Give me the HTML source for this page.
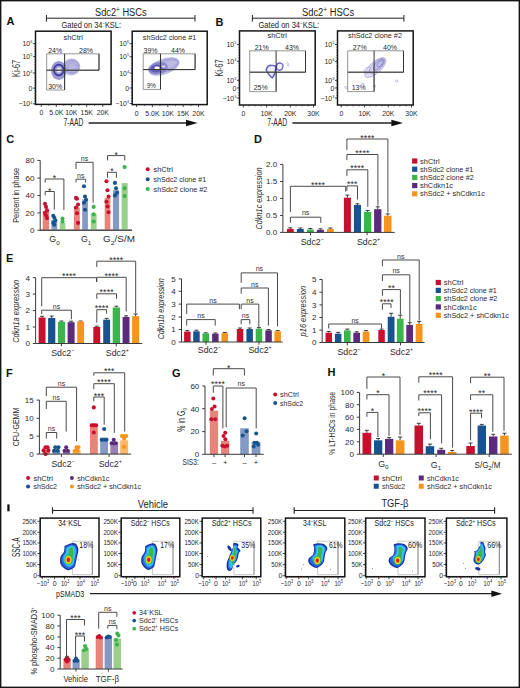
<!DOCTYPE html>
<html><head><meta charset="utf-8"><style>
html,body{margin:0;padding:0;background:#fff;}
svg{display:block;}
text{font-family:"Liberation Sans", sans-serif;}
</style></head><body>
<svg width="520" height="688" viewBox="0 0 520 688">
<rect width="520" height="688" fill="#fff"/>
<rect x="0.7" y="0.7" width="518.6" height="686.6" fill="none" stroke="#161616" stroke-width="1.4"/>
<text x="6.5" y="25.16" font-size="11" text-anchor="start" font-weight="bold" font-style="normal" fill="#111">A</text>
<text x="215.6" y="25.76" font-size="11" text-anchor="start" font-weight="bold" font-style="normal" fill="#111">B</text>
<text x="6.2" y="142.56" font-size="11" text-anchor="start" font-weight="bold" font-style="normal" fill="#111">C</text>
<text x="254" y="142.76" font-size="11" text-anchor="start" font-weight="bold" font-style="normal" fill="#111">D</text>
<text x="6" y="261.76" font-size="11" text-anchor="start" font-weight="bold" font-style="normal" fill="#111">E</text>
<text x="6" y="376.56" font-size="11" text-anchor="start" font-weight="bold" font-style="normal" fill="#111">F</text>
<text x="172" y="376.56" font-size="11" text-anchor="start" font-weight="bold" font-style="normal" fill="#111">G</text>
<text x="327.6" y="376.36" font-size="11" text-anchor="start" font-weight="bold" font-style="normal" fill="#111">H</text>
<rect x="7.3" y="504.4" width="2.3" height="6.9" fill="#111"/>
<text x="120.5" y="15.50" font-size="10" text-anchor="start" font-weight="normal" font-style="normal" fill="#2a2a2a"></text>
<text x="95" y="15.6" font-size="10" fill="#222" textLength="51.6" lengthAdjust="spacingAndGlyphs">Sdc2<tspan font-size="7" dy="-3.6">+</tspan><tspan dy="3.6"> HSCs</tspan></text>
<path d="M46.4,15 V21.6 M46.4,18.2 H195 M195,15 V21.6" stroke="#222" stroke-width="1.0" fill="none" />
<text x="61.6" y="27.6" font-size="8.6" fill="#222" textLength="59.4" lengthAdjust="spacingAndGlyphs">Gated on 34<tspan font-size="5" dy="-3">−</tspan><tspan dy="3">KSL:</tspan></text>
<text x="302" y="15.6" font-size="10" fill="#222" textLength="52.2" lengthAdjust="spacingAndGlyphs">Sdc2<tspan font-size="7" dy="-3.6">+</tspan><tspan dy="3.6"> HSCs</tspan></text>
<path d="M252.4,15 V21.6 M252.4,18.2 H403.9 M403.9,15 V21.6" stroke="#222" stroke-width="1.0" fill="none" />
<text x="258.5" y="27.6" font-size="8.6" fill="#222" textLength="60.5" lengthAdjust="spacingAndGlyphs">Gated on 34<tspan font-size="5" dy="-3">−</tspan><tspan dy="3">KSL:</tspan></text>
<rect x="35.5" y="31.2" width="75.6" height="73.2" fill="none" stroke="#161616" stroke-width="1.5"/>
<text x="73.2" y="40.09" font-size="7.2" text-anchor="middle" font-weight="normal" font-style="normal" fill="#2a2a2a" textLength="19.2" lengthAdjust="spacingAndGlyphs">shCtrl</text>
<defs><filter id="bs" x="-30%" y="-30%" width="160%" height="160%"><feGaussianBlur stdDeviation="0.55"/></filter></defs>
<g filter="url(#bs)"><ellipse cx="71.5" cy="67" rx="8.8" ry="8.4" fill="#a9a6da" fill-opacity="0.8"/><ellipse cx="72" cy="66.8" rx="6.6" ry="6.2" fill="none" stroke="#8986cc" stroke-width="0.7"/><ellipse cx="72" cy="67" rx="4.2" ry="4" fill="none" stroke="#9a97d4" stroke-width="0.6"/><ellipse cx="58.8" cy="70.5" rx="7.8" ry="9.4" fill="#8a86cc" fill-opacity="0.85"/><ellipse cx="58.8" cy="70" rx="4.9" ry="5.3" fill="none" stroke="#3e3aa4" stroke-width="1.8"/><ellipse cx="58.9" cy="70" rx="2.4" ry="2.7" fill="#e6e5f6"/></g>
<path d="M46.7,53.8 H99 V70.2 H46.7 Z M46.7,70.2 V90 H64.6 V70.2" stroke="#8a8a8a" stroke-width="0.9" fill="none" />
<path d="M64.6,53.8 V90 M46.7,70.2 H99 M99,53.8 V70.2" stroke="#333" stroke-width="1.0" fill="none" />
<text x="55.2" y="53.24" font-size="7.9" text-anchor="middle" font-weight="normal" font-style="normal" fill="#2a2a2a" textLength="14" lengthAdjust="spacingAndGlyphs">24%</text>
<text x="86" y="53.24" font-size="7.9" text-anchor="middle" font-weight="normal" font-style="normal" fill="#2a2a2a" textLength="14" lengthAdjust="spacingAndGlyphs">28%</text>
<text x="55.2" y="89.04" font-size="7.9" text-anchor="middle" font-weight="normal" font-style="normal" fill="#2a2a2a" textLength="14" lengthAdjust="spacingAndGlyphs">30%</text>
<line x1="34.1" y1="43.7" x2="35.5" y2="43.7" stroke="#333" stroke-width="0.5"/>
<line x1="34.1" y1="46.3" x2="35.5" y2="46.3" stroke="#333" stroke-width="0.5"/>
<line x1="34.1" y1="48.9" x2="35.5" y2="48.9" stroke="#333" stroke-width="0.5"/>
<line x1="34.1" y1="51.5" x2="35.5" y2="51.5" stroke="#333" stroke-width="0.5"/>
<line x1="34.1" y1="54.2" x2="35.5" y2="54.2" stroke="#333" stroke-width="0.5"/>
<line x1="34.1" y1="56.8" x2="35.5" y2="56.8" stroke="#333" stroke-width="0.5"/>
<line x1="34.1" y1="59.4" x2="35.5" y2="59.4" stroke="#333" stroke-width="0.5"/>
<line x1="34.1" y1="62.0" x2="35.5" y2="62.0" stroke="#333" stroke-width="0.5"/>
<line x1="34.1" y1="64.6" x2="35.5" y2="64.6" stroke="#333" stroke-width="0.5"/>
<line x1="34.1" y1="67.2" x2="35.5" y2="67.2" stroke="#333" stroke-width="0.5"/>
<line x1="34.1" y1="69.8" x2="35.5" y2="69.8" stroke="#333" stroke-width="0.5"/>
<line x1="34.1" y1="72.4" x2="35.5" y2="72.4" stroke="#333" stroke-width="0.5"/>
<line x1="34.1" y1="75.1" x2="35.5" y2="75.1" stroke="#333" stroke-width="0.5"/>
<line x1="34.1" y1="77.7" x2="35.5" y2="77.7" stroke="#333" stroke-width="0.5"/>
<line x1="34.1" y1="80.3" x2="35.5" y2="80.3" stroke="#333" stroke-width="0.5"/>
<line x1="34.1" y1="82.9" x2="35.5" y2="82.9" stroke="#333" stroke-width="0.5"/>
<line x1="34.1" y1="85.5" x2="35.5" y2="85.5" stroke="#333" stroke-width="0.5"/>
<line x1="34.1" y1="88.1" x2="35.5" y2="88.1" stroke="#333" stroke-width="0.5"/>
<line x1="34.1" y1="90.7" x2="35.5" y2="90.7" stroke="#333" stroke-width="0.5"/>
<line x1="34.1" y1="93.3" x2="35.5" y2="93.3" stroke="#333" stroke-width="0.5"/>
<line x1="34.1" y1="96.0" x2="35.5" y2="96.0" stroke="#333" stroke-width="0.5"/>
<line x1="34.1" y1="98.6" x2="35.5" y2="98.6" stroke="#333" stroke-width="0.5"/>
<line x1="34.1" y1="101.2" x2="35.5" y2="101.2" stroke="#333" stroke-width="0.5"/>
<line x1="34.1" y1="103.8" x2="35.5" y2="103.8" stroke="#333" stroke-width="0.5"/>
<line x1="32.9" y1="43.7" x2="35.5" y2="43.7" stroke="#222" stroke-width="0.8"/>
<text x="32.3" y="46.20" font-size="6.9" text-anchor="end" fill="#2a2a2a">10<tspan font-size="3.80" dy="-2.8">6</tspan></text>
<line x1="32.9" y1="56.7" x2="35.5" y2="56.7" stroke="#222" stroke-width="0.8"/>
<text x="32.3" y="59.20" font-size="6.9" text-anchor="end" fill="#2a2a2a">10<tspan font-size="3.80" dy="-2.8">5</tspan></text>
<line x1="32.9" y1="73.1" x2="35.5" y2="73.1" stroke="#222" stroke-width="0.8"/>
<text x="32.3" y="75.60" font-size="6.9" text-anchor="end" fill="#2a2a2a">10<tspan font-size="3.80" dy="-2.8">4</tspan></text>
<line x1="32.9" y1="88.1" x2="35.5" y2="88.1" stroke="#222" stroke-width="0.8"/>
<text x="32.3" y="90.60" font-size="6.9" text-anchor="end" fill="#2a2a2a">0</text>
<line x1="32.9" y1="103.8" x2="35.5" y2="103.8" stroke="#222" stroke-width="0.8"/>
<text x="32.3" y="106.30" font-size="6.9" text-anchor="end" fill="#2a2a2a">−10<tspan font-size="3.80" dy="-2.8">4</tspan></text>
<line x1="41.3" y1="104.4" x2="41.3" y2="106.9" stroke="#222" stroke-width="0.8"/>
<text x="41.3" y="115.38" font-size="6.9" text-anchor="middle" font-weight="normal" font-style="normal" fill="#2a2a2a">0</text>
<line x1="56.3" y1="104.4" x2="56.3" y2="106.9" stroke="#222" stroke-width="0.8"/>
<text x="56.3" y="115.38" font-size="6.9" text-anchor="middle" font-weight="normal" font-style="normal" fill="#2a2a2a">5.0K</text>
<line x1="71.3" y1="104.4" x2="71.3" y2="106.9" stroke="#222" stroke-width="0.8"/>
<text x="71.3" y="115.38" font-size="6.9" text-anchor="middle" font-weight="normal" font-style="normal" fill="#2a2a2a">10K</text>
<line x1="86.7" y1="104.4" x2="86.7" y2="106.9" stroke="#222" stroke-width="0.8"/>
<text x="86.7" y="115.38" font-size="6.9" text-anchor="middle" font-weight="normal" font-style="normal" fill="#2a2a2a">15K</text>
<line x1="102.8" y1="104.4" x2="102.8" y2="106.9" stroke="#222" stroke-width="0.8"/>
<text x="102.8" y="115.38" font-size="6.9" text-anchor="middle" font-weight="normal" font-style="normal" fill="#2a2a2a">20K</text>
<line x1="48.8" y1="104.4" x2="48.8" y2="105.9" stroke="#222" stroke-width="0.6"/>
<line x1="63.8" y1="104.4" x2="63.8" y2="105.9" stroke="#222" stroke-width="0.6"/>
<line x1="79" y1="104.4" x2="79" y2="105.9" stroke="#222" stroke-width="0.6"/>
<line x1="94.7" y1="104.4" x2="94.7" y2="105.9" stroke="#222" stroke-width="0.6"/>
<text x="16.1" y="68.4" font-size="10.5" text-anchor="middle" fill="#333" transform="rotate(-90 16.1 68.4)" dy="3.78" textLength="17" lengthAdjust="spacingAndGlyphs">Ki-67</text>
<rect x="132.2" y="31.2" width="75.0" height="73.39999999999999" fill="none" stroke="#161616" stroke-width="1.5"/>
<text x="169.5" y="40.09" font-size="7.2" text-anchor="middle" font-weight="normal" font-style="normal" fill="#2a2a2a" textLength="53.4" lengthAdjust="spacingAndGlyphs">shSdc2 clone #1</text>
<g filter="url(#bs)"><ellipse cx="164" cy="66.5" rx="16.2" ry="8" transform="rotate(-20 164 66.5)" fill="#aeabdc" fill-opacity="0.8"/><ellipse cx="167" cy="65.5" rx="12" ry="5.5" transform="rotate(-20 167 65.5)" fill="none" stroke="#8e8bcf" stroke-width="0.7"/><ellipse cx="170" cy="64.5" rx="8" ry="3.5" transform="rotate(-22 170 64.5)" fill="none" stroke="#9c99d6" stroke-width="0.6"/><ellipse cx="158" cy="68.2" rx="10" ry="6" transform="rotate(-12 158 68.2)" fill="#7a76c4" fill-opacity="0.75"/><ellipse cx="156.6" cy="68.4" rx="6" ry="3.8" transform="rotate(-8 156.6 68.4)" fill="#4f4bac" fill-opacity="0.75"/><ellipse cx="157" cy="68" rx="2.7" ry="1.4" fill="#ffffff"/><ellipse cx="163.5" cy="66.5" rx="2" ry="0.9" fill="#e4e2f4"/></g>
<path d="M143.2,53.8 H195.1 V69.6 H143.2 Z M143.2,69.6 V89.4 H160.5 V69.6" stroke="#8a8a8a" stroke-width="0.9" fill="none" />
<path d="M160.5,53.8 V89.4 M143.2,69.6 H195.1 M195.1,53.8 V69.6" stroke="#333" stroke-width="1.0" fill="none" />
<text x="150.5" y="52.84" font-size="7.9" text-anchor="middle" font-weight="normal" font-style="normal" fill="#2a2a2a" textLength="14" lengthAdjust="spacingAndGlyphs">39%</text>
<text x="178" y="52.84" font-size="7.9" text-anchor="middle" font-weight="normal" font-style="normal" fill="#2a2a2a" textLength="14" lengthAdjust="spacingAndGlyphs">44%</text>
<text x="151.4" y="87.84" font-size="7.9" text-anchor="middle" font-weight="normal" font-style="normal" fill="#2a2a2a" textLength="9" lengthAdjust="spacingAndGlyphs">9%</text>
<line x1="130.79999999999998" y1="43.7" x2="132.2" y2="43.7" stroke="#333" stroke-width="0.5"/>
<line x1="130.79999999999998" y1="46.4" x2="132.2" y2="46.4" stroke="#333" stroke-width="0.5"/>
<line x1="130.79999999999998" y1="49.1" x2="132.2" y2="49.1" stroke="#333" stroke-width="0.5"/>
<line x1="130.79999999999998" y1="51.9" x2="132.2" y2="51.9" stroke="#333" stroke-width="0.5"/>
<line x1="130.79999999999998" y1="54.6" x2="132.2" y2="54.6" stroke="#333" stroke-width="0.5"/>
<line x1="130.79999999999998" y1="57.3" x2="132.2" y2="57.3" stroke="#333" stroke-width="0.5"/>
<line x1="130.79999999999998" y1="60.0" x2="132.2" y2="60.0" stroke="#333" stroke-width="0.5"/>
<line x1="130.79999999999998" y1="62.7" x2="132.2" y2="62.7" stroke="#333" stroke-width="0.5"/>
<line x1="130.79999999999998" y1="65.4" x2="132.2" y2="65.4" stroke="#333" stroke-width="0.5"/>
<line x1="130.79999999999998" y1="68.2" x2="132.2" y2="68.2" stroke="#333" stroke-width="0.5"/>
<line x1="130.79999999999998" y1="70.9" x2="132.2" y2="70.9" stroke="#333" stroke-width="0.5"/>
<line x1="130.79999999999998" y1="73.6" x2="132.2" y2="73.6" stroke="#333" stroke-width="0.5"/>
<line x1="130.79999999999998" y1="76.3" x2="132.2" y2="76.3" stroke="#333" stroke-width="0.5"/>
<line x1="130.79999999999998" y1="79.0" x2="132.2" y2="79.0" stroke="#333" stroke-width="0.5"/>
<line x1="130.79999999999998" y1="81.8" x2="132.2" y2="81.8" stroke="#333" stroke-width="0.5"/>
<line x1="130.79999999999998" y1="84.5" x2="132.2" y2="84.5" stroke="#333" stroke-width="0.5"/>
<line x1="130.79999999999998" y1="87.2" x2="132.2" y2="87.2" stroke="#333" stroke-width="0.5"/>
<line x1="130.79999999999998" y1="89.9" x2="132.2" y2="89.9" stroke="#333" stroke-width="0.5"/>
<line x1="130.79999999999998" y1="92.6" x2="132.2" y2="92.6" stroke="#333" stroke-width="0.5"/>
<line x1="130.79999999999998" y1="95.3" x2="132.2" y2="95.3" stroke="#333" stroke-width="0.5"/>
<line x1="130.79999999999998" y1="98.1" x2="132.2" y2="98.1" stroke="#333" stroke-width="0.5"/>
<line x1="130.79999999999998" y1="100.8" x2="132.2" y2="100.8" stroke="#333" stroke-width="0.5"/>
<line x1="130.79999999999998" y1="103.5" x2="132.2" y2="103.5" stroke="#333" stroke-width="0.5"/>
<line x1="129.6" y1="43.7" x2="132.2" y2="43.7" stroke="#222" stroke-width="0.8"/>
<text x="129.0" y="46.20" font-size="6.9" text-anchor="end" fill="#2a2a2a">10<tspan font-size="3.80" dy="-2.8">6</tspan></text>
<line x1="129.6" y1="56.7" x2="132.2" y2="56.7" stroke="#222" stroke-width="0.8"/>
<text x="129.0" y="59.20" font-size="6.9" text-anchor="end" fill="#2a2a2a">10<tspan font-size="3.80" dy="-2.8">5</tspan></text>
<line x1="129.6" y1="73" x2="132.2" y2="73" stroke="#222" stroke-width="0.8"/>
<text x="129.0" y="75.50" font-size="6.9" text-anchor="end" fill="#2a2a2a">10<tspan font-size="3.80" dy="-2.8">4</tspan></text>
<line x1="129.6" y1="88" x2="132.2" y2="88" stroke="#222" stroke-width="0.8"/>
<text x="129.0" y="90.50" font-size="6.9" text-anchor="end" fill="#2a2a2a">0</text>
<line x1="129.6" y1="103.5" x2="132.2" y2="103.5" stroke="#222" stroke-width="0.8"/>
<text x="129.0" y="106.00" font-size="6.9" text-anchor="end" fill="#2a2a2a">−10<tspan font-size="3.80" dy="-2.8">4</tspan></text>
<line x1="136.6" y1="104.6" x2="136.6" y2="107.1" stroke="#222" stroke-width="0.8"/>
<text x="136.6" y="115.58" font-size="6.9" text-anchor="middle" font-weight="normal" font-style="normal" fill="#2a2a2a">0</text>
<line x1="152.4" y1="104.6" x2="152.4" y2="107.1" stroke="#222" stroke-width="0.8"/>
<text x="152.4" y="115.58" font-size="6.9" text-anchor="middle" font-weight="normal" font-style="normal" fill="#2a2a2a">5.0K</text>
<line x1="167.8" y1="104.6" x2="167.8" y2="107.1" stroke="#222" stroke-width="0.8"/>
<text x="167.8" y="115.58" font-size="6.9" text-anchor="middle" font-weight="normal" font-style="normal" fill="#2a2a2a">10K</text>
<line x1="183.2" y1="104.6" x2="183.2" y2="107.1" stroke="#222" stroke-width="0.8"/>
<text x="183.2" y="115.58" font-size="6.9" text-anchor="middle" font-weight="normal" font-style="normal" fill="#2a2a2a">15K</text>
<line x1="198.5" y1="104.6" x2="198.5" y2="107.1" stroke="#222" stroke-width="0.8"/>
<text x="198.5" y="115.58" font-size="6.9" text-anchor="middle" font-weight="normal" font-style="normal" fill="#2a2a2a">20K</text>
<line x1="144.5" y1="104.6" x2="144.5" y2="106.1" stroke="#222" stroke-width="0.6"/>
<line x1="160" y1="104.6" x2="160" y2="106.1" stroke="#222" stroke-width="0.6"/>
<line x1="175.5" y1="104.6" x2="175.5" y2="106.1" stroke="#222" stroke-width="0.6"/>
<line x1="191" y1="104.6" x2="191" y2="106.1" stroke="#222" stroke-width="0.6"/>
<text x="73.4" y="126.44" font-size="10.4" text-anchor="middle" font-weight="normal" font-style="normal" fill="#2a2a2a" textLength="20" lengthAdjust="spacingAndGlyphs">7-AAD</text>
<path d="M88.6,123 H188" stroke="#222" stroke-width="1.3" fill="none" />
<path d="M186,119.8 L197.6,123 L186,126.2 Z" stroke="none" stroke-width="0" fill="#111" />
<rect x="239.5" y="30.9" width="75.69999999999999" height="74.1" fill="none" stroke="#161616" stroke-width="1.5"/>
<text x="277.2" y="38.39" font-size="7.2" text-anchor="middle" font-weight="normal" font-style="normal" fill="#2a2a2a" textLength="19.2" lengthAdjust="spacingAndGlyphs">shCtrl</text>
<g filter="url(#bs)"><path d="M266.2,69.3 C267.5,66.5 269.5,65.2 271,65.4 C273,65.3 275,65.6 275.6,66.5 C276,70 274.5,75 272.3,77.9 C270.5,77 269,74.5 268,73.2 C267,72 266.2,70.5 266.2,69.3 Z" fill="#dcdaf2" fill-opacity="0.5" stroke="#625ebc" stroke-width="1.5"/><ellipse cx="279.7" cy="66.6" rx="3.2" ry="3.6" transform="rotate(15 279.7 66.6)" fill="#e0def4" fill-opacity="0.4" stroke="#6c68c2" stroke-width="1.3"/><path d="M287,62.5 C288.5,62 289.5,65 288.5,66.2 C287.5,66.5 286.5,64 287,62.5 Z" fill="none" stroke="#a6a2d8" stroke-width="0.6"/></g>
<path d="M249.7,50.8 H305.5 V72.2 H249.7 Z M249.7,72.2 V91.6 H276.1 V72.2" stroke="#8a8a8a" stroke-width="0.9" fill="none" />
<path d="M276.1,50.8 V91.6 M249.7,72.2 H305.5 M305.5,50.8 V72.2" stroke="#333" stroke-width="1.0" fill="none" />
<text x="261.7" y="49.64" font-size="7.9" text-anchor="middle" font-weight="normal" font-style="normal" fill="#2a2a2a" textLength="14" lengthAdjust="spacingAndGlyphs">21%</text>
<text x="292" y="49.64" font-size="7.9" text-anchor="middle" font-weight="normal" font-style="normal" fill="#2a2a2a" textLength="14" lengthAdjust="spacingAndGlyphs">43%</text>
<text x="260.7" y="90.44" font-size="7.9" text-anchor="middle" font-weight="normal" font-style="normal" fill="#2a2a2a" textLength="14" lengthAdjust="spacingAndGlyphs">25%</text>
<line x1="238.1" y1="44.5" x2="239.5" y2="44.5" stroke="#333" stroke-width="0.5"/>
<line x1="238.1" y1="47.2" x2="239.5" y2="47.2" stroke="#333" stroke-width="0.5"/>
<line x1="238.1" y1="49.9" x2="239.5" y2="49.9" stroke="#333" stroke-width="0.5"/>
<line x1="238.1" y1="52.5" x2="239.5" y2="52.5" stroke="#333" stroke-width="0.5"/>
<line x1="238.1" y1="55.2" x2="239.5" y2="55.2" stroke="#333" stroke-width="0.5"/>
<line x1="238.1" y1="57.9" x2="239.5" y2="57.9" stroke="#333" stroke-width="0.5"/>
<line x1="238.1" y1="60.5" x2="239.5" y2="60.5" stroke="#333" stroke-width="0.5"/>
<line x1="238.1" y1="63.2" x2="239.5" y2="63.2" stroke="#333" stroke-width="0.5"/>
<line x1="238.1" y1="65.9" x2="239.5" y2="65.9" stroke="#333" stroke-width="0.5"/>
<line x1="238.1" y1="68.6" x2="239.5" y2="68.6" stroke="#333" stroke-width="0.5"/>
<line x1="238.1" y1="71.2" x2="239.5" y2="71.2" stroke="#333" stroke-width="0.5"/>
<line x1="238.1" y1="73.9" x2="239.5" y2="73.9" stroke="#333" stroke-width="0.5"/>
<line x1="238.1" y1="76.6" x2="239.5" y2="76.6" stroke="#333" stroke-width="0.5"/>
<line x1="238.1" y1="79.3" x2="239.5" y2="79.3" stroke="#333" stroke-width="0.5"/>
<line x1="238.1" y1="82.0" x2="239.5" y2="82.0" stroke="#333" stroke-width="0.5"/>
<line x1="238.1" y1="84.6" x2="239.5" y2="84.6" stroke="#333" stroke-width="0.5"/>
<line x1="238.1" y1="87.3" x2="239.5" y2="87.3" stroke="#333" stroke-width="0.5"/>
<line x1="238.1" y1="90.0" x2="239.5" y2="90.0" stroke="#333" stroke-width="0.5"/>
<line x1="238.1" y1="92.7" x2="239.5" y2="92.7" stroke="#333" stroke-width="0.5"/>
<line x1="238.1" y1="95.3" x2="239.5" y2="95.3" stroke="#333" stroke-width="0.5"/>
<line x1="238.1" y1="98.0" x2="239.5" y2="98.0" stroke="#333" stroke-width="0.5"/>
<line x1="236.9" y1="44.5" x2="239.5" y2="44.5" stroke="#222" stroke-width="0.8"/>
<text x="236.3" y="47.00" font-size="6.9" text-anchor="end" fill="#2a2a2a">10<tspan font-size="3.80" dy="-2.8">5</tspan></text>
<line x1="236.9" y1="61.4" x2="239.5" y2="61.4" stroke="#222" stroke-width="0.8"/>
<text x="236.3" y="63.90" font-size="6.9" text-anchor="end" fill="#2a2a2a">10<tspan font-size="3.80" dy="-2.8">4</tspan></text>
<line x1="236.9" y1="80.4" x2="239.5" y2="80.4" stroke="#222" stroke-width="0.8"/>
<text x="236.3" y="82.90" font-size="6.9" text-anchor="end" fill="#2a2a2a">10<tspan font-size="3.80" dy="-2.8">3</tspan></text>
<line x1="236.9" y1="88" x2="239.5" y2="88" stroke="#222" stroke-width="0.8"/>
<text x="236.3" y="90.50" font-size="6.9" text-anchor="end" fill="#2a2a2a">0</text>
<line x1="236.9" y1="98" x2="239.5" y2="98" stroke="#222" stroke-width="0.8"/>
<text x="236.3" y="100.50" font-size="6.9" text-anchor="end" fill="#2a2a2a">−10<tspan font-size="3.80" dy="-2.8">3</tspan></text>
<line x1="243.3" y1="105" x2="243.3" y2="107.5" stroke="#222" stroke-width="0.8"/>
<text x="243.3" y="115.98" font-size="6.9" text-anchor="middle" font-weight="normal" font-style="normal" fill="#2a2a2a">0</text>
<line x1="266.6" y1="105" x2="266.6" y2="107.5" stroke="#222" stroke-width="0.8"/>
<text x="266.6" y="115.98" font-size="6.9" text-anchor="middle" font-weight="normal" font-style="normal" fill="#2a2a2a">10K</text>
<line x1="290.3" y1="105" x2="290.3" y2="107.5" stroke="#222" stroke-width="0.8"/>
<text x="290.3" y="115.98" font-size="6.9" text-anchor="middle" font-weight="normal" font-style="normal" fill="#2a2a2a">20K</text>
<line x1="313.5" y1="105" x2="313.5" y2="107.5" stroke="#222" stroke-width="0.8"/>
<text x="313.5" y="115.98" font-size="6.9" text-anchor="middle" font-weight="normal" font-style="normal" fill="#2a2a2a">30K</text>
<line x1="249" y1="105" x2="249" y2="106.5" stroke="#222" stroke-width="0.6"/>
<line x1="255" y1="105" x2="255" y2="106.5" stroke="#222" stroke-width="0.6"/>
<line x1="261" y1="105" x2="261" y2="106.5" stroke="#222" stroke-width="0.6"/>
<line x1="272" y1="105" x2="272" y2="106.5" stroke="#222" stroke-width="0.6"/>
<line x1="278" y1="105" x2="278" y2="106.5" stroke="#222" stroke-width="0.6"/>
<line x1="284" y1="105" x2="284" y2="106.5" stroke="#222" stroke-width="0.6"/>
<line x1="296" y1="105" x2="296" y2="106.5" stroke="#222" stroke-width="0.6"/>
<line x1="302" y1="105" x2="302" y2="106.5" stroke="#222" stroke-width="0.6"/>
<line x1="308" y1="105" x2="308" y2="106.5" stroke="#222" stroke-width="0.6"/>
<text x="219.3" y="68" font-size="10.5" text-anchor="middle" fill="#333" transform="rotate(-90 219.3 68)" dy="3.78" textLength="17.2" lengthAdjust="spacingAndGlyphs">Ki-67</text>
<rect x="337.5" y="30.9" width="75.69999999999999" height="74.1" fill="none" stroke="#161616" stroke-width="1.5"/>
<text x="375" y="38.39" font-size="7.2" text-anchor="middle" font-weight="normal" font-style="normal" fill="#2a2a2a" textLength="54" lengthAdjust="spacingAndGlyphs">shSdc2 clone #2</text>
<g filter="url(#bs)"><ellipse cx="375.3" cy="67.6" rx="13.5" ry="5.6" transform="rotate(-42 375.3 67.6)" fill="#d4d1f0" fill-opacity="0.7" stroke="#a9a5da" stroke-width="0.7"/><ellipse cx="377" cy="66" rx="10" ry="4.2" transform="rotate(-44 377 66)" fill="none" stroke="#9591d2" stroke-width="0.7"/><ellipse cx="378.5" cy="64.8" rx="7" ry="3" transform="rotate(-46 378.5 64.8)" fill="#b2aee0" fill-opacity="0.6" stroke="#7e7ac6" stroke-width="0.8"/><ellipse cx="380" cy="63.8" rx="4" ry="1.8" transform="rotate(-48 380 63.8)" fill="none" stroke="#8884cc" stroke-width="0.7"/><ellipse cx="367.5" cy="70.5" rx="4" ry="3" transform="rotate(-30 367.5 70.5)" fill="none" stroke="#aaa6da" stroke-width="0.6"/></g>
<ellipse cx="346" cy="87.4" rx="1.3" ry="1" fill="none" stroke="#9a98d0" stroke-width="0.6"/>
<ellipse cx="362.9" cy="84.2" rx="1.3" ry="1" fill="none" stroke="#9a98d0" stroke-width="0.6"/>
<ellipse cx="374.5" cy="86.3" rx="1.3" ry="1" fill="none" stroke="#9a98d0" stroke-width="0.6"/>
<ellipse cx="396.7" cy="81" rx="1.3" ry="1" fill="none" stroke="#9a98d0" stroke-width="0.6"/>
<path d="M347.7,50.8 H403.5 V72.2 H347.7 Z M347.7,72.2 V91.6 H374.1 V72.2" stroke="#8a8a8a" stroke-width="0.9" fill="none" />
<path d="M374.1,50.8 V91.6 M347.7,72.2 H403.5 M403.5,50.8 V72.2" stroke="#333" stroke-width="1.0" fill="none" />
<text x="359.7" y="49.64" font-size="7.9" text-anchor="middle" font-weight="normal" font-style="normal" fill="#2a2a2a" textLength="14" lengthAdjust="spacingAndGlyphs">27%</text>
<text x="390" y="49.64" font-size="7.9" text-anchor="middle" font-weight="normal" font-style="normal" fill="#2a2a2a" textLength="14" lengthAdjust="spacingAndGlyphs">40%</text>
<text x="358.7" y="90.44" font-size="7.9" text-anchor="middle" font-weight="normal" font-style="normal" fill="#2a2a2a" textLength="14" lengthAdjust="spacingAndGlyphs">13%</text>
<line x1="336.1" y1="44.5" x2="337.5" y2="44.5" stroke="#333" stroke-width="0.5"/>
<line x1="336.1" y1="47.2" x2="337.5" y2="47.2" stroke="#333" stroke-width="0.5"/>
<line x1="336.1" y1="49.9" x2="337.5" y2="49.9" stroke="#333" stroke-width="0.5"/>
<line x1="336.1" y1="52.5" x2="337.5" y2="52.5" stroke="#333" stroke-width="0.5"/>
<line x1="336.1" y1="55.2" x2="337.5" y2="55.2" stroke="#333" stroke-width="0.5"/>
<line x1="336.1" y1="57.9" x2="337.5" y2="57.9" stroke="#333" stroke-width="0.5"/>
<line x1="336.1" y1="60.5" x2="337.5" y2="60.5" stroke="#333" stroke-width="0.5"/>
<line x1="336.1" y1="63.2" x2="337.5" y2="63.2" stroke="#333" stroke-width="0.5"/>
<line x1="336.1" y1="65.9" x2="337.5" y2="65.9" stroke="#333" stroke-width="0.5"/>
<line x1="336.1" y1="68.6" x2="337.5" y2="68.6" stroke="#333" stroke-width="0.5"/>
<line x1="336.1" y1="71.2" x2="337.5" y2="71.2" stroke="#333" stroke-width="0.5"/>
<line x1="336.1" y1="73.9" x2="337.5" y2="73.9" stroke="#333" stroke-width="0.5"/>
<line x1="336.1" y1="76.6" x2="337.5" y2="76.6" stroke="#333" stroke-width="0.5"/>
<line x1="336.1" y1="79.3" x2="337.5" y2="79.3" stroke="#333" stroke-width="0.5"/>
<line x1="336.1" y1="82.0" x2="337.5" y2="82.0" stroke="#333" stroke-width="0.5"/>
<line x1="336.1" y1="84.6" x2="337.5" y2="84.6" stroke="#333" stroke-width="0.5"/>
<line x1="336.1" y1="87.3" x2="337.5" y2="87.3" stroke="#333" stroke-width="0.5"/>
<line x1="336.1" y1="90.0" x2="337.5" y2="90.0" stroke="#333" stroke-width="0.5"/>
<line x1="336.1" y1="92.7" x2="337.5" y2="92.7" stroke="#333" stroke-width="0.5"/>
<line x1="336.1" y1="95.3" x2="337.5" y2="95.3" stroke="#333" stroke-width="0.5"/>
<line x1="336.1" y1="98.0" x2="337.5" y2="98.0" stroke="#333" stroke-width="0.5"/>
<line x1="334.9" y1="44.5" x2="337.5" y2="44.5" stroke="#222" stroke-width="0.8"/>
<text x="334.3" y="47.00" font-size="6.9" text-anchor="end" fill="#2a2a2a">10<tspan font-size="3.80" dy="-2.8">5</tspan></text>
<line x1="334.9" y1="61.4" x2="337.5" y2="61.4" stroke="#222" stroke-width="0.8"/>
<text x="334.3" y="63.90" font-size="6.9" text-anchor="end" fill="#2a2a2a">10<tspan font-size="3.80" dy="-2.8">4</tspan></text>
<line x1="334.9" y1="80.4" x2="337.5" y2="80.4" stroke="#222" stroke-width="0.8"/>
<text x="334.3" y="82.90" font-size="6.9" text-anchor="end" fill="#2a2a2a">10<tspan font-size="3.80" dy="-2.8">3</tspan></text>
<line x1="334.9" y1="88" x2="337.5" y2="88" stroke="#222" stroke-width="0.8"/>
<text x="334.3" y="90.50" font-size="6.9" text-anchor="end" fill="#2a2a2a">0</text>
<line x1="334.9" y1="98" x2="337.5" y2="98" stroke="#222" stroke-width="0.8"/>
<text x="334.3" y="100.50" font-size="6.9" text-anchor="end" fill="#2a2a2a">−10<tspan font-size="3.80" dy="-2.8">3</tspan></text>
<line x1="341.3" y1="105" x2="341.3" y2="107.5" stroke="#222" stroke-width="0.8"/>
<text x="341.3" y="115.98" font-size="6.9" text-anchor="middle" font-weight="normal" font-style="normal" fill="#2a2a2a">0</text>
<line x1="364.6" y1="105" x2="364.6" y2="107.5" stroke="#222" stroke-width="0.8"/>
<text x="364.6" y="115.98" font-size="6.9" text-anchor="middle" font-weight="normal" font-style="normal" fill="#2a2a2a">10K</text>
<line x1="388.3" y1="105" x2="388.3" y2="107.5" stroke="#222" stroke-width="0.8"/>
<text x="388.3" y="115.98" font-size="6.9" text-anchor="middle" font-weight="normal" font-style="normal" fill="#2a2a2a">20K</text>
<line x1="411.5" y1="105" x2="411.5" y2="107.5" stroke="#222" stroke-width="0.8"/>
<text x="411.5" y="115.98" font-size="6.9" text-anchor="middle" font-weight="normal" font-style="normal" fill="#2a2a2a">30K</text>
<line x1="347" y1="105" x2="347" y2="106.5" stroke="#222" stroke-width="0.6"/>
<line x1="353" y1="105" x2="353" y2="106.5" stroke="#222" stroke-width="0.6"/>
<line x1="359" y1="105" x2="359" y2="106.5" stroke="#222" stroke-width="0.6"/>
<line x1="370" y1="105" x2="370" y2="106.5" stroke="#222" stroke-width="0.6"/>
<line x1="376" y1="105" x2="376" y2="106.5" stroke="#222" stroke-width="0.6"/>
<line x1="382" y1="105" x2="382" y2="106.5" stroke="#222" stroke-width="0.6"/>
<line x1="394" y1="105" x2="394" y2="106.5" stroke="#222" stroke-width="0.6"/>
<line x1="400" y1="105" x2="400" y2="106.5" stroke="#222" stroke-width="0.6"/>
<line x1="406" y1="105" x2="406" y2="106.5" stroke="#222" stroke-width="0.6"/>
<text x="277.2" y="126.44" font-size="10.4" text-anchor="middle" font-weight="normal" font-style="normal" fill="#2a2a2a" textLength="20" lengthAdjust="spacingAndGlyphs">7-AAD</text>
<path d="M292.4,123 H393" stroke="#222" stroke-width="1.3" fill="none" />
<path d="M391.4,119.8 L403,123 L391.4,126.2 Z" stroke="none" stroke-width="0" fill="#111" />
<line x1="40.2" y1="160.4" x2="40.2" y2="230.2" stroke="#3a3a3a" stroke-width="1.0"/>
<line x1="37.400000000000006" y1="160.4" x2="40.2" y2="160.4" stroke="#3a3a3a" stroke-width="1.0"/>
<text x="34.50000000000001" y="163.28" font-size="8.0" text-anchor="end" font-weight="normal" font-style="normal" fill="#2a2a2a">80</text>
<line x1="37.400000000000006" y1="178.1" x2="40.2" y2="178.1" stroke="#3a3a3a" stroke-width="1.0"/>
<text x="34.50000000000001" y="180.98" font-size="8.0" text-anchor="end" font-weight="normal" font-style="normal" fill="#2a2a2a">60</text>
<line x1="37.400000000000006" y1="195.6" x2="40.2" y2="195.6" stroke="#3a3a3a" stroke-width="1.0"/>
<text x="34.50000000000001" y="198.48" font-size="8.0" text-anchor="end" font-weight="normal" font-style="normal" fill="#2a2a2a">40</text>
<line x1="37.400000000000006" y1="212.9" x2="40.2" y2="212.9" stroke="#3a3a3a" stroke-width="1.0"/>
<text x="34.50000000000001" y="215.78" font-size="8.0" text-anchor="end" font-weight="normal" font-style="normal" fill="#2a2a2a">20</text>
<line x1="37.400000000000006" y1="230.2" x2="40.2" y2="230.2" stroke="#3a3a3a" stroke-width="1.0"/>
<text x="34.50000000000001" y="233.08" font-size="8.0" text-anchor="end" font-weight="normal" font-style="normal" fill="#2a2a2a">0</text>
<line x1="40.2" y1="230.2" x2="132" y2="230.2" stroke="#3a3a3a" stroke-width="1.0"/>
<rect x="42.70" y="211.30" width="6.40" height="18.90" fill="#e8847a" stroke="none" stroke-width="0"/>
<rect x="51.40" y="220.00" width="5.80" height="10.20" fill="#8499c4" stroke="none" stroke-width="0"/>
<rect x="59.70" y="222.90" width="5.70" height="7.30" fill="#98d08c" stroke="none" stroke-width="0"/>
<rect x="73.90" y="207.50" width="5.90" height="22.70" fill="#e8847a" stroke="none" stroke-width="0"/>
<rect x="82.20" y="199.40" width="5.70" height="30.80" fill="#8499c4" stroke="none" stroke-width="0"/>
<rect x="90.80" y="213.80" width="5.80" height="16.40" fill="#98d08c" stroke="none" stroke-width="0"/>
<rect x="104.70" y="197.90" width="5.70" height="32.30" fill="#e8847a" stroke="none" stroke-width="0"/>
<rect x="112.90" y="190.20" width="6.20" height="40.00" fill="#8499c4" stroke="none" stroke-width="0"/>
<rect x="121.60" y="183.10" width="6.10" height="47.10" fill="#98d08c" stroke="none" stroke-width="0"/>
<line x1="40.2" y1="230.2" x2="132" y2="230.2" stroke="#3a3a3a" stroke-width="1.0"/>
<circle cx="44.96" cy="203.70" r="2.05" fill="#c8102e"/>
<circle cx="46.00" cy="206.90" r="2.05" fill="#c8102e"/>
<circle cx="47.04" cy="210.40" r="2.05" fill="#c8102e"/>
<circle cx="44.96" cy="212.90" r="2.05" fill="#c8102e"/>
<circle cx="46.00" cy="215.20" r="2.05" fill="#c8102e"/>
<circle cx="47.04" cy="218.10" r="2.05" fill="#c8102e"/>
<circle cx="53.26" cy="215.80" r="2.05" fill="#17548f"/>
<circle cx="54.30" cy="217.70" r="2.05" fill="#17548f"/>
<circle cx="55.34" cy="220.40" r="2.05" fill="#17548f"/>
<circle cx="53.26" cy="222.90" r="2.05" fill="#17548f"/>
<circle cx="54.30" cy="224.80" r="2.05" fill="#17548f"/>
<circle cx="62.50" cy="218.50" r="2.05" fill="#3ab54a"/>
<circle cx="62.50" cy="221.50" r="2.05" fill="#3ab54a"/>
<circle cx="75.96" cy="197.90" r="2.05" fill="#c8102e"/>
<circle cx="77.00" cy="198.80" r="2.05" fill="#c8102e"/>
<circle cx="78.04" cy="204.60" r="2.05" fill="#c8102e"/>
<circle cx="75.96" cy="207.50" r="2.05" fill="#c8102e"/>
<circle cx="77.00" cy="213.30" r="2.05" fill="#c8102e"/>
<circle cx="78.04" cy="222.90" r="2.05" fill="#c8102e"/>
<circle cx="83.96" cy="186.30" r="2.05" fill="#17548f"/>
<circle cx="85.00" cy="196.50" r="2.05" fill="#17548f"/>
<circle cx="86.04" cy="199.80" r="2.05" fill="#17548f"/>
<circle cx="83.96" cy="202.70" r="2.05" fill="#17548f"/>
<circle cx="85.00" cy="209.80" r="2.05" fill="#17548f"/>
<circle cx="93.70" cy="206.90" r="2.05" fill="#3ab54a"/>
<circle cx="93.70" cy="214.20" r="2.05" fill="#3ab54a"/>
<circle cx="93.70" cy="221.50" r="2.05" fill="#3ab54a"/>
<circle cx="106.46" cy="181.20" r="2.05" fill="#c8102e"/>
<circle cx="107.50" cy="190.20" r="2.05" fill="#c8102e"/>
<circle cx="108.54" cy="196.50" r="2.05" fill="#c8102e"/>
<circle cx="106.46" cy="201.70" r="2.05" fill="#c8102e"/>
<circle cx="107.50" cy="206.50" r="2.05" fill="#c8102e"/>
<circle cx="108.54" cy="212.30" r="2.05" fill="#c8102e"/>
<circle cx="114.96" cy="182.90" r="2.05" fill="#17548f"/>
<circle cx="116.00" cy="188.30" r="2.05" fill="#17548f"/>
<circle cx="117.04" cy="192.70" r="2.05" fill="#17548f"/>
<circle cx="114.96" cy="195.40" r="2.05" fill="#17548f"/>
<circle cx="124.60" cy="167.10" r="2.05" fill="#3ab54a"/>
<circle cx="124.60" cy="188.30" r="2.05" fill="#3ab54a"/>
<circle cx="124.60" cy="196.00" r="2.05" fill="#3ab54a"/>
<path d="M45.2,182.5 V179 H63.9 V210" stroke="#4a4a4a" stroke-width="1.0" fill="none" />
<text x="54.55" y="181.29" font-size="8.8" text-anchor="middle" fill="#2a2a2a" letter-spacing="0.1">*</text>
<path d="M45.2,195.4 V191.5 H54.3 V209.5" stroke="#4a4a4a" stroke-width="1.0" fill="none" />
<text x="49.75" y="193.59" font-size="8.8" text-anchor="middle" fill="#2a2a2a" letter-spacing="0.1">*</text>
<path d="M76,169.0 V162.3 H93.1 V202.70000000000002" stroke="#4a4a4a" stroke-width="1.0" fill="none" />
<text x="84.55" y="161.12" font-size="7.0" text-anchor="middle" font-weight="normal" font-style="normal" fill="#333">ns</text>
<path d="M76,182.5 V179.2 H85.6 V182.5" stroke="#4a4a4a" stroke-width="1.0" fill="none" />
<text x="80.8" y="177.92" font-size="7.0" text-anchor="middle" font-weight="normal" font-style="normal" fill="#333">ns</text>
<path d="M107.5,160.4 V155.6 H124.8 V160.4" stroke="#4a4a4a" stroke-width="1.0" fill="none" />
<text x="116.15" y="157.59" font-size="8.8" text-anchor="middle" fill="#2a2a2a" letter-spacing="0.1">*</text>
<path d="M107.5,177.70000000000002 V172.3 H116.4 V177.70000000000002" stroke="#4a4a4a" stroke-width="1.0" fill="none" />
<text x="111.95" y="174.29" font-size="8.8" text-anchor="middle" fill="#2a2a2a" letter-spacing="0.1">*</text>
<text x="49.3" y="242.3" font-size="8.8" fill="#2a2a2a">G<tspan font-size="6.2" dy="2.2">0</tspan></text>
<text x="81" y="242.3" font-size="8.8" fill="#2a2a2a">G<tspan font-size="6.2" dy="2.2">1</tspan></text>
<text x="103.1" y="242.3" font-size="8.8" fill="#2a2a2a" textLength="31.8" lengthAdjust="spacingAndGlyphs">G<tspan font-size="6.2" dy="2.2">2</tspan><tspan dy="-2.2">/S/M</tspan></text>
<text x="15.7" y="195.3" font-size="9.8" text-anchor="middle" fill="#2a2a2a" font-style="normal" transform="rotate(-90 15.7 195.3)" dy="3.53" textLength="55" lengthAdjust="spacingAndGlyphs">Percent in phase</text>
<circle cx="147.70" cy="169.20" r="2.0" fill="#c8102e"/>
<text x="153.5" y="171.86" font-size="7.4" text-anchor="start" font-weight="normal" font-style="normal" fill="#2a2a2a" textLength="19.3" lengthAdjust="spacingAndGlyphs">shCtrl</text>
<circle cx="147.70" cy="179.20" r="2.0" fill="#17548f"/>
<text x="153.5" y="181.86" font-size="7.4" text-anchor="start" font-weight="normal" font-style="normal" fill="#2a2a2a" textLength="52.7" lengthAdjust="spacingAndGlyphs">shSdc2 clone #1</text>
<circle cx="147.70" cy="188.90" r="2.0" fill="#3ab54a"/>
<text x="153.5" y="191.56" font-size="7.4" text-anchor="start" font-weight="normal" font-style="normal" fill="#2a2a2a" textLength="53.9" lengthAdjust="spacingAndGlyphs">shSdc2 clone #2</text>
<line x1="282.9" y1="164.4" x2="282.9" y2="232.4" stroke="#3a3a3a" stroke-width="1.0"/>
<line x1="280.09999999999997" y1="164.4" x2="282.9" y2="164.4" stroke="#3a3a3a" stroke-width="1.0"/>
<text x="277.2" y="167.28" font-size="8.0" text-anchor="end" font-weight="normal" font-style="normal" fill="#2a2a2a">2.0</text>
<line x1="280.09999999999997" y1="181.5" x2="282.9" y2="181.5" stroke="#3a3a3a" stroke-width="1.0"/>
<text x="277.2" y="184.38" font-size="8.0" text-anchor="end" font-weight="normal" font-style="normal" fill="#2a2a2a">1.5</text>
<line x1="280.09999999999997" y1="198.4" x2="282.9" y2="198.4" stroke="#3a3a3a" stroke-width="1.0"/>
<text x="277.2" y="201.28" font-size="8.0" text-anchor="end" font-weight="normal" font-style="normal" fill="#2a2a2a">1.0</text>
<line x1="280.09999999999997" y1="215.5" x2="282.9" y2="215.5" stroke="#3a3a3a" stroke-width="1.0"/>
<text x="277.2" y="218.38" font-size="8.0" text-anchor="end" font-weight="normal" font-style="normal" fill="#2a2a2a">0.5</text>
<line x1="280.09999999999997" y1="232.4" x2="282.9" y2="232.4" stroke="#3a3a3a" stroke-width="1.0"/>
<text x="277.2" y="235.28" font-size="8.0" text-anchor="end" font-weight="normal" font-style="normal" fill="#2a2a2a">0.0</text>
<line x1="290.29999999999995" y1="228.9" x2="290.29999999999995" y2="227.8" stroke="#333" stroke-width="0.95"/>
<line x1="288.29999999999995" y1="227.8" x2="292.29999999999995" y2="227.8" stroke="#333" stroke-width="0.95"/>
<rect x="286.90" y="228.90" width="6.80" height="3.50" fill="#c8102e" stroke="none" stroke-width="0"/>
<line x1="300.35" y1="229" x2="300.35" y2="228" stroke="#333" stroke-width="0.95"/>
<line x1="298.35" y1="228" x2="302.35" y2="228" stroke="#333" stroke-width="0.95"/>
<rect x="296.90" y="229.00" width="6.90" height="3.40" fill="#17548f" stroke="none" stroke-width="0"/>
<line x1="310.4" y1="229.5" x2="310.4" y2="228.5" stroke="#333" stroke-width="0.95"/>
<line x1="308.4" y1="228.5" x2="312.4" y2="228.5" stroke="#333" stroke-width="0.95"/>
<rect x="307.00" y="229.50" width="6.80" height="2.90" fill="#3ab54a" stroke="none" stroke-width="0"/>
<line x1="320.4" y1="229.8" x2="320.4" y2="228.8" stroke="#333" stroke-width="0.95"/>
<line x1="318.4" y1="228.8" x2="322.4" y2="228.8" stroke="#333" stroke-width="0.95"/>
<rect x="316.90" y="229.80" width="7.00" height="2.60" fill="#5b2a7c" stroke="none" stroke-width="0"/>
<line x1="330.4" y1="229" x2="330.4" y2="228" stroke="#333" stroke-width="0.95"/>
<line x1="328.4" y1="228" x2="332.4" y2="228" stroke="#333" stroke-width="0.95"/>
<rect x="327.00" y="229.00" width="6.80" height="3.40" fill="#f7941d" stroke="none" stroke-width="0"/>
<line x1="347.4" y1="197.7" x2="347.4" y2="195.1" stroke="#333" stroke-width="0.95"/>
<line x1="345.4" y1="195.1" x2="349.4" y2="195.1" stroke="#333" stroke-width="0.95"/>
<rect x="343.90" y="197.70" width="7.00" height="34.70" fill="#c8102e" stroke="none" stroke-width="0"/>
<line x1="357.45" y1="205" x2="357.45" y2="203.8" stroke="#333" stroke-width="0.95"/>
<line x1="355.45" y1="203.8" x2="359.45" y2="203.8" stroke="#333" stroke-width="0.95"/>
<rect x="353.90" y="205.00" width="7.10" height="27.40" fill="#17548f" stroke="none" stroke-width="0"/>
<line x1="367.65" y1="212" x2="367.65" y2="210.4" stroke="#333" stroke-width="0.95"/>
<line x1="365.65" y1="210.4" x2="369.65" y2="210.4" stroke="#333" stroke-width="0.95"/>
<rect x="364.00" y="212.00" width="7.30" height="20.40" fill="#3ab54a" stroke="none" stroke-width="0"/>
<line x1="377.75" y1="209.2" x2="377.75" y2="206.8" stroke="#333" stroke-width="0.95"/>
<line x1="375.75" y1="206.8" x2="379.75" y2="206.8" stroke="#333" stroke-width="0.95"/>
<rect x="374.10" y="209.20" width="7.30" height="23.20" fill="#5b2a7c" stroke="none" stroke-width="0"/>
<line x1="387.75" y1="215.7" x2="387.75" y2="213.9" stroke="#333" stroke-width="0.95"/>
<line x1="385.75" y1="213.9" x2="389.75" y2="213.9" stroke="#333" stroke-width="0.95"/>
<rect x="384.00" y="215.70" width="7.50" height="16.70" fill="#f7941d" stroke="none" stroke-width="0"/>
<line x1="282.9" y1="232.4" x2="394.8" y2="232.4" stroke="#3a3a3a" stroke-width="1.0"/>
<line x1="310.5" y1="232.4" x2="310.5" y2="235.20000000000002" stroke="#3a3a3a" stroke-width="1.0"/>
<line x1="367.1" y1="232.4" x2="367.1" y2="235.20000000000002" stroke="#3a3a3a" stroke-width="1.0"/>
<path d="M290.4,222.79999999999998 V217.2 H320.8 V222.79999999999998" stroke="#4a4a4a" stroke-width="1.0" fill="none" />
<text x="305.6" y="214.82" font-size="7.0" text-anchor="middle" font-weight="normal" font-style="normal" fill="#333">ns</text>
<path d="M290.4,212.0 V186.3 H345.7 V191.60000000000002" stroke="#4a4a4a" stroke-width="1.0" fill="none" />
<text x="318.05" y="187.89" font-size="8.8" text-anchor="middle" fill="#2a2a2a" letter-spacing="0.1">****</text>
<path d="M346.9,190.70000000000002 V185.9 H357.5 V199.5" stroke="#4a4a4a" stroke-width="1.0" fill="none" />
<text x="352.20" y="187.29" font-size="8.8" text-anchor="middle" fill="#2a2a2a" letter-spacing="0.1">***</text>
<path d="M346.9,175.9 V169.8 H367.8 V206.8" stroke="#4a4a4a" stroke-width="1.0" fill="none" />
<text x="357.35" y="171.39" font-size="8.8" text-anchor="middle" fill="#2a2a2a" letter-spacing="0.1">****</text>
<path d="M346.9,160.2 V154.5 H377.9 V205.6" stroke="#4a4a4a" stroke-width="1.0" fill="none" />
<text x="362.40" y="156.09" font-size="8.8" text-anchor="middle" fill="#2a2a2a" letter-spacing="0.1">****</text>
<path d="M346.9,149.8 V139 H387.9 V212.5" stroke="#4a4a4a" stroke-width="1.0" fill="none" />
<text x="367.40" y="140.59" font-size="8.8" text-anchor="middle" fill="#2a2a2a" letter-spacing="0.1">****</text>
<text x="300.7" y="244.8" font-size="8.8" fill="#2a2a2a">Sdc2<tspan font-size="5.4" dy="-3.7">−</tspan></text>
<text x="357" y="244.8" font-size="8.8" fill="#2a2a2a">Sdc2<tspan font-size="5.4" dy="-3.7">+</tspan></text>
<g transform="rotate(-90 258.5 198.4) translate(227.50 201.75) scale(0.7839 1)"><text x="0" y="0" font-size="9.3" font-style="italic" fill="#2a2a2a">Cdkn1c expression</text></g>
<rect x="412.10" y="158.40" width="5.20" height="5.20" fill="#c8102e" stroke="none" stroke-width="0"/>
<text x="420" y="163.66" font-size="7.4" text-anchor="start" font-weight="normal" font-style="normal" fill="#2a2a2a" textLength="19.6" lengthAdjust="spacingAndGlyphs">shCtrl</text>
<rect x="412.10" y="166.60" width="5.20" height="5.20" fill="#17548f" stroke="none" stroke-width="0"/>
<text x="420" y="171.86" font-size="7.4" text-anchor="start" font-weight="normal" font-style="normal" fill="#2a2a2a" textLength="53.3" lengthAdjust="spacingAndGlyphs">shSdc2 clone #1</text>
<rect x="412.10" y="174.90" width="5.20" height="5.20" fill="#3ab54a" stroke="none" stroke-width="0"/>
<text x="420" y="180.16" font-size="7.4" text-anchor="start" font-weight="normal" font-style="normal" fill="#2a2a2a" textLength="53.8" lengthAdjust="spacingAndGlyphs">shSdc2 clone #2</text>
<rect x="412.10" y="183.00" width="5.20" height="5.20" fill="#5b2a7c" stroke="none" stroke-width="0"/>
<text x="420" y="188.26" font-size="7.4" text-anchor="start" font-weight="normal" font-style="normal" fill="#2a2a2a" textLength="33" lengthAdjust="spacingAndGlyphs">shCdkn1c</text>
<rect x="412.10" y="191.20" width="5.20" height="5.20" fill="#f7941d" stroke="none" stroke-width="0"/>
<text x="420" y="196.46" font-size="7.4" text-anchor="start" font-weight="normal" font-style="normal" fill="#2a2a2a" textLength="64.8" lengthAdjust="spacingAndGlyphs">shSdc2 + shCdkn1c</text>
<line x1="35.6" y1="277.7" x2="35.6" y2="343.5" stroke="#3a3a3a" stroke-width="1.0"/>
<line x1="32.800000000000004" y1="277.7" x2="35.6" y2="277.7" stroke="#3a3a3a" stroke-width="1.0"/>
<text x="29.900000000000006" y="280.58" font-size="8.0" text-anchor="end" font-weight="normal" font-style="normal" fill="#2a2a2a">4</text>
<line x1="32.800000000000004" y1="294.1" x2="35.6" y2="294.1" stroke="#3a3a3a" stroke-width="1.0"/>
<text x="29.900000000000006" y="296.98" font-size="8.0" text-anchor="end" font-weight="normal" font-style="normal" fill="#2a2a2a">3</text>
<line x1="32.800000000000004" y1="310.6" x2="35.6" y2="310.6" stroke="#3a3a3a" stroke-width="1.0"/>
<text x="29.900000000000006" y="313.48" font-size="8.0" text-anchor="end" font-weight="normal" font-style="normal" fill="#2a2a2a">2</text>
<line x1="32.800000000000004" y1="327" x2="35.6" y2="327" stroke="#3a3a3a" stroke-width="1.0"/>
<text x="29.900000000000006" y="329.88" font-size="8.0" text-anchor="end" font-weight="normal" font-style="normal" fill="#2a2a2a">1</text>
<line x1="32.800000000000004" y1="343.5" x2="35.6" y2="343.5" stroke="#3a3a3a" stroke-width="1.0"/>
<text x="29.900000000000006" y="346.38" font-size="8.0" text-anchor="end" font-weight="normal" font-style="normal" fill="#2a2a2a">0</text>
<line x1="42.05" y1="317.5" x2="42.05" y2="316.3" stroke="#333" stroke-width="0.95"/>
<line x1="40.05" y1="316.3" x2="44.05" y2="316.3" stroke="#333" stroke-width="0.95"/>
<rect x="38.60" y="317.50" width="6.90" height="26.00" fill="#c8102e" stroke="none" stroke-width="0"/>
<line x1="51.7" y1="318" x2="51.7" y2="316.1" stroke="#333" stroke-width="0.95"/>
<line x1="49.7" y1="316.1" x2="53.7" y2="316.1" stroke="#333" stroke-width="0.95"/>
<rect x="48.10" y="318.00" width="7.20" height="25.50" fill="#17548f" stroke="none" stroke-width="0"/>
<line x1="61.45" y1="321.8" x2="61.45" y2="321" stroke="#333" stroke-width="0.95"/>
<line x1="59.45" y1="321" x2="63.45" y2="321" stroke="#333" stroke-width="0.95"/>
<rect x="57.90" y="321.80" width="7.10" height="21.70" fill="#3ab54a" stroke="none" stroke-width="0"/>
<line x1="71.1" y1="322.2" x2="71.1" y2="321.2" stroke="#333" stroke-width="0.95"/>
<line x1="69.1" y1="321.2" x2="73.1" y2="321.2" stroke="#333" stroke-width="0.95"/>
<rect x="67.60" y="322.20" width="7.00" height="21.30" fill="#5b2a7c" stroke="none" stroke-width="0"/>
<line x1="80.65" y1="321.5" x2="80.65" y2="321" stroke="#333" stroke-width="0.95"/>
<line x1="78.65" y1="321" x2="82.65" y2="321" stroke="#333" stroke-width="0.95"/>
<rect x="77.20" y="321.50" width="6.90" height="22.00" fill="#f7941d" stroke="none" stroke-width="0"/>
<line x1="96.75" y1="327" x2="96.75" y2="326.2" stroke="#333" stroke-width="0.95"/>
<line x1="94.75" y1="326.2" x2="98.75" y2="326.2" stroke="#333" stroke-width="0.95"/>
<rect x="93.30" y="327.00" width="6.90" height="16.50" fill="#c8102e" stroke="none" stroke-width="0"/>
<line x1="106.65" y1="319.7" x2="106.65" y2="318.4" stroke="#333" stroke-width="0.95"/>
<line x1="104.65" y1="318.4" x2="108.65" y2="318.4" stroke="#333" stroke-width="0.95"/>
<rect x="103.20" y="319.70" width="6.90" height="23.80" fill="#17548f" stroke="none" stroke-width="0"/>
<line x1="116.35" y1="307.5" x2="116.35" y2="306.2" stroke="#333" stroke-width="0.95"/>
<line x1="114.35" y1="306.2" x2="118.35" y2="306.2" stroke="#333" stroke-width="0.95"/>
<rect x="112.70" y="307.50" width="7.30" height="36.00" fill="#3ab54a" stroke="none" stroke-width="0"/>
<line x1="126.05" y1="317" x2="126.05" y2="315.8" stroke="#333" stroke-width="0.95"/>
<line x1="124.05" y1="315.8" x2="128.05" y2="315.8" stroke="#333" stroke-width="0.95"/>
<rect x="122.60" y="317.00" width="6.90" height="26.50" fill="#5b2a7c" stroke="none" stroke-width="0"/>
<line x1="135.64999999999998" y1="316.1" x2="135.64999999999998" y2="314" stroke="#333" stroke-width="0.95"/>
<line x1="133.64999999999998" y1="314" x2="137.64999999999998" y2="314" stroke="#333" stroke-width="0.95"/>
<rect x="132.10" y="316.10" width="7.10" height="27.40" fill="#f7941d" stroke="none" stroke-width="0"/>
<line x1="35.6" y1="343.5" x2="142.1" y2="343.5" stroke="#3a3a3a" stroke-width="1.0"/>
<line x1="61.4" y1="343.5" x2="61.4" y2="346.3" stroke="#3a3a3a" stroke-width="1.0"/>
<line x1="116.2" y1="343.5" x2="116.2" y2="346.3" stroke="#3a3a3a" stroke-width="1.0"/>
<path d="M41.7,314.0 V310.2 H71.4 V319.2" stroke="#4a4a4a" stroke-width="1.0" fill="none" />
<text x="56.550000000000004" y="308.82" font-size="7.0" text-anchor="middle" font-weight="normal" font-style="normal" fill="#333">ns</text>
<path d="M41.7,306.2 V277.7 H96.5 V282.0" stroke="#4a4a4a" stroke-width="1.0" fill="none" />
<text x="69.10" y="279.29" font-size="8.8" text-anchor="middle" fill="#2a2a2a" letter-spacing="0.1">****</text>
<path d="M96.8,322.7 V309.7 H106.6 V313.7" stroke="#4a4a4a" stroke-width="1.0" fill="none" />
<text x="101.70" y="311.29" font-size="8.8" text-anchor="middle" fill="#2a2a2a" letter-spacing="0.1">****</text>
<path d="M96.8,298.8 V293.8 H116.5 V298.8" stroke="#4a4a4a" stroke-width="1.0" fill="none" />
<text x="106.65" y="295.39" font-size="8.8" text-anchor="middle" fill="#2a2a2a" letter-spacing="0.1">****</text>
<path d="M96.8,282.0 V277.3 H126.2 V311.40000000000003" stroke="#4a4a4a" stroke-width="1.0" fill="none" />
<text x="111.50" y="278.89" font-size="8.8" text-anchor="middle" fill="#2a2a2a" letter-spacing="0.1">****</text>
<path d="M96.8,267.0 V261.2 H135.7 V313.2" stroke="#4a4a4a" stroke-width="1.0" fill="none" />
<text x="116.25" y="262.79" font-size="8.8" text-anchor="middle" fill="#2a2a2a" letter-spacing="0.1">****</text>
<text x="51.2" y="356" font-size="8.8" fill="#2a2a2a">Sdc2<tspan font-size="5.4" dy="-3.7">−</tspan></text>
<text x="105.8" y="356" font-size="8.8" fill="#2a2a2a">Sdc2<tspan font-size="5.4" dy="-3.7">+</tspan></text>
<g transform="rotate(-90 15.6 311.2) translate(-15.90 314.62) scale(0.7747 1)"><text x="0" y="0" font-size="9.5" font-style="italic" fill="#2a2a2a">Cdkn1a expression</text></g>
<line x1="181.5" y1="278.9" x2="181.5" y2="342" stroke="#3a3a3a" stroke-width="1.0"/>
<line x1="178.7" y1="278.9" x2="181.5" y2="278.9" stroke="#3a3a3a" stroke-width="1.0"/>
<text x="175.79999999999998" y="281.78" font-size="8.0" text-anchor="end" font-weight="normal" font-style="normal" fill="#2a2a2a">5</text>
<line x1="178.7" y1="291.3" x2="181.5" y2="291.3" stroke="#3a3a3a" stroke-width="1.0"/>
<text x="175.79999999999998" y="294.18" font-size="8.0" text-anchor="end" font-weight="normal" font-style="normal" fill="#2a2a2a">4</text>
<line x1="178.7" y1="304.1" x2="181.5" y2="304.1" stroke="#3a3a3a" stroke-width="1.0"/>
<text x="175.79999999999998" y="306.98" font-size="8.0" text-anchor="end" font-weight="normal" font-style="normal" fill="#2a2a2a">3</text>
<line x1="178.7" y1="317" x2="181.5" y2="317" stroke="#3a3a3a" stroke-width="1.0"/>
<text x="175.79999999999998" y="319.88" font-size="8.0" text-anchor="end" font-weight="normal" font-style="normal" fill="#2a2a2a">2</text>
<line x1="178.7" y1="329.5" x2="181.5" y2="329.5" stroke="#3a3a3a" stroke-width="1.0"/>
<text x="175.79999999999998" y="332.38" font-size="8.0" text-anchor="end" font-weight="normal" font-style="normal" fill="#2a2a2a">1</text>
<line x1="178.7" y1="342" x2="181.5" y2="342" stroke="#3a3a3a" stroke-width="1.0"/>
<text x="175.79999999999998" y="344.88" font-size="8.0" text-anchor="end" font-weight="normal" font-style="normal" fill="#2a2a2a">0</text>
<line x1="187.35" y1="331.6" x2="187.35" y2="330.6" stroke="#333" stroke-width="0.95"/>
<line x1="185.35" y1="330.6" x2="189.35" y2="330.6" stroke="#333" stroke-width="0.95"/>
<rect x="184.10" y="331.60" width="6.50" height="10.40" fill="#c8102e" stroke="none" stroke-width="0"/>
<line x1="196.45" y1="331.3" x2="196.45" y2="330.2" stroke="#333" stroke-width="0.95"/>
<line x1="194.45" y1="330.2" x2="198.45" y2="330.2" stroke="#333" stroke-width="0.95"/>
<rect x="193.20" y="331.30" width="6.50" height="10.70" fill="#17548f" stroke="none" stroke-width="0"/>
<line x1="205.75" y1="333.4" x2="205.75" y2="332.8" stroke="#333" stroke-width="0.95"/>
<line x1="203.75" y1="332.8" x2="207.75" y2="332.8" stroke="#333" stroke-width="0.95"/>
<rect x="202.50" y="333.40" width="6.50" height="8.60" fill="#3ab54a" stroke="none" stroke-width="0"/>
<line x1="215.35" y1="333.7" x2="215.35" y2="333" stroke="#333" stroke-width="0.95"/>
<line x1="213.35" y1="333" x2="217.35" y2="333" stroke="#333" stroke-width="0.95"/>
<rect x="212.10" y="333.70" width="6.50" height="8.30" fill="#5b2a7c" stroke="none" stroke-width="0"/>
<line x1="224.75" y1="333.1" x2="224.75" y2="332.5" stroke="#333" stroke-width="0.95"/>
<line x1="222.75" y1="332.5" x2="226.75" y2="332.5" stroke="#333" stroke-width="0.95"/>
<rect x="221.50" y="333.10" width="6.50" height="8.90" fill="#f7941d" stroke="none" stroke-width="0"/>
<line x1="240.05" y1="329" x2="240.05" y2="328" stroke="#333" stroke-width="0.95"/>
<line x1="238.05" y1="328" x2="242.05" y2="328" stroke="#333" stroke-width="0.95"/>
<rect x="236.80" y="329.00" width="6.50" height="13.00" fill="#c8102e" stroke="none" stroke-width="0"/>
<line x1="249.65" y1="329" x2="249.65" y2="328" stroke="#333" stroke-width="0.95"/>
<line x1="247.65" y1="328" x2="251.65" y2="328" stroke="#333" stroke-width="0.95"/>
<rect x="246.40" y="329.00" width="6.50" height="13.00" fill="#17548f" stroke="none" stroke-width="0"/>
<line x1="258.95" y1="328.7" x2="258.95" y2="327.6" stroke="#333" stroke-width="0.95"/>
<line x1="256.95" y1="327.6" x2="260.95" y2="327.6" stroke="#333" stroke-width="0.95"/>
<rect x="255.70" y="328.70" width="6.50" height="13.30" fill="#3ab54a" stroke="none" stroke-width="0"/>
<line x1="268.55" y1="330.3" x2="268.55" y2="329.6" stroke="#333" stroke-width="0.95"/>
<line x1="266.55" y1="329.6" x2="270.55" y2="329.6" stroke="#333" stroke-width="0.95"/>
<rect x="265.30" y="330.30" width="6.50" height="11.70" fill="#5b2a7c" stroke="none" stroke-width="0"/>
<line x1="277.65" y1="331.3" x2="277.65" y2="330.6" stroke="#333" stroke-width="0.95"/>
<line x1="275.65" y1="330.6" x2="279.65" y2="330.6" stroke="#333" stroke-width="0.95"/>
<rect x="274.40" y="331.30" width="6.50" height="10.70" fill="#f7941d" stroke="none" stroke-width="0"/>
<line x1="181.5" y1="342" x2="282.7" y2="342" stroke="#3a3a3a" stroke-width="1.0"/>
<line x1="206" y1="342" x2="206" y2="344.8" stroke="#3a3a3a" stroke-width="1.0"/>
<line x1="259" y1="342" x2="259" y2="344.8" stroke="#3a3a3a" stroke-width="1.0"/>
<path d="M186.7,325.6 V319.6 H215.2 V325.6" stroke="#4a4a4a" stroke-width="1.0" fill="none" />
<text x="200.95" y="318.12" font-size="7.0" text-anchor="middle" font-weight="normal" font-style="normal" fill="#333">ns</text>
<path d="M186.7,314.0 V304.1 H239.4 V309.20000000000005" stroke="#4a4a4a" stroke-width="1.0" fill="none" />
<text x="213.05" y="302.62" font-size="7.0" text-anchor="middle" font-weight="normal" font-style="normal" fill="#333">ns</text>
<path d="M241.2,324.3 V319.6 H249.8 V324.3" stroke="#4a4a4a" stroke-width="1.0" fill="none" />
<text x="245.5" y="318.12" font-size="7.0" text-anchor="middle" font-weight="normal" font-style="normal" fill="#333">ns</text>
<path d="M241.2,309.20000000000005 V304.1 H258.8 V326.90000000000003" stroke="#4a4a4a" stroke-width="1.0" fill="none" />
<text x="250.0" y="302.62" font-size="7.0" text-anchor="middle" font-weight="normal" font-style="normal" fill="#333">ns</text>
<path d="M241.2,293.7 V288 H268.4 V325.6" stroke="#4a4a4a" stroke-width="1.0" fill="none" />
<text x="254.79999999999998" y="286.52" font-size="7.0" text-anchor="middle" font-weight="normal" font-style="normal" fill="#333">ns</text>
<path d="M241.2,282.79999999999995 V272.9 H277.5 V326.4" stroke="#4a4a4a" stroke-width="1.0" fill="none" />
<text x="259.35" y="271.42" font-size="7.0" text-anchor="middle" font-weight="normal" font-style="normal" fill="#333">ns</text>
<text x="197.8" y="352.7" font-size="8.8" fill="#2a2a2a">Sdc2<tspan font-size="5.4" dy="-3.7">−</tspan></text>
<text x="248.5" y="352.7" font-size="8.8" fill="#2a2a2a">Sdc2<tspan font-size="5.4" dy="-3.7">+</tspan></text>
<g transform="rotate(-90 160.4 308.7) translate(129.75 312.05) scale(0.7700 1)"><text x="0" y="0" font-size="9.3" font-style="italic" fill="#2a2a2a">Cdkn1b expression</text></g>
<line x1="322.2" y1="279.5" x2="322.2" y2="342.5" stroke="#3a3a3a" stroke-width="1.0"/>
<line x1="319.4" y1="279.5" x2="322.2" y2="279.5" stroke="#3a3a3a" stroke-width="1.0"/>
<text x="316.5" y="282.38" font-size="8.0" text-anchor="end" font-weight="normal" font-style="normal" fill="#2a2a2a">5</text>
<line x1="319.4" y1="292.2" x2="322.2" y2="292.2" stroke="#3a3a3a" stroke-width="1.0"/>
<text x="316.5" y="295.08" font-size="8.0" text-anchor="end" font-weight="normal" font-style="normal" fill="#2a2a2a">4</text>
<line x1="319.4" y1="304.9" x2="322.2" y2="304.9" stroke="#3a3a3a" stroke-width="1.0"/>
<text x="316.5" y="307.78" font-size="8.0" text-anchor="end" font-weight="normal" font-style="normal" fill="#2a2a2a">3</text>
<line x1="319.4" y1="317.5" x2="322.2" y2="317.5" stroke="#3a3a3a" stroke-width="1.0"/>
<text x="316.5" y="320.38" font-size="8.0" text-anchor="end" font-weight="normal" font-style="normal" fill="#2a2a2a">2</text>
<line x1="319.4" y1="330.1" x2="322.2" y2="330.1" stroke="#3a3a3a" stroke-width="1.0"/>
<text x="316.5" y="332.98" font-size="8.0" text-anchor="end" font-weight="normal" font-style="normal" fill="#2a2a2a">1</text>
<line x1="319.4" y1="342.5" x2="322.2" y2="342.5" stroke="#3a3a3a" stroke-width="1.0"/>
<text x="316.5" y="345.38" font-size="8.0" text-anchor="end" font-weight="normal" font-style="normal" fill="#2a2a2a">0</text>
<line x1="328.75" y1="332.7" x2="328.75" y2="331.4" stroke="#333" stroke-width="0.95"/>
<line x1="326.75" y1="331.4" x2="330.75" y2="331.4" stroke="#333" stroke-width="0.95"/>
<rect x="325.50" y="332.70" width="6.50" height="9.80" fill="#c8102e" stroke="none" stroke-width="0"/>
<line x1="338.15" y1="333.7" x2="338.15" y2="332.4" stroke="#333" stroke-width="0.95"/>
<line x1="336.15" y1="332.4" x2="340.15" y2="332.4" stroke="#333" stroke-width="0.95"/>
<rect x="334.90" y="333.70" width="6.50" height="8.80" fill="#17548f" stroke="none" stroke-width="0"/>
<line x1="347.3" y1="330.4" x2="347.3" y2="329.1" stroke="#333" stroke-width="0.95"/>
<line x1="345.3" y1="329.1" x2="349.3" y2="329.1" stroke="#333" stroke-width="0.95"/>
<rect x="344.00" y="330.40" width="6.60" height="12.10" fill="#3ab54a" stroke="none" stroke-width="0"/>
<line x1="356.65" y1="332.7" x2="356.65" y2="331.8" stroke="#333" stroke-width="0.95"/>
<line x1="354.65" y1="331.8" x2="358.65" y2="331.8" stroke="#333" stroke-width="0.95"/>
<rect x="353.30" y="332.70" width="6.70" height="9.80" fill="#5b2a7c" stroke="none" stroke-width="0"/>
<line x1="366.04999999999995" y1="331.6" x2="366.04999999999995" y2="330.6" stroke="#333" stroke-width="0.95"/>
<line x1="364.04999999999995" y1="330.6" x2="368.04999999999995" y2="330.6" stroke="#333" stroke-width="0.95"/>
<rect x="362.70" y="331.60" width="6.70" height="10.90" fill="#f7941d" stroke="none" stroke-width="0"/>
<line x1="381.55" y1="330" x2="381.55" y2="329" stroke="#333" stroke-width="0.95"/>
<line x1="379.55" y1="329" x2="383.55" y2="329" stroke="#333" stroke-width="0.95"/>
<rect x="378.30" y="330.00" width="6.50" height="12.50" fill="#c8102e" stroke="none" stroke-width="0"/>
<line x1="391.1" y1="316.8" x2="391.1" y2="313.3" stroke="#333" stroke-width="0.95"/>
<line x1="389.1" y1="313.3" x2="393.1" y2="313.3" stroke="#333" stroke-width="0.95"/>
<rect x="387.70" y="316.80" width="6.80" height="25.70" fill="#17548f" stroke="none" stroke-width="0"/>
<line x1="400.25" y1="318.7" x2="400.25" y2="315.2" stroke="#333" stroke-width="0.95"/>
<line x1="398.25" y1="315.2" x2="402.25" y2="315.2" stroke="#333" stroke-width="0.95"/>
<rect x="396.90" y="318.70" width="6.70" height="23.80" fill="#3ab54a" stroke="none" stroke-width="0"/>
<line x1="409.65" y1="324.9" x2="409.65" y2="322.7" stroke="#333" stroke-width="0.95"/>
<line x1="407.65" y1="322.7" x2="411.65" y2="322.7" stroke="#333" stroke-width="0.95"/>
<rect x="406.30" y="324.90" width="6.70" height="17.60" fill="#5b2a7c" stroke="none" stroke-width="0"/>
<line x1="419.1" y1="324" x2="419.1" y2="321.4" stroke="#333" stroke-width="0.95"/>
<line x1="417.1" y1="321.4" x2="421.1" y2="321.4" stroke="#333" stroke-width="0.95"/>
<rect x="415.70" y="324.00" width="6.80" height="18.50" fill="#f7941d" stroke="none" stroke-width="0"/>
<line x1="322.2" y1="342.5" x2="424.6" y2="342.5" stroke="#3a3a3a" stroke-width="1.0"/>
<line x1="347.3" y1="342.5" x2="347.3" y2="345.3" stroke="#3a3a3a" stroke-width="1.0"/>
<line x1="400.5" y1="342.5" x2="400.5" y2="345.3" stroke="#3a3a3a" stroke-width="1.0"/>
<path d="M328.7,328.5 V324 H381.5 V328.1" stroke="#4a4a4a" stroke-width="1.0" fill="none" />
<text x="355.1" y="322.52" font-size="7.0" text-anchor="middle" font-weight="normal" font-style="normal" fill="#333">ns</text>
<path d="M382.4,309.8 V303.8 H391 V307.90000000000003" stroke="#4a4a4a" stroke-width="1.0" fill="none" />
<text x="386.70" y="305.39" font-size="8.8" text-anchor="middle" fill="#2a2a2a" letter-spacing="0.1">****</text>
<path d="M382.4,295.8 V289.6 H400.4 V314.6" stroke="#4a4a4a" stroke-width="1.0" fill="none" />
<text x="391.40" y="291.19" font-size="8.8" text-anchor="middle" fill="#2a2a2a" letter-spacing="0.1">**</text>
<path d="M382.4,281.0 V274.8 H409.8 V322.2" stroke="#4a4a4a" stroke-width="1.0" fill="none" />
<text x="396.1" y="273.32" font-size="7.0" text-anchor="middle" font-weight="normal" font-style="normal" fill="#333">ns</text>
<path d="M382.4,266.2 V260 H419.2 V320.5" stroke="#4a4a4a" stroke-width="1.0" fill="none" />
<text x="400.79999999999995" y="258.52" font-size="7.0" text-anchor="middle" font-weight="normal" font-style="normal" fill="#333">ns</text>
<text x="337.5" y="355" font-size="8.8" fill="#2a2a2a">Sdc2<tspan font-size="5.4" dy="-3.7">−</tspan></text>
<text x="390" y="355" font-size="8.8" fill="#2a2a2a">Sdc2<tspan font-size="5.4" dy="-3.7">+</tspan></text>
<g transform="rotate(-90 302.7 311.1) translate(277.40 314.45) scale(0.8022 1)"><text x="0" y="0" font-size="9.3" font-style="italic" fill="#2a2a2a">p16 expression</text></g>
<rect x="435.70" y="279.90" width="5.20" height="5.20" fill="#c8102e" stroke="none" stroke-width="0"/>
<text x="443.7" y="285.16" font-size="7.4" text-anchor="start" font-weight="normal" font-style="normal" fill="#2a2a2a" textLength="19.7" lengthAdjust="spacingAndGlyphs">shCtrl</text>
<rect x="435.70" y="287.80" width="5.20" height="5.20" fill="#17548f" stroke="none" stroke-width="0"/>
<text x="443.7" y="293.06" font-size="7.4" text-anchor="start" font-weight="normal" font-style="normal" fill="#2a2a2a" textLength="53.1" lengthAdjust="spacingAndGlyphs">shSdc2 clone #1</text>
<rect x="435.70" y="296.00" width="5.20" height="5.20" fill="#3ab54a" stroke="none" stroke-width="0"/>
<text x="443.7" y="301.26" font-size="7.4" text-anchor="start" font-weight="normal" font-style="normal" fill="#2a2a2a" textLength="53.6" lengthAdjust="spacingAndGlyphs">shSdc2 clone #2</text>
<rect x="435.70" y="304.30" width="5.20" height="5.20" fill="#5b2a7c" stroke="none" stroke-width="0"/>
<text x="443.7" y="309.56" font-size="7.4" text-anchor="start" font-weight="normal" font-style="normal" fill="#2a2a2a" textLength="33" lengthAdjust="spacingAndGlyphs">shCdkn1c</text>
<rect x="435.70" y="312.70" width="5.20" height="5.20" fill="#f7941d" stroke="none" stroke-width="0"/>
<text x="443.7" y="317.96" font-size="7.4" text-anchor="start" font-weight="normal" font-style="normal" fill="#2a2a2a" textLength="65.2" lengthAdjust="spacingAndGlyphs">shSdc2 + shCdkn1c</text>
<line x1="39.4" y1="400.1" x2="39.4" y2="454.1" stroke="#3a3a3a" stroke-width="1.0"/>
<line x1="36.6" y1="400.1" x2="39.4" y2="400.1" stroke="#3a3a3a" stroke-width="1.0"/>
<text x="33.7" y="402.98" font-size="8.0" text-anchor="end" font-weight="normal" font-style="normal" fill="#2a2a2a">15</text>
<line x1="36.6" y1="418.3" x2="39.4" y2="418.3" stroke="#3a3a3a" stroke-width="1.0"/>
<text x="33.7" y="421.18" font-size="8.0" text-anchor="end" font-weight="normal" font-style="normal" fill="#2a2a2a">10</text>
<line x1="36.6" y1="436.1" x2="39.4" y2="436.1" stroke="#3a3a3a" stroke-width="1.0"/>
<text x="33.7" y="438.98" font-size="8.0" text-anchor="end" font-weight="normal" font-style="normal" fill="#2a2a2a">5</text>
<line x1="36.6" y1="454.1" x2="39.4" y2="454.1" stroke="#3a3a3a" stroke-width="1.0"/>
<text x="33.7" y="456.98" font-size="8.0" text-anchor="end" font-weight="normal" font-style="normal" fill="#2a2a2a">0</text>
<rect x="42.50" y="449.80" width="7.30" height="4.30" fill="#e8847a" stroke="none" stroke-width="0"/>
<rect x="52.40" y="449.80" width="7.80" height="4.30" fill="#8499c4" stroke="none" stroke-width="0"/>
<rect x="62.80" y="450.20" width="7.40" height="3.90" fill="#9b7fb3" stroke="none" stroke-width="0"/>
<rect x="72.70" y="449.80" width="7.90" height="4.30" fill="#f9b866" stroke="none" stroke-width="0"/>
<rect x="90.00" y="423.80" width="7.80" height="30.30" fill="#e8847a" stroke="none" stroke-width="0"/>
<rect x="100.20" y="437.70" width="7.80" height="16.40" fill="#8499c4" stroke="none" stroke-width="0"/>
<rect x="110.30" y="442.00" width="7.80" height="12.10" fill="#9b7fb3" stroke="none" stroke-width="0"/>
<rect x="120.20" y="440.30" width="7.90" height="13.80" fill="#f9b866" stroke="none" stroke-width="0"/>
<circle cx="45.50" cy="447.20" r="2.05" fill="#c8102e"/>
<circle cx="48.40" cy="450.40" r="2.05" fill="#c8102e"/>
<circle cx="43.60" cy="450.40" r="2.05" fill="#c8102e"/>
<circle cx="45.50" cy="454.10" r="2.05" fill="#c8102e"/>
<circle cx="47.50" cy="447.20" r="2.05" fill="#c8102e"/>
<circle cx="55.30" cy="447.20" r="2.05" fill="#17548f"/>
<circle cx="58.50" cy="447.20" r="2.05" fill="#17548f"/>
<circle cx="54.10" cy="450.70" r="2.05" fill="#17548f"/>
<circle cx="57.60" cy="450.70" r="2.05" fill="#17548f"/>
<circle cx="66.20" cy="447.20" r="2.05" fill="#5b2a7c"/>
<circle cx="64.60" cy="450.70" r="2.05" fill="#5b2a7c"/>
<circle cx="67.80" cy="450.70" r="2.05" fill="#5b2a7c"/>
<circle cx="76.60" cy="447.20" r="2.05" fill="#f7941d"/>
<circle cx="78.40" cy="447.20" r="2.05" fill="#f7941d"/>
<circle cx="74.90" cy="450.70" r="2.05" fill="#f7941d"/>
<circle cx="77.50" cy="450.70" r="2.05" fill="#f7941d"/>
<circle cx="93.80" cy="407.40" r="2.05" fill="#c8102e"/>
<circle cx="91.70" cy="425.30" r="2.05" fill="#c8102e"/>
<circle cx="93.80" cy="425.30" r="2.05" fill="#c8102e"/>
<circle cx="96.00" cy="425.30" r="2.05" fill="#c8102e"/>
<circle cx="93.80" cy="432.50" r="2.05" fill="#c8102e"/>
<circle cx="104.20" cy="429.00" r="2.05" fill="#17548f"/>
<circle cx="101.70" cy="439.80" r="2.05" fill="#17548f"/>
<circle cx="104.10" cy="439.80" r="2.05" fill="#17548f"/>
<circle cx="106.50" cy="439.80" r="2.05" fill="#17548f"/>
<circle cx="113.70" cy="439.80" r="2.05" fill="#5b2a7c"/>
<circle cx="111.70" cy="443.20" r="2.05" fill="#5b2a7c"/>
<circle cx="115.70" cy="443.20" r="2.05" fill="#5b2a7c"/>
<circle cx="113.70" cy="443.20" r="2.05" fill="#5b2a7c"/>
<circle cx="124.10" cy="436.00" r="2.05" fill="#f7941d"/>
<circle cx="121.90" cy="436.00" r="2.05" fill="#f7941d"/>
<circle cx="126.30" cy="436.00" r="2.05" fill="#f7941d"/>
<circle cx="124.10" cy="438.60" r="2.05" fill="#f7941d"/>
<circle cx="124.10" cy="446.70" r="2.05" fill="#f7941d"/>
<line x1="39.4" y1="454.1" x2="131.1" y2="454.1" stroke="#3a3a3a" stroke-width="1.0"/>
<line x1="61.4" y1="454.1" x2="61.4" y2="456.90000000000003" stroke="#3a3a3a" stroke-width="1.0"/>
<line x1="109.1" y1="454.1" x2="109.1" y2="456.90000000000003" stroke="#3a3a3a" stroke-width="1.0"/>
<path d="M46.3,438.6 V432.5 H56.7 V438.6" stroke="#4a4a4a" stroke-width="1.0" fill="none" />
<text x="51.5" y="430.92" font-size="7.0" text-anchor="middle" font-weight="normal" font-style="normal" fill="#333">ns</text>
<path d="M46.3,409.1 V401.3 H66.2 V431.6" stroke="#4a4a4a" stroke-width="1.0" fill="none" />
<text x="56.25" y="399.72" font-size="7.0" text-anchor="middle" font-weight="normal" font-style="normal" fill="#333">ns</text>
<path d="M46.3,396.2 V387.2 H76.6 V441.2" stroke="#4a4a4a" stroke-width="1.0" fill="none" />
<text x="61.449999999999996" y="385.72" font-size="7.0" text-anchor="middle" font-weight="normal" font-style="normal" fill="#333">ns</text>
<path d="M93.8,401.3 V397 H104.2 V424.7" stroke="#4a4a4a" stroke-width="1.0" fill="none" />
<text x="99.00" y="398.59" font-size="8.8" text-anchor="middle" fill="#2a2a2a" letter-spacing="0.1">***</text>
<path d="M93.8,389.2 V383.7 H114.3 V432.8" stroke="#4a4a4a" stroke-width="1.0" fill="none" />
<text x="104.05" y="385.29" font-size="8.8" text-anchor="middle" fill="#2a2a2a" letter-spacing="0.1">****</text>
<path d="M93.8,375.7 V372.8 H124.7 V431.6" stroke="#4a4a4a" stroke-width="1.0" fill="none" />
<text x="109.25" y="374.39" font-size="8.8" text-anchor="middle" fill="#2a2a2a" letter-spacing="0.1">***</text>
<text x="51.5" y="466.5" font-size="8.8" fill="#2a2a2a">Sdc2<tspan font-size="5.4" dy="-3.7">−</tspan></text>
<text x="98.7" y="466.5" font-size="8.8" fill="#2a2a2a">Sdc2<tspan font-size="5.4" dy="-3.7">+</tspan></text>
<text x="15.6" y="427" font-size="9" text-anchor="middle" fill="#2a2a2a" font-style="normal" transform="rotate(-90 15.6 427)" dy="3.24" textLength="38.6" lengthAdjust="spacingAndGlyphs">CFU-GEMM</text>
<circle cx="28.10" cy="478.10" r="2.0" fill="#c8102e"/>
<text x="33.4" y="480.84" font-size="7.6" text-anchor="start" font-weight="normal" font-style="normal" fill="#2a2a2a" textLength="19.6" lengthAdjust="spacingAndGlyphs">shCtrl</text>
<circle cx="28.10" cy="486.60" r="2.0" fill="#17548f"/>
<text x="33.4" y="489.34" font-size="7.6" text-anchor="start" font-weight="normal" font-style="normal" fill="#2a2a2a" textLength="23.5" lengthAdjust="spacingAndGlyphs">shSdc2</text>
<circle cx="71.90" cy="478.10" r="2.0" fill="#5b2a7c"/>
<text x="77.2" y="480.84" font-size="7.6" text-anchor="start" font-weight="normal" font-style="normal" fill="#2a2a2a" textLength="32.3" lengthAdjust="spacingAndGlyphs">shCdkn1c</text>
<circle cx="71.90" cy="486.60" r="2.0" fill="#f7941d"/>
<text x="77.2" y="489.34" font-size="7.6" text-anchor="start" font-weight="normal" font-style="normal" fill="#2a2a2a" textLength="64" lengthAdjust="spacingAndGlyphs">shSdc2 + shCdkn1c</text>
<line x1="205" y1="386" x2="205" y2="454.3" stroke="#3a3a3a" stroke-width="1.0"/>
<line x1="202.2" y1="386" x2="205" y2="386" stroke="#3a3a3a" stroke-width="1.0"/>
<text x="199.29999999999998" y="388.88" font-size="8.0" text-anchor="end" font-weight="normal" font-style="normal" fill="#2a2a2a">60</text>
<line x1="202.2" y1="408.7" x2="205" y2="408.7" stroke="#3a3a3a" stroke-width="1.0"/>
<text x="199.29999999999998" y="411.58" font-size="8.0" text-anchor="end" font-weight="normal" font-style="normal" fill="#2a2a2a">40</text>
<line x1="202.2" y1="431.6" x2="205" y2="431.6" stroke="#3a3a3a" stroke-width="1.0"/>
<text x="199.29999999999998" y="434.48" font-size="8.0" text-anchor="end" font-weight="normal" font-style="normal" fill="#2a2a2a">20</text>
<line x1="202.2" y1="454.3" x2="205" y2="454.3" stroke="#3a3a3a" stroke-width="1.0"/>
<text x="199.29999999999998" y="457.18" font-size="8.0" text-anchor="end" font-weight="normal" font-style="normal" fill="#2a2a2a">0</text>
<rect x="209.80" y="410.70" width="8.30" height="43.60" fill="#e8847a" stroke="none" stroke-width="0"/>
<rect x="221.00" y="440.80" width="8.20" height="13.50" fill="#e8847a" stroke="none" stroke-width="0"/>
<rect x="240.20" y="428.30" width="8.60" height="26.00" fill="#8499c4" stroke="none" stroke-width="0"/>
<rect x="251.70" y="441.80" width="8.70" height="12.50" fill="#8499c4" stroke="none" stroke-width="0"/>
<circle cx="213.30" cy="398.50" r="2" fill="#c8102e"/>
<circle cx="214.60" cy="406.60" r="2" fill="#c8102e"/>
<circle cx="211.90" cy="409.10" r="2" fill="#c8102e"/>
<circle cx="211.30" cy="419.30" r="2" fill="#c8102e"/>
<circle cx="215.20" cy="419.30" r="2" fill="#c8102e"/>
<circle cx="225.20" cy="432.80" r="2" fill="#c8102e"/>
<circle cx="223.50" cy="436.00" r="2" fill="#c8102e"/>
<circle cx="225.40" cy="439.30" r="2" fill="#c8102e"/>
<circle cx="222.30" cy="445.70" r="2" fill="#c8102e"/>
<circle cx="227.30" cy="445.70" r="2" fill="#c8102e"/>
<circle cx="224.80" cy="446.60" r="2" fill="#c8102e"/>
<circle cx="244.60" cy="418.20" r="2" fill="#17548f"/>
<circle cx="246.50" cy="431.20" r="2" fill="#17548f"/>
<circle cx="242.70" cy="435.50" r="2" fill="#17548f"/>
<circle cx="256.20" cy="433.50" r="2" fill="#17548f"/>
<circle cx="256.90" cy="442.80" r="2" fill="#17548f"/>
<circle cx="254.60" cy="442.80" r="2" fill="#17548f"/>
<circle cx="253.70" cy="446.60" r="2" fill="#17548f"/>
<circle cx="258.10" cy="444.70" r="2" fill="#17548f"/>
<line x1="205" y1="454.3" x2="263.8" y2="454.3" stroke="#3a3a3a" stroke-width="1.0"/>
<line x1="214" y1="454.3" x2="214" y2="457.1" stroke="#3a3a3a" stroke-width="1.0"/>
<line x1="225.1" y1="454.3" x2="225.1" y2="457.1" stroke="#3a3a3a" stroke-width="1.0"/>
<line x1="244.5" y1="454.3" x2="244.5" y2="457.1" stroke="#3a3a3a" stroke-width="1.0"/>
<line x1="256" y1="454.3" x2="256" y2="457.1" stroke="#3a3a3a" stroke-width="1.0"/>
<path d="M213.3,375.5 V368.7 H244.4 V375.5" stroke="#4a4a4a" stroke-width="1.0" fill="none" />
<text x="228.85" y="370.59" font-size="8.8" text-anchor="middle" fill="#2a2a2a" letter-spacing="0.1">*</text>
<path d="M213.3,392.8 V386 H222.9 V428.3" stroke="#4a4a4a" stroke-width="1.0" fill="none" />
<text x="218.10" y="387.49" font-size="8.8" text-anchor="middle" fill="#2a2a2a" letter-spacing="0.1">****</text>
<path d="M226.2,427.4 V388 H256.2 V428.3" stroke="#4a4a4a" stroke-width="1.0" fill="none" />
<text x="241.2" y="386.02" font-size="7.0" text-anchor="middle" font-weight="normal" font-style="normal" fill="#333">ns</text>
<text x="190.6" y="465.35" font-size="8.2" text-anchor="middle" font-weight="normal" font-style="normal" fill="#2a2a2a" textLength="16.3" lengthAdjust="spacingAndGlyphs">SIS3:</text>
<text x="214" y="465.14" font-size="7.6" text-anchor="middle" font-weight="normal" font-style="normal" fill="#2a2a2a">–</text>
<text x="225.1" y="465.14" font-size="7.6" text-anchor="middle" font-weight="normal" font-style="normal" fill="#2a2a2a">+</text>
<text x="244.5" y="465.14" font-size="7.6" text-anchor="middle" font-weight="normal" font-style="normal" fill="#2a2a2a">–</text>
<text x="256" y="465.14" font-size="7.6" text-anchor="middle" font-weight="normal" font-style="normal" fill="#2a2a2a">+</text>
<text x="181.4" y="420" font-size="10" text-anchor="middle" fill="#2a2a2a" transform="rotate(-90 181.4 420)" dy="3.4" textLength="23.5" lengthAdjust="spacingAndGlyphs">% in G<tspan font-size="6" dy="2.2">0</tspan></text>
<circle cx="275.20" cy="394.50" r="2" fill="#c8102e"/>
<text x="280" y="397.24" font-size="7.6" text-anchor="start" font-weight="normal" font-style="normal" fill="#2a2a2a" textLength="19" lengthAdjust="spacingAndGlyphs">shCtrl</text>
<circle cx="275.20" cy="402.90" r="2" fill="#17548f"/>
<text x="280" y="405.64" font-size="7.6" text-anchor="start" font-weight="normal" font-style="normal" fill="#2a2a2a" textLength="23.1" lengthAdjust="spacingAndGlyphs">shSdc2</text>
<line x1="359.6" y1="392.4" x2="359.6" y2="454.2" stroke="#3a3a3a" stroke-width="1.0"/>
<line x1="356.8" y1="392.4" x2="359.6" y2="392.4" stroke="#3a3a3a" stroke-width="1.0"/>
<text x="353.90000000000003" y="395.28" font-size="8.0" text-anchor="end" font-weight="normal" font-style="normal" fill="#2a2a2a">100</text>
<line x1="356.8" y1="404.7" x2="359.6" y2="404.7" stroke="#3a3a3a" stroke-width="1.0"/>
<text x="353.90000000000003" y="407.58" font-size="8.0" text-anchor="end" font-weight="normal" font-style="normal" fill="#2a2a2a">80</text>
<line x1="356.8" y1="417.2" x2="359.6" y2="417.2" stroke="#3a3a3a" stroke-width="1.0"/>
<text x="353.90000000000003" y="420.08" font-size="8.0" text-anchor="end" font-weight="normal" font-style="normal" fill="#2a2a2a">60</text>
<line x1="356.8" y1="429.3" x2="359.6" y2="429.3" stroke="#3a3a3a" stroke-width="1.0"/>
<text x="353.90000000000003" y="432.18" font-size="8.0" text-anchor="end" font-weight="normal" font-style="normal" fill="#2a2a2a">40</text>
<line x1="356.8" y1="441.8" x2="359.6" y2="441.8" stroke="#3a3a3a" stroke-width="1.0"/>
<text x="353.90000000000003" y="444.68" font-size="8.0" text-anchor="end" font-weight="normal" font-style="normal" fill="#2a2a2a">20</text>
<line x1="356.8" y1="454.2" x2="359.6" y2="454.2" stroke="#3a3a3a" stroke-width="1.0"/>
<text x="353.90000000000003" y="457.08" font-size="8.0" text-anchor="end" font-weight="normal" font-style="normal" fill="#2a2a2a">0</text>
<line x1="366.85" y1="432.8" x2="366.85" y2="430.3" stroke="#333" stroke-width="0.95"/>
<line x1="364.85" y1="430.3" x2="368.85" y2="430.3" stroke="#333" stroke-width="0.95"/>
<rect x="362.50" y="432.80" width="8.70" height="21.40" fill="#c8102e" stroke="none" stroke-width="0"/>
<line x1="378.15" y1="440.3" x2="378.15" y2="438.5" stroke="#333" stroke-width="0.95"/>
<line x1="376.15" y1="438.5" x2="380.15" y2="438.5" stroke="#333" stroke-width="0.95"/>
<rect x="374.00" y="440.30" width="8.30" height="13.90" fill="#17548f" stroke="none" stroke-width="0"/>
<line x1="389.15" y1="438.9" x2="389.15" y2="437.6" stroke="#333" stroke-width="0.95"/>
<line x1="387.15" y1="437.6" x2="391.15" y2="437.6" stroke="#333" stroke-width="0.95"/>
<rect x="385.00" y="438.90" width="8.30" height="15.30" fill="#5b2a7c" stroke="none" stroke-width="0"/>
<line x1="400.1" y1="440.3" x2="400.1" y2="437" stroke="#333" stroke-width="0.95"/>
<line x1="398.1" y1="437" x2="402.1" y2="437" stroke="#333" stroke-width="0.95"/>
<rect x="395.80" y="440.30" width="8.60" height="13.90" fill="#f7941d" stroke="none" stroke-width="0"/>
<line x1="418.75" y1="425.5" x2="418.75" y2="423.3" stroke="#333" stroke-width="0.95"/>
<line x1="416.75" y1="423.3" x2="420.75" y2="423.3" stroke="#333" stroke-width="0.95"/>
<rect x="414.50" y="425.50" width="8.50" height="28.70" fill="#c8102e" stroke="none" stroke-width="0"/>
<line x1="429.95" y1="446.2" x2="429.95" y2="444.1" stroke="#333" stroke-width="0.95"/>
<line x1="427.95" y1="444.1" x2="431.95" y2="444.1" stroke="#333" stroke-width="0.95"/>
<rect x="425.70" y="446.20" width="8.50" height="8.00" fill="#17548f" stroke="none" stroke-width="0"/>
<line x1="441.2" y1="449.8" x2="441.2" y2="448.3" stroke="#333" stroke-width="0.95"/>
<line x1="439.2" y1="448.3" x2="443.2" y2="448.3" stroke="#333" stroke-width="0.95"/>
<rect x="437.20" y="449.80" width="8.00" height="4.40" fill="#5b2a7c" stroke="none" stroke-width="0"/>
<line x1="452.2" y1="451.9" x2="452.2" y2="450.4" stroke="#333" stroke-width="0.95"/>
<line x1="450.2" y1="450.4" x2="454.2" y2="450.4" stroke="#333" stroke-width="0.95"/>
<rect x="448.00" y="451.90" width="8.40" height="2.30" fill="#f7941d" stroke="none" stroke-width="0"/>
<line x1="470.55" y1="446" x2="470.55" y2="443" stroke="#333" stroke-width="0.95"/>
<line x1="468.55" y1="443" x2="472.55" y2="443" stroke="#333" stroke-width="0.95"/>
<rect x="466.30" y="446.00" width="8.50" height="8.20" fill="#c8102e" stroke="none" stroke-width="0"/>
<line x1="481.8" y1="425.5" x2="481.8" y2="424.4" stroke="#333" stroke-width="0.95"/>
<line x1="479.8" y1="424.4" x2="483.8" y2="424.4" stroke="#333" stroke-width="0.95"/>
<rect x="477.60" y="425.50" width="8.40" height="28.70" fill="#17548f" stroke="none" stroke-width="0"/>
<line x1="493.2" y1="436.5" x2="493.2" y2="434.3" stroke="#333" stroke-width="0.95"/>
<line x1="491.2" y1="434.3" x2="495.2" y2="434.3" stroke="#333" stroke-width="0.95"/>
<rect x="489.00" y="436.50" width="8.40" height="17.70" fill="#5b2a7c" stroke="none" stroke-width="0"/>
<line x1="504.45" y1="435.6" x2="504.45" y2="433.3" stroke="#333" stroke-width="0.95"/>
<line x1="502.45" y1="433.3" x2="506.45" y2="433.3" stroke="#333" stroke-width="0.95"/>
<rect x="500.20" y="435.60" width="8.50" height="18.60" fill="#f7941d" stroke="none" stroke-width="0"/>
<line x1="359.6" y1="454.2" x2="511.8" y2="454.2" stroke="#3a3a3a" stroke-width="1.0"/>
<line x1="383.3" y1="454.2" x2="383.3" y2="457.0" stroke="#3a3a3a" stroke-width="1.0"/>
<line x1="436.1" y1="454.2" x2="436.1" y2="457.0" stroke="#3a3a3a" stroke-width="1.0"/>
<line x1="489.2" y1="454.2" x2="489.2" y2="457.0" stroke="#3a3a3a" stroke-width="1.0"/>
<path d="M366.9,416.79999999999995 V412.4 H377.9 V437.0" stroke="#4a4a4a" stroke-width="1.0" fill="none" />
<text x="372.40" y="414.09" font-size="8.8" text-anchor="middle" fill="#2a2a2a" letter-spacing="0.1">*</text>
<path d="M366.9,399.5 V394.7 H389 V436.0" stroke="#4a4a4a" stroke-width="1.0" fill="none" />
<text x="377.95" y="396.39" font-size="8.8" text-anchor="middle" fill="#2a2a2a" letter-spacing="0.1">*</text>
<path d="M366.9,388.9 V377 H400 V435.1" stroke="#4a4a4a" stroke-width="1.0" fill="none" />
<text x="383.45" y="378.69" font-size="8.8" text-anchor="middle" fill="#2a2a2a" letter-spacing="0.1">*</text>
<path d="M418.8,416.0 V412.8 H430.4 V439.2" stroke="#4a4a4a" stroke-width="1.0" fill="none" />
<text x="424.60" y="414.29" font-size="8.8" text-anchor="middle" fill="#2a2a2a" letter-spacing="0.1">****</text>
<path d="M418.8,400.5 V394.8 H441.6 V443.40000000000003" stroke="#4a4a4a" stroke-width="1.0" fill="none" />
<text x="430.20" y="396.29" font-size="8.8" text-anchor="middle" fill="#2a2a2a" letter-spacing="0.1">****</text>
<path d="M418.8,382.7 V376.8 H452.6 V447.70000000000005" stroke="#4a4a4a" stroke-width="1.0" fill="none" />
<text x="435.70" y="378.29" font-size="8.8" text-anchor="middle" fill="#2a2a2a" letter-spacing="0.1">****</text>
<path d="M470.6,440.3 V413.2 H481.6 V418.09999999999997" stroke="#4a4a4a" stroke-width="1.0" fill="none" />
<text x="476.10" y="414.69" font-size="8.8" text-anchor="middle" fill="#2a2a2a" letter-spacing="0.1">****</text>
<path d="M470.6,400.1 V394.8 H492.8 V431.8" stroke="#4a4a4a" stroke-width="1.0" fill="none" />
<text x="481.70" y="396.39" font-size="8.8" text-anchor="middle" fill="#2a2a2a" letter-spacing="0.1">**</text>
<path d="M470.6,383.2 V377.2 H504 V430.8" stroke="#4a4a4a" stroke-width="1.0" fill="none" />
<text x="487.30" y="378.69" font-size="8.8" text-anchor="middle" fill="#2a2a2a" letter-spacing="0.1">**</text>
<text x="378.2" y="466.8" font-size="8.8" fill="#2a2a2a">G<tspan font-size="6.2" dy="2.2">0</tspan></text>
<text x="430.8" y="467.6" font-size="8.8" fill="#2a2a2a">G<tspan font-size="6.2" dy="2.2">1</tspan></text>
<text x="474.6" y="467.6" font-size="8.8" fill="#2a2a2a" textLength="25.8" lengthAdjust="spacingAndGlyphs">S/G<tspan font-size="6.2" dy="2.2">2</tspan><tspan dy="-2.2">/M</tspan></text>
<text x="331.7" y="423.3" font-size="9.7" text-anchor="middle" fill="#2a2a2a" font-style="normal" transform="rotate(-90 331.7 423.3)" dy="3.49" textLength="62.9" lengthAdjust="spacingAndGlyphs">% LT-HSCs in phase</text>
<rect x="373.75" y="475.50" width="5.00" height="5.00" fill="#c8102e" stroke="none" stroke-width="0"/>
<text x="382.0" y="480.66" font-size="7.4" text-anchor="start" font-weight="normal" font-style="normal" fill="#2a2a2a" textLength="20" lengthAdjust="spacingAndGlyphs">shCtrl</text>
<rect x="373.75" y="483.75" width="5.00" height="5.00" fill="#17548f" stroke="none" stroke-width="0"/>
<text x="382.0" y="488.91" font-size="7.4" text-anchor="start" font-weight="normal" font-style="normal" fill="#2a2a2a" textLength="23" lengthAdjust="spacingAndGlyphs">shSdc2</text>
<rect x="418.75" y="475.50" width="5.00" height="5.00" fill="#5b2a7c" stroke="none" stroke-width="0"/>
<text x="427.0" y="480.66" font-size="7.4" text-anchor="start" font-weight="normal" font-style="normal" fill="#2a2a2a" textLength="31.75" lengthAdjust="spacingAndGlyphs">shCdkn1c</text>
<rect x="418.75" y="483.75" width="5.00" height="5.00" fill="#f7941d" stroke="none" stroke-width="0"/>
<text x="427.0" y="488.91" font-size="7.4" text-anchor="start" font-weight="normal" font-style="normal" fill="#2a2a2a" textLength="65" lengthAdjust="spacingAndGlyphs">shSdc2 + shCdkn1c</text>
<defs><filter id="bl" x="-20%" y="-20%" width="140%" height="140%"><feGaussianBlur stdDeviation="0.45"/></filter></defs>
<text x="124" y="507.80" font-size="10" text-anchor="start" font-weight="normal" font-style="normal" fill="#2a2a2a"></text>
<text x="152.9" y="507.9" font-size="10" text-anchor="middle" fill="#222" textLength="30.4" lengthAdjust="spacingAndGlyphs">Vehicle</text>
<text x="394.9" y="507.4" font-size="10" text-anchor="middle" fill="#222" textLength="27" lengthAdjust="spacingAndGlyphs">TGF-β</text>
<path d="M52.5,507.3 V513.7 M52.5,510.5 H253 M253,507.3 V513.7" stroke="#222" stroke-width="1.1" fill="none" />
<path d="M294.2,507.3 V513.7 M294.2,510.5 H494.6 M494.6,507.3 V513.7" stroke="#222" stroke-width="1.1" fill="none" />
<path d="M92.3,541.2 H72.4 V574.6 H92.3" fill="none" stroke="#c4c4c4" stroke-width="0.9"/><path d="M92.3,541.2 V574.6" stroke="#7a7a7a" stroke-width="1"/>
<text x="69.80" y="526.4" font-size="8.2" text-anchor="middle" fill="#222" textLength="23.2" lengthAdjust="spacingAndGlyphs">34<tspan font-size="5" dy="-3.3">−</tspan><tspan dy="3.3">KSL</tspan></text>
<text x="86.19999999999999" y="548.35" font-size="8.2" text-anchor="middle" font-weight="normal" font-style="normal" fill="#222" textLength="13.8" lengthAdjust="spacingAndGlyphs">18%</text>
<line x1="37.400000000000006" y1="521.3" x2="40.2" y2="521.3" stroke="#222" stroke-width="0.8"/>
<text x="37.0" y="523.78" font-size="6.9" text-anchor="end" font-weight="normal" font-style="normal" fill="#2a2a2a" textLength="14.6" lengthAdjust="spacingAndGlyphs">250K</text>
<line x1="37.400000000000006" y1="532.3" x2="40.2" y2="532.3" stroke="#222" stroke-width="0.8"/>
<text x="37.0" y="534.78" font-size="6.9" text-anchor="end" font-weight="normal" font-style="normal" fill="#2a2a2a" textLength="14.6" lengthAdjust="spacingAndGlyphs">200K</text>
<line x1="37.400000000000006" y1="542.9" x2="40.2" y2="542.9" stroke="#222" stroke-width="0.8"/>
<text x="37.0" y="545.38" font-size="6.9" text-anchor="end" font-weight="normal" font-style="normal" fill="#2a2a2a" textLength="14.6" lengthAdjust="spacingAndGlyphs">150K</text>
<line x1="37.400000000000006" y1="553.5" x2="40.2" y2="553.5" stroke="#222" stroke-width="0.8"/>
<text x="37.0" y="555.98" font-size="6.9" text-anchor="end" font-weight="normal" font-style="normal" fill="#2a2a2a" textLength="14.6" lengthAdjust="spacingAndGlyphs">100K</text>
<line x1="37.400000000000006" y1="564.5" x2="40.2" y2="564.5" stroke="#222" stroke-width="0.8"/>
<text x="37.0" y="566.98" font-size="6.9" text-anchor="end" font-weight="normal" font-style="normal" fill="#2a2a2a" textLength="11" lengthAdjust="spacingAndGlyphs">50K</text>
<line x1="37.400000000000006" y1="575.7" x2="40.2" y2="575.7" stroke="#222" stroke-width="0.8"/>
<text x="37.0" y="578.18" font-size="6.9" text-anchor="end" font-weight="normal" font-style="normal" fill="#2a2a2a">0</text>
<line x1="38.800000000000004" y1="521.3" x2="40.2" y2="521.3" stroke="#333" stroke-width="0.5"/>
<line x1="38.800000000000004" y1="523.5" x2="40.2" y2="523.5" stroke="#333" stroke-width="0.5"/>
<line x1="38.800000000000004" y1="525.7" x2="40.2" y2="525.7" stroke="#333" stroke-width="0.5"/>
<line x1="38.800000000000004" y1="527.9" x2="40.2" y2="527.9" stroke="#333" stroke-width="0.5"/>
<line x1="38.800000000000004" y1="530.1" x2="40.2" y2="530.1" stroke="#333" stroke-width="0.5"/>
<line x1="38.800000000000004" y1="532.3" x2="40.2" y2="532.3" stroke="#333" stroke-width="0.5"/>
<line x1="38.800000000000004" y1="534.5" x2="40.2" y2="534.5" stroke="#333" stroke-width="0.5"/>
<line x1="38.800000000000004" y1="536.7" x2="40.2" y2="536.7" stroke="#333" stroke-width="0.5"/>
<line x1="38.800000000000004" y1="538.9" x2="40.2" y2="538.9" stroke="#333" stroke-width="0.5"/>
<line x1="38.800000000000004" y1="541.1" x2="40.2" y2="541.1" stroke="#333" stroke-width="0.5"/>
<line x1="38.800000000000004" y1="543.3" x2="40.2" y2="543.3" stroke="#333" stroke-width="0.5"/>
<line x1="38.800000000000004" y1="545.5" x2="40.2" y2="545.5" stroke="#333" stroke-width="0.5"/>
<line x1="38.800000000000004" y1="547.7" x2="40.2" y2="547.7" stroke="#333" stroke-width="0.5"/>
<line x1="38.800000000000004" y1="549.9" x2="40.2" y2="549.9" stroke="#333" stroke-width="0.5"/>
<line x1="38.800000000000004" y1="552.1" x2="40.2" y2="552.1" stroke="#333" stroke-width="0.5"/>
<line x1="38.800000000000004" y1="554.3" x2="40.2" y2="554.3" stroke="#333" stroke-width="0.5"/>
<line x1="38.800000000000004" y1="556.5" x2="40.2" y2="556.5" stroke="#333" stroke-width="0.5"/>
<line x1="38.800000000000004" y1="558.7" x2="40.2" y2="558.7" stroke="#333" stroke-width="0.5"/>
<line x1="38.800000000000004" y1="560.9" x2="40.2" y2="560.9" stroke="#333" stroke-width="0.5"/>
<line x1="38.800000000000004" y1="563.1" x2="40.2" y2="563.1" stroke="#333" stroke-width="0.5"/>
<line x1="38.800000000000004" y1="565.3" x2="40.2" y2="565.3" stroke="#333" stroke-width="0.5"/>
<line x1="38.800000000000004" y1="567.5" x2="40.2" y2="567.5" stroke="#333" stroke-width="0.5"/>
<line x1="38.800000000000004" y1="569.7" x2="40.2" y2="569.7" stroke="#333" stroke-width="0.5"/>
<line x1="38.800000000000004" y1="571.9" x2="40.2" y2="571.9" stroke="#333" stroke-width="0.5"/>
<line x1="38.800000000000004" y1="574.1" x2="40.2" y2="574.1" stroke="#333" stroke-width="0.5"/>
<line x1="42.3" y1="576.7" x2="42.3" y2="579.3000000000001" stroke="#222" stroke-width="0.8"/>
<line x1="54.6" y1="576.7" x2="54.6" y2="579.3000000000001" stroke="#222" stroke-width="0.8"/>
<line x1="64.5" y1="576.7" x2="64.5" y2="579.3000000000001" stroke="#222" stroke-width="0.8"/>
<line x1="80" y1="576.7" x2="80" y2="579.3000000000001" stroke="#222" stroke-width="0.8"/>
<line x1="94.1" y1="576.7" x2="94.1" y2="579.3000000000001" stroke="#222" stroke-width="0.8"/>
<text x="36.60" y="585.8" font-size="7" fill="#2a2a2a" textLength="12.6" lengthAdjust="spacingAndGlyphs">−10<tspan font-size="4.6" dy="-2.6">3</tspan></text>
<text x="54.6" y="585.58" font-size="6.9" text-anchor="middle" font-weight="normal" font-style="normal" fill="#2a2a2a">0</text>
<text x="60.90" y="585.8" font-size="7" fill="#2a2a2a" textLength="8.6" lengthAdjust="spacingAndGlyphs">10<tspan font-size="4.6" dy="-2.6">3</tspan></text>
<text x="76.40" y="585.8" font-size="7" fill="#2a2a2a" textLength="8.6" lengthAdjust="spacingAndGlyphs">10<tspan font-size="4.6" dy="-2.6">4</tspan></text>
<text x="90.50" y="585.8" font-size="7" fill="#2a2a2a" textLength="8.6" lengthAdjust="spacingAndGlyphs">10<tspan font-size="4.6" dy="-2.6">5</tspan></text>
<line x1="42.2" y1="576.7" x2="42.2" y2="578.0" stroke="#333" stroke-width="0.5"/>
<line x1="44.3" y1="576.7" x2="44.3" y2="578.0" stroke="#333" stroke-width="0.5"/>
<line x1="46.4" y1="576.7" x2="46.4" y2="578.0" stroke="#333" stroke-width="0.5"/>
<line x1="48.5" y1="576.7" x2="48.5" y2="578.0" stroke="#333" stroke-width="0.5"/>
<line x1="50.6" y1="576.7" x2="50.6" y2="578.0" stroke="#333" stroke-width="0.5"/>
<line x1="52.7" y1="576.7" x2="52.7" y2="578.0" stroke="#333" stroke-width="0.5"/>
<line x1="54.8" y1="576.7" x2="54.8" y2="578.0" stroke="#333" stroke-width="0.5"/>
<line x1="56.9" y1="576.7" x2="56.9" y2="578.0" stroke="#333" stroke-width="0.5"/>
<line x1="59.0" y1="576.7" x2="59.0" y2="578.0" stroke="#333" stroke-width="0.5"/>
<line x1="61.1" y1="576.7" x2="61.1" y2="578.0" stroke="#333" stroke-width="0.5"/>
<line x1="63.2" y1="576.7" x2="63.2" y2="578.0" stroke="#333" stroke-width="0.5"/>
<line x1="65.3" y1="576.7" x2="65.3" y2="578.0" stroke="#333" stroke-width="0.5"/>
<line x1="67.4" y1="576.7" x2="67.4" y2="578.0" stroke="#333" stroke-width="0.5"/>
<line x1="69.5" y1="576.7" x2="69.5" y2="578.0" stroke="#333" stroke-width="0.5"/>
<line x1="71.6" y1="576.7" x2="71.6" y2="578.0" stroke="#333" stroke-width="0.5"/>
<line x1="73.7" y1="576.7" x2="73.7" y2="578.0" stroke="#333" stroke-width="0.5"/>
<line x1="75.8" y1="576.7" x2="75.8" y2="578.0" stroke="#333" stroke-width="0.5"/>
<line x1="77.9" y1="576.7" x2="77.9" y2="578.0" stroke="#333" stroke-width="0.5"/>
<line x1="80.0" y1="576.7" x2="80.0" y2="578.0" stroke="#333" stroke-width="0.5"/>
<line x1="82.1" y1="576.7" x2="82.1" y2="578.0" stroke="#333" stroke-width="0.5"/>
<line x1="84.2" y1="576.7" x2="84.2" y2="578.0" stroke="#333" stroke-width="0.5"/>
<line x1="86.3" y1="576.7" x2="86.3" y2="578.0" stroke="#333" stroke-width="0.5"/>
<line x1="88.4" y1="576.7" x2="88.4" y2="578.0" stroke="#333" stroke-width="0.5"/>
<line x1="90.5" y1="576.7" x2="90.5" y2="578.0" stroke="#333" stroke-width="0.5"/>
<line x1="92.6" y1="576.7" x2="92.6" y2="578.0" stroke="#333" stroke-width="0.5"/>
<line x1="94.7" y1="576.7" x2="94.7" y2="578.0" stroke="#333" stroke-width="0.5"/>
<line x1="96.8" y1="576.7" x2="96.8" y2="578.0" stroke="#333" stroke-width="0.5"/>
<line x1="98.9" y1="576.7" x2="98.9" y2="578.0" stroke="#333" stroke-width="0.5"/>
<rect x="40.2" y="518.1" width="58.8" height="58.6" fill="none" stroke="#161616" stroke-width="1.5"/>
<path d="M173,541.2 H152.5 V574.6 H173" fill="none" stroke="#c4c4c4" stroke-width="0.9"/><path d="M173,541.2 V574.6" stroke="#7a7a7a" stroke-width="1"/>
<text x="150.25" y="526.4" font-size="8.2" text-anchor="middle" fill="#222" textLength="39.1" lengthAdjust="spacingAndGlyphs">Sdc2<tspan font-size="5" dy="-3.3">−</tspan><tspan dy="3.3"> HSCs</tspan></text>
<text x="167.15" y="548.35" font-size="8.2" text-anchor="middle" font-weight="normal" font-style="normal" fill="#222" textLength="13.7" lengthAdjust="spacingAndGlyphs">17%</text>
<line x1="118.4" y1="521.3" x2="121.2" y2="521.3" stroke="#222" stroke-width="0.8"/>
<text x="118.0" y="523.78" font-size="6.9" text-anchor="end" font-weight="normal" font-style="normal" fill="#2a2a2a" textLength="14.6" lengthAdjust="spacingAndGlyphs">250K</text>
<line x1="118.4" y1="532.3" x2="121.2" y2="532.3" stroke="#222" stroke-width="0.8"/>
<text x="118.0" y="534.78" font-size="6.9" text-anchor="end" font-weight="normal" font-style="normal" fill="#2a2a2a" textLength="14.6" lengthAdjust="spacingAndGlyphs">200K</text>
<line x1="118.4" y1="542.9" x2="121.2" y2="542.9" stroke="#222" stroke-width="0.8"/>
<text x="118.0" y="545.38" font-size="6.9" text-anchor="end" font-weight="normal" font-style="normal" fill="#2a2a2a" textLength="14.6" lengthAdjust="spacingAndGlyphs">150K</text>
<line x1="118.4" y1="553.5" x2="121.2" y2="553.5" stroke="#222" stroke-width="0.8"/>
<text x="118.0" y="555.98" font-size="6.9" text-anchor="end" font-weight="normal" font-style="normal" fill="#2a2a2a" textLength="14.6" lengthAdjust="spacingAndGlyphs">100K</text>
<line x1="118.4" y1="564.5" x2="121.2" y2="564.5" stroke="#222" stroke-width="0.8"/>
<text x="118.0" y="566.98" font-size="6.9" text-anchor="end" font-weight="normal" font-style="normal" fill="#2a2a2a" textLength="11" lengthAdjust="spacingAndGlyphs">50K</text>
<line x1="118.4" y1="575.7" x2="121.2" y2="575.7" stroke="#222" stroke-width="0.8"/>
<text x="118.0" y="578.18" font-size="6.9" text-anchor="end" font-weight="normal" font-style="normal" fill="#2a2a2a">0</text>
<line x1="119.8" y1="521.3" x2="121.2" y2="521.3" stroke="#333" stroke-width="0.5"/>
<line x1="119.8" y1="523.5" x2="121.2" y2="523.5" stroke="#333" stroke-width="0.5"/>
<line x1="119.8" y1="525.7" x2="121.2" y2="525.7" stroke="#333" stroke-width="0.5"/>
<line x1="119.8" y1="527.9" x2="121.2" y2="527.9" stroke="#333" stroke-width="0.5"/>
<line x1="119.8" y1="530.1" x2="121.2" y2="530.1" stroke="#333" stroke-width="0.5"/>
<line x1="119.8" y1="532.3" x2="121.2" y2="532.3" stroke="#333" stroke-width="0.5"/>
<line x1="119.8" y1="534.5" x2="121.2" y2="534.5" stroke="#333" stroke-width="0.5"/>
<line x1="119.8" y1="536.7" x2="121.2" y2="536.7" stroke="#333" stroke-width="0.5"/>
<line x1="119.8" y1="538.9" x2="121.2" y2="538.9" stroke="#333" stroke-width="0.5"/>
<line x1="119.8" y1="541.1" x2="121.2" y2="541.1" stroke="#333" stroke-width="0.5"/>
<line x1="119.8" y1="543.3" x2="121.2" y2="543.3" stroke="#333" stroke-width="0.5"/>
<line x1="119.8" y1="545.5" x2="121.2" y2="545.5" stroke="#333" stroke-width="0.5"/>
<line x1="119.8" y1="547.7" x2="121.2" y2="547.7" stroke="#333" stroke-width="0.5"/>
<line x1="119.8" y1="549.9" x2="121.2" y2="549.9" stroke="#333" stroke-width="0.5"/>
<line x1="119.8" y1="552.1" x2="121.2" y2="552.1" stroke="#333" stroke-width="0.5"/>
<line x1="119.8" y1="554.3" x2="121.2" y2="554.3" stroke="#333" stroke-width="0.5"/>
<line x1="119.8" y1="556.5" x2="121.2" y2="556.5" stroke="#333" stroke-width="0.5"/>
<line x1="119.8" y1="558.7" x2="121.2" y2="558.7" stroke="#333" stroke-width="0.5"/>
<line x1="119.8" y1="560.9" x2="121.2" y2="560.9" stroke="#333" stroke-width="0.5"/>
<line x1="119.8" y1="563.1" x2="121.2" y2="563.1" stroke="#333" stroke-width="0.5"/>
<line x1="119.8" y1="565.3" x2="121.2" y2="565.3" stroke="#333" stroke-width="0.5"/>
<line x1="119.8" y1="567.5" x2="121.2" y2="567.5" stroke="#333" stroke-width="0.5"/>
<line x1="119.8" y1="569.7" x2="121.2" y2="569.7" stroke="#333" stroke-width="0.5"/>
<line x1="119.8" y1="571.9" x2="121.2" y2="571.9" stroke="#333" stroke-width="0.5"/>
<line x1="119.8" y1="574.1" x2="121.2" y2="574.1" stroke="#333" stroke-width="0.5"/>
<line x1="126.4" y1="576.7" x2="126.4" y2="579.3000000000001" stroke="#222" stroke-width="0.8"/>
<line x1="134.9" y1="576.7" x2="134.9" y2="579.3000000000001" stroke="#222" stroke-width="0.8"/>
<line x1="144.4" y1="576.7" x2="144.4" y2="579.3000000000001" stroke="#222" stroke-width="0.8"/>
<line x1="161.4" y1="576.7" x2="161.4" y2="579.3000000000001" stroke="#222" stroke-width="0.8"/>
<line x1="174" y1="576.7" x2="174" y2="579.3000000000001" stroke="#222" stroke-width="0.8"/>
<text x="120.70" y="585.8" font-size="7" fill="#2a2a2a" textLength="12.6" lengthAdjust="spacingAndGlyphs">−10<tspan font-size="4.6" dy="-2.6">3</tspan></text>
<text x="134.9" y="585.58" font-size="6.9" text-anchor="middle" font-weight="normal" font-style="normal" fill="#2a2a2a">0</text>
<text x="140.80" y="585.8" font-size="7" fill="#2a2a2a" textLength="8.6" lengthAdjust="spacingAndGlyphs">10<tspan font-size="4.6" dy="-2.6">3</tspan></text>
<text x="157.80" y="585.8" font-size="7" fill="#2a2a2a" textLength="8.6" lengthAdjust="spacingAndGlyphs">10<tspan font-size="4.6" dy="-2.6">4</tspan></text>
<text x="170.40" y="585.8" font-size="7" fill="#2a2a2a" textLength="8.6" lengthAdjust="spacingAndGlyphs">10<tspan font-size="4.6" dy="-2.6">5</tspan></text>
<line x1="123.2" y1="576.7" x2="123.2" y2="578.0" stroke="#333" stroke-width="0.5"/>
<line x1="125.3" y1="576.7" x2="125.3" y2="578.0" stroke="#333" stroke-width="0.5"/>
<line x1="127.4" y1="576.7" x2="127.4" y2="578.0" stroke="#333" stroke-width="0.5"/>
<line x1="129.5" y1="576.7" x2="129.5" y2="578.0" stroke="#333" stroke-width="0.5"/>
<line x1="131.6" y1="576.7" x2="131.6" y2="578.0" stroke="#333" stroke-width="0.5"/>
<line x1="133.7" y1="576.7" x2="133.7" y2="578.0" stroke="#333" stroke-width="0.5"/>
<line x1="135.8" y1="576.7" x2="135.8" y2="578.0" stroke="#333" stroke-width="0.5"/>
<line x1="137.9" y1="576.7" x2="137.9" y2="578.0" stroke="#333" stroke-width="0.5"/>
<line x1="140.0" y1="576.7" x2="140.0" y2="578.0" stroke="#333" stroke-width="0.5"/>
<line x1="142.1" y1="576.7" x2="142.1" y2="578.0" stroke="#333" stroke-width="0.5"/>
<line x1="144.2" y1="576.7" x2="144.2" y2="578.0" stroke="#333" stroke-width="0.5"/>
<line x1="146.3" y1="576.7" x2="146.3" y2="578.0" stroke="#333" stroke-width="0.5"/>
<line x1="148.4" y1="576.7" x2="148.4" y2="578.0" stroke="#333" stroke-width="0.5"/>
<line x1="150.5" y1="576.7" x2="150.5" y2="578.0" stroke="#333" stroke-width="0.5"/>
<line x1="152.6" y1="576.7" x2="152.6" y2="578.0" stroke="#333" stroke-width="0.5"/>
<line x1="154.7" y1="576.7" x2="154.7" y2="578.0" stroke="#333" stroke-width="0.5"/>
<line x1="156.8" y1="576.7" x2="156.8" y2="578.0" stroke="#333" stroke-width="0.5"/>
<line x1="158.9" y1="576.7" x2="158.9" y2="578.0" stroke="#333" stroke-width="0.5"/>
<line x1="161.0" y1="576.7" x2="161.0" y2="578.0" stroke="#333" stroke-width="0.5"/>
<line x1="163.1" y1="576.7" x2="163.1" y2="578.0" stroke="#333" stroke-width="0.5"/>
<line x1="165.2" y1="576.7" x2="165.2" y2="578.0" stroke="#333" stroke-width="0.5"/>
<line x1="167.3" y1="576.7" x2="167.3" y2="578.0" stroke="#333" stroke-width="0.5"/>
<line x1="169.4" y1="576.7" x2="169.4" y2="578.0" stroke="#333" stroke-width="0.5"/>
<line x1="171.5" y1="576.7" x2="171.5" y2="578.0" stroke="#333" stroke-width="0.5"/>
<line x1="173.6" y1="576.7" x2="173.6" y2="578.0" stroke="#333" stroke-width="0.5"/>
<line x1="175.7" y1="576.7" x2="175.7" y2="578.0" stroke="#333" stroke-width="0.5"/>
<line x1="177.8" y1="576.7" x2="177.8" y2="578.0" stroke="#333" stroke-width="0.5"/>
<rect x="121.2" y="518.1" width="58.6" height="58.6" fill="none" stroke="#161616" stroke-width="1.5"/>
<path d="M254,541.2 H234 V574.6 H254" fill="none" stroke="#c4c4c4" stroke-width="0.9"/><path d="M254,541.2 V574.6" stroke="#7a7a7a" stroke-width="1"/>
<text x="231.60" y="526.4" font-size="8.2" text-anchor="middle" fill="#222" textLength="39.8" lengthAdjust="spacingAndGlyphs">Sdc2<tspan font-size="5" dy="-3.3">+</tspan><tspan dy="3.3"> HSCs</tspan></text>
<text x="248.2" y="548.35" font-size="8.2" text-anchor="middle" font-weight="normal" font-style="normal" fill="#222" textLength="13.8" lengthAdjust="spacingAndGlyphs">35%</text>
<line x1="199.39999999999998" y1="521.3" x2="202.2" y2="521.3" stroke="#222" stroke-width="0.8"/>
<text x="199.0" y="523.78" font-size="6.9" text-anchor="end" font-weight="normal" font-style="normal" fill="#2a2a2a" textLength="14.6" lengthAdjust="spacingAndGlyphs">250K</text>
<line x1="199.39999999999998" y1="532.3" x2="202.2" y2="532.3" stroke="#222" stroke-width="0.8"/>
<text x="199.0" y="534.78" font-size="6.9" text-anchor="end" font-weight="normal" font-style="normal" fill="#2a2a2a" textLength="14.6" lengthAdjust="spacingAndGlyphs">200K</text>
<line x1="199.39999999999998" y1="542.9" x2="202.2" y2="542.9" stroke="#222" stroke-width="0.8"/>
<text x="199.0" y="545.38" font-size="6.9" text-anchor="end" font-weight="normal" font-style="normal" fill="#2a2a2a" textLength="14.6" lengthAdjust="spacingAndGlyphs">150K</text>
<line x1="199.39999999999998" y1="553.5" x2="202.2" y2="553.5" stroke="#222" stroke-width="0.8"/>
<text x="199.0" y="555.98" font-size="6.9" text-anchor="end" font-weight="normal" font-style="normal" fill="#2a2a2a" textLength="14.6" lengthAdjust="spacingAndGlyphs">100K</text>
<line x1="199.39999999999998" y1="564.5" x2="202.2" y2="564.5" stroke="#222" stroke-width="0.8"/>
<text x="199.0" y="566.98" font-size="6.9" text-anchor="end" font-weight="normal" font-style="normal" fill="#2a2a2a" textLength="11" lengthAdjust="spacingAndGlyphs">50K</text>
<line x1="199.39999999999998" y1="575.7" x2="202.2" y2="575.7" stroke="#222" stroke-width="0.8"/>
<text x="199.0" y="578.18" font-size="6.9" text-anchor="end" font-weight="normal" font-style="normal" fill="#2a2a2a">0</text>
<line x1="200.79999999999998" y1="521.3" x2="202.2" y2="521.3" stroke="#333" stroke-width="0.5"/>
<line x1="200.79999999999998" y1="523.5" x2="202.2" y2="523.5" stroke="#333" stroke-width="0.5"/>
<line x1="200.79999999999998" y1="525.7" x2="202.2" y2="525.7" stroke="#333" stroke-width="0.5"/>
<line x1="200.79999999999998" y1="527.9" x2="202.2" y2="527.9" stroke="#333" stroke-width="0.5"/>
<line x1="200.79999999999998" y1="530.1" x2="202.2" y2="530.1" stroke="#333" stroke-width="0.5"/>
<line x1="200.79999999999998" y1="532.3" x2="202.2" y2="532.3" stroke="#333" stroke-width="0.5"/>
<line x1="200.79999999999998" y1="534.5" x2="202.2" y2="534.5" stroke="#333" stroke-width="0.5"/>
<line x1="200.79999999999998" y1="536.7" x2="202.2" y2="536.7" stroke="#333" stroke-width="0.5"/>
<line x1="200.79999999999998" y1="538.9" x2="202.2" y2="538.9" stroke="#333" stroke-width="0.5"/>
<line x1="200.79999999999998" y1="541.1" x2="202.2" y2="541.1" stroke="#333" stroke-width="0.5"/>
<line x1="200.79999999999998" y1="543.3" x2="202.2" y2="543.3" stroke="#333" stroke-width="0.5"/>
<line x1="200.79999999999998" y1="545.5" x2="202.2" y2="545.5" stroke="#333" stroke-width="0.5"/>
<line x1="200.79999999999998" y1="547.7" x2="202.2" y2="547.7" stroke="#333" stroke-width="0.5"/>
<line x1="200.79999999999998" y1="549.9" x2="202.2" y2="549.9" stroke="#333" stroke-width="0.5"/>
<line x1="200.79999999999998" y1="552.1" x2="202.2" y2="552.1" stroke="#333" stroke-width="0.5"/>
<line x1="200.79999999999998" y1="554.3" x2="202.2" y2="554.3" stroke="#333" stroke-width="0.5"/>
<line x1="200.79999999999998" y1="556.5" x2="202.2" y2="556.5" stroke="#333" stroke-width="0.5"/>
<line x1="200.79999999999998" y1="558.7" x2="202.2" y2="558.7" stroke="#333" stroke-width="0.5"/>
<line x1="200.79999999999998" y1="560.9" x2="202.2" y2="560.9" stroke="#333" stroke-width="0.5"/>
<line x1="200.79999999999998" y1="563.1" x2="202.2" y2="563.1" stroke="#333" stroke-width="0.5"/>
<line x1="200.79999999999998" y1="565.3" x2="202.2" y2="565.3" stroke="#333" stroke-width="0.5"/>
<line x1="200.79999999999998" y1="567.5" x2="202.2" y2="567.5" stroke="#333" stroke-width="0.5"/>
<line x1="200.79999999999998" y1="569.7" x2="202.2" y2="569.7" stroke="#333" stroke-width="0.5"/>
<line x1="200.79999999999998" y1="571.9" x2="202.2" y2="571.9" stroke="#333" stroke-width="0.5"/>
<line x1="200.79999999999998" y1="574.1" x2="202.2" y2="574.1" stroke="#333" stroke-width="0.5"/>
<line x1="203.7" y1="576.7" x2="203.7" y2="579.3000000000001" stroke="#222" stroke-width="0.8"/>
<line x1="216" y1="576.7" x2="216" y2="579.3000000000001" stroke="#222" stroke-width="0.8"/>
<line x1="225.5" y1="576.7" x2="225.5" y2="579.3000000000001" stroke="#222" stroke-width="0.8"/>
<line x1="242.4" y1="576.7" x2="242.4" y2="579.3000000000001" stroke="#222" stroke-width="0.8"/>
<line x1="256.2" y1="576.7" x2="256.2" y2="579.3000000000001" stroke="#222" stroke-width="0.8"/>
<text x="198.00" y="585.8" font-size="7" fill="#2a2a2a" textLength="12.6" lengthAdjust="spacingAndGlyphs">−10<tspan font-size="4.6" dy="-2.6">3</tspan></text>
<text x="216" y="585.58" font-size="6.9" text-anchor="middle" font-weight="normal" font-style="normal" fill="#2a2a2a">0</text>
<text x="221.90" y="585.8" font-size="7" fill="#2a2a2a" textLength="8.6" lengthAdjust="spacingAndGlyphs">10<tspan font-size="4.6" dy="-2.6">3</tspan></text>
<text x="238.80" y="585.8" font-size="7" fill="#2a2a2a" textLength="8.6" lengthAdjust="spacingAndGlyphs">10<tspan font-size="4.6" dy="-2.6">4</tspan></text>
<text x="252.60" y="585.8" font-size="7" fill="#2a2a2a" textLength="8.6" lengthAdjust="spacingAndGlyphs">10<tspan font-size="4.6" dy="-2.6">5</tspan></text>
<line x1="204.2" y1="576.7" x2="204.2" y2="578.0" stroke="#333" stroke-width="0.5"/>
<line x1="206.3" y1="576.7" x2="206.3" y2="578.0" stroke="#333" stroke-width="0.5"/>
<line x1="208.4" y1="576.7" x2="208.4" y2="578.0" stroke="#333" stroke-width="0.5"/>
<line x1="210.5" y1="576.7" x2="210.5" y2="578.0" stroke="#333" stroke-width="0.5"/>
<line x1="212.6" y1="576.7" x2="212.6" y2="578.0" stroke="#333" stroke-width="0.5"/>
<line x1="214.7" y1="576.7" x2="214.7" y2="578.0" stroke="#333" stroke-width="0.5"/>
<line x1="216.8" y1="576.7" x2="216.8" y2="578.0" stroke="#333" stroke-width="0.5"/>
<line x1="218.9" y1="576.7" x2="218.9" y2="578.0" stroke="#333" stroke-width="0.5"/>
<line x1="221.0" y1="576.7" x2="221.0" y2="578.0" stroke="#333" stroke-width="0.5"/>
<line x1="223.1" y1="576.7" x2="223.1" y2="578.0" stroke="#333" stroke-width="0.5"/>
<line x1="225.2" y1="576.7" x2="225.2" y2="578.0" stroke="#333" stroke-width="0.5"/>
<line x1="227.3" y1="576.7" x2="227.3" y2="578.0" stroke="#333" stroke-width="0.5"/>
<line x1="229.4" y1="576.7" x2="229.4" y2="578.0" stroke="#333" stroke-width="0.5"/>
<line x1="231.5" y1="576.7" x2="231.5" y2="578.0" stroke="#333" stroke-width="0.5"/>
<line x1="233.6" y1="576.7" x2="233.6" y2="578.0" stroke="#333" stroke-width="0.5"/>
<line x1="235.7" y1="576.7" x2="235.7" y2="578.0" stroke="#333" stroke-width="0.5"/>
<line x1="237.8" y1="576.7" x2="237.8" y2="578.0" stroke="#333" stroke-width="0.5"/>
<line x1="239.9" y1="576.7" x2="239.9" y2="578.0" stroke="#333" stroke-width="0.5"/>
<line x1="242.0" y1="576.7" x2="242.0" y2="578.0" stroke="#333" stroke-width="0.5"/>
<line x1="244.1" y1="576.7" x2="244.1" y2="578.0" stroke="#333" stroke-width="0.5"/>
<line x1="246.2" y1="576.7" x2="246.2" y2="578.0" stroke="#333" stroke-width="0.5"/>
<line x1="248.3" y1="576.7" x2="248.3" y2="578.0" stroke="#333" stroke-width="0.5"/>
<line x1="250.4" y1="576.7" x2="250.4" y2="578.0" stroke="#333" stroke-width="0.5"/>
<line x1="252.5" y1="576.7" x2="252.5" y2="578.0" stroke="#333" stroke-width="0.5"/>
<line x1="254.6" y1="576.7" x2="254.6" y2="578.0" stroke="#333" stroke-width="0.5"/>
<line x1="256.7" y1="576.7" x2="256.7" y2="578.0" stroke="#333" stroke-width="0.5"/>
<line x1="258.8" y1="576.7" x2="258.8" y2="578.0" stroke="#333" stroke-width="0.5"/>
<rect x="202.2" y="518.1" width="58.6" height="58.6" fill="none" stroke="#161616" stroke-width="1.5"/>
<path d="M338,541.2 H317.5 V574.6 H338" fill="none" stroke="#c4c4c4" stroke-width="0.9"/><path d="M338,541.2 V574.6" stroke="#7a7a7a" stroke-width="1"/>
<text x="314.70" y="526.4" font-size="8.2" text-anchor="middle" fill="#222" textLength="23.2" lengthAdjust="spacingAndGlyphs">34<tspan font-size="5" dy="-3.3">−</tspan><tspan dy="3.3">KSL</tspan></text>
<text x="335.85" y="548.35" font-size="8.2" text-anchor="middle" font-weight="normal" font-style="normal" fill="#222" textLength="13.9" lengthAdjust="spacingAndGlyphs">61%</text>
<line x1="282.7" y1="521.3" x2="285.5" y2="521.3" stroke="#222" stroke-width="0.8"/>
<text x="282.3" y="523.78" font-size="6.9" text-anchor="end" font-weight="normal" font-style="normal" fill="#2a2a2a" textLength="14.6" lengthAdjust="spacingAndGlyphs">250K</text>
<line x1="282.7" y1="532.3" x2="285.5" y2="532.3" stroke="#222" stroke-width="0.8"/>
<text x="282.3" y="534.78" font-size="6.9" text-anchor="end" font-weight="normal" font-style="normal" fill="#2a2a2a" textLength="14.6" lengthAdjust="spacingAndGlyphs">200K</text>
<line x1="282.7" y1="542.9" x2="285.5" y2="542.9" stroke="#222" stroke-width="0.8"/>
<text x="282.3" y="545.38" font-size="6.9" text-anchor="end" font-weight="normal" font-style="normal" fill="#2a2a2a" textLength="14.6" lengthAdjust="spacingAndGlyphs">150K</text>
<line x1="282.7" y1="553.5" x2="285.5" y2="553.5" stroke="#222" stroke-width="0.8"/>
<text x="282.3" y="555.98" font-size="6.9" text-anchor="end" font-weight="normal" font-style="normal" fill="#2a2a2a" textLength="14.6" lengthAdjust="spacingAndGlyphs">100K</text>
<line x1="282.7" y1="564.5" x2="285.5" y2="564.5" stroke="#222" stroke-width="0.8"/>
<text x="282.3" y="566.98" font-size="6.9" text-anchor="end" font-weight="normal" font-style="normal" fill="#2a2a2a" textLength="11" lengthAdjust="spacingAndGlyphs">50K</text>
<line x1="282.7" y1="575.7" x2="285.5" y2="575.7" stroke="#222" stroke-width="0.8"/>
<text x="282.3" y="578.18" font-size="6.9" text-anchor="end" font-weight="normal" font-style="normal" fill="#2a2a2a">0</text>
<line x1="284.1" y1="521.3" x2="285.5" y2="521.3" stroke="#333" stroke-width="0.5"/>
<line x1="284.1" y1="523.5" x2="285.5" y2="523.5" stroke="#333" stroke-width="0.5"/>
<line x1="284.1" y1="525.7" x2="285.5" y2="525.7" stroke="#333" stroke-width="0.5"/>
<line x1="284.1" y1="527.9" x2="285.5" y2="527.9" stroke="#333" stroke-width="0.5"/>
<line x1="284.1" y1="530.1" x2="285.5" y2="530.1" stroke="#333" stroke-width="0.5"/>
<line x1="284.1" y1="532.3" x2="285.5" y2="532.3" stroke="#333" stroke-width="0.5"/>
<line x1="284.1" y1="534.5" x2="285.5" y2="534.5" stroke="#333" stroke-width="0.5"/>
<line x1="284.1" y1="536.7" x2="285.5" y2="536.7" stroke="#333" stroke-width="0.5"/>
<line x1="284.1" y1="538.9" x2="285.5" y2="538.9" stroke="#333" stroke-width="0.5"/>
<line x1="284.1" y1="541.1" x2="285.5" y2="541.1" stroke="#333" stroke-width="0.5"/>
<line x1="284.1" y1="543.3" x2="285.5" y2="543.3" stroke="#333" stroke-width="0.5"/>
<line x1="284.1" y1="545.5" x2="285.5" y2="545.5" stroke="#333" stroke-width="0.5"/>
<line x1="284.1" y1="547.7" x2="285.5" y2="547.7" stroke="#333" stroke-width="0.5"/>
<line x1="284.1" y1="549.9" x2="285.5" y2="549.9" stroke="#333" stroke-width="0.5"/>
<line x1="284.1" y1="552.1" x2="285.5" y2="552.1" stroke="#333" stroke-width="0.5"/>
<line x1="284.1" y1="554.3" x2="285.5" y2="554.3" stroke="#333" stroke-width="0.5"/>
<line x1="284.1" y1="556.5" x2="285.5" y2="556.5" stroke="#333" stroke-width="0.5"/>
<line x1="284.1" y1="558.7" x2="285.5" y2="558.7" stroke="#333" stroke-width="0.5"/>
<line x1="284.1" y1="560.9" x2="285.5" y2="560.9" stroke="#333" stroke-width="0.5"/>
<line x1="284.1" y1="563.1" x2="285.5" y2="563.1" stroke="#333" stroke-width="0.5"/>
<line x1="284.1" y1="565.3" x2="285.5" y2="565.3" stroke="#333" stroke-width="0.5"/>
<line x1="284.1" y1="567.5" x2="285.5" y2="567.5" stroke="#333" stroke-width="0.5"/>
<line x1="284.1" y1="569.7" x2="285.5" y2="569.7" stroke="#333" stroke-width="0.5"/>
<line x1="284.1" y1="571.9" x2="285.5" y2="571.9" stroke="#333" stroke-width="0.5"/>
<line x1="284.1" y1="574.1" x2="285.5" y2="574.1" stroke="#333" stroke-width="0.5"/>
<line x1="286.2" y1="576.7" x2="286.2" y2="579.3000000000001" stroke="#222" stroke-width="0.8"/>
<line x1="298.8" y1="576.7" x2="298.8" y2="579.3000000000001" stroke="#222" stroke-width="0.8"/>
<line x1="308.4" y1="576.7" x2="308.4" y2="579.3000000000001" stroke="#222" stroke-width="0.8"/>
<line x1="324.7" y1="576.7" x2="324.7" y2="579.3000000000001" stroke="#222" stroke-width="0.8"/>
<line x1="338" y1="576.7" x2="338" y2="579.3000000000001" stroke="#222" stroke-width="0.8"/>
<text x="280.50" y="585.8" font-size="7" fill="#2a2a2a" textLength="12.6" lengthAdjust="spacingAndGlyphs">−10<tspan font-size="4.6" dy="-2.6">3</tspan></text>
<text x="298.8" y="585.58" font-size="6.9" text-anchor="middle" font-weight="normal" font-style="normal" fill="#2a2a2a">0</text>
<text x="304.80" y="585.8" font-size="7" fill="#2a2a2a" textLength="8.6" lengthAdjust="spacingAndGlyphs">10<tspan font-size="4.6" dy="-2.6">3</tspan></text>
<text x="321.10" y="585.8" font-size="7" fill="#2a2a2a" textLength="8.6" lengthAdjust="spacingAndGlyphs">10<tspan font-size="4.6" dy="-2.6">4</tspan></text>
<text x="334.40" y="585.8" font-size="7" fill="#2a2a2a" textLength="8.6" lengthAdjust="spacingAndGlyphs">10<tspan font-size="4.6" dy="-2.6">5</tspan></text>
<line x1="287.5" y1="576.7" x2="287.5" y2="578.0" stroke="#333" stroke-width="0.5"/>
<line x1="289.6" y1="576.7" x2="289.6" y2="578.0" stroke="#333" stroke-width="0.5"/>
<line x1="291.7" y1="576.7" x2="291.7" y2="578.0" stroke="#333" stroke-width="0.5"/>
<line x1="293.8" y1="576.7" x2="293.8" y2="578.0" stroke="#333" stroke-width="0.5"/>
<line x1="295.9" y1="576.7" x2="295.9" y2="578.0" stroke="#333" stroke-width="0.5"/>
<line x1="298.0" y1="576.7" x2="298.0" y2="578.0" stroke="#333" stroke-width="0.5"/>
<line x1="300.1" y1="576.7" x2="300.1" y2="578.0" stroke="#333" stroke-width="0.5"/>
<line x1="302.2" y1="576.7" x2="302.2" y2="578.0" stroke="#333" stroke-width="0.5"/>
<line x1="304.3" y1="576.7" x2="304.3" y2="578.0" stroke="#333" stroke-width="0.5"/>
<line x1="306.4" y1="576.7" x2="306.4" y2="578.0" stroke="#333" stroke-width="0.5"/>
<line x1="308.5" y1="576.7" x2="308.5" y2="578.0" stroke="#333" stroke-width="0.5"/>
<line x1="310.6" y1="576.7" x2="310.6" y2="578.0" stroke="#333" stroke-width="0.5"/>
<line x1="312.7" y1="576.7" x2="312.7" y2="578.0" stroke="#333" stroke-width="0.5"/>
<line x1="314.8" y1="576.7" x2="314.8" y2="578.0" stroke="#333" stroke-width="0.5"/>
<line x1="316.9" y1="576.7" x2="316.9" y2="578.0" stroke="#333" stroke-width="0.5"/>
<line x1="319.0" y1="576.7" x2="319.0" y2="578.0" stroke="#333" stroke-width="0.5"/>
<line x1="321.1" y1="576.7" x2="321.1" y2="578.0" stroke="#333" stroke-width="0.5"/>
<line x1="323.2" y1="576.7" x2="323.2" y2="578.0" stroke="#333" stroke-width="0.5"/>
<line x1="325.3" y1="576.7" x2="325.3" y2="578.0" stroke="#333" stroke-width="0.5"/>
<line x1="327.4" y1="576.7" x2="327.4" y2="578.0" stroke="#333" stroke-width="0.5"/>
<line x1="329.5" y1="576.7" x2="329.5" y2="578.0" stroke="#333" stroke-width="0.5"/>
<line x1="331.6" y1="576.7" x2="331.6" y2="578.0" stroke="#333" stroke-width="0.5"/>
<line x1="333.7" y1="576.7" x2="333.7" y2="578.0" stroke="#333" stroke-width="0.5"/>
<line x1="335.8" y1="576.7" x2="335.8" y2="578.0" stroke="#333" stroke-width="0.5"/>
<line x1="337.9" y1="576.7" x2="337.9" y2="578.0" stroke="#333" stroke-width="0.5"/>
<line x1="340.0" y1="576.7" x2="340.0" y2="578.0" stroke="#333" stroke-width="0.5"/>
<line x1="342.1" y1="576.7" x2="342.1" y2="578.0" stroke="#333" stroke-width="0.5"/>
<line x1="344.2" y1="576.7" x2="344.2" y2="578.0" stroke="#333" stroke-width="0.5"/>
<rect x="285.5" y="518.1" width="59.3" height="58.6" fill="none" stroke="#161616" stroke-width="1.5"/>
<path d="M418,541.2 H397.9 V574.6 H418" fill="none" stroke="#c4c4c4" stroke-width="0.9"/><path d="M418,541.2 V574.6" stroke="#7a7a7a" stroke-width="1"/>
<text x="394.20" y="526.4" font-size="8.2" text-anchor="middle" fill="#222" textLength="39.2" lengthAdjust="spacingAndGlyphs">Sdc2<tspan font-size="5" dy="-3.3">−</tspan><tspan dy="3.3"> HSCs</tspan></text>
<text x="415.1" y="548.35" font-size="8.2" text-anchor="middle" font-weight="normal" font-style="normal" fill="#222" textLength="14.2" lengthAdjust="spacingAndGlyphs">60%</text>
<line x1="362.9" y1="521.3" x2="365.7" y2="521.3" stroke="#222" stroke-width="0.8"/>
<text x="362.5" y="523.78" font-size="6.9" text-anchor="end" font-weight="normal" font-style="normal" fill="#2a2a2a" textLength="14.6" lengthAdjust="spacingAndGlyphs">250K</text>
<line x1="362.9" y1="532.3" x2="365.7" y2="532.3" stroke="#222" stroke-width="0.8"/>
<text x="362.5" y="534.78" font-size="6.9" text-anchor="end" font-weight="normal" font-style="normal" fill="#2a2a2a" textLength="14.6" lengthAdjust="spacingAndGlyphs">200K</text>
<line x1="362.9" y1="542.9" x2="365.7" y2="542.9" stroke="#222" stroke-width="0.8"/>
<text x="362.5" y="545.38" font-size="6.9" text-anchor="end" font-weight="normal" font-style="normal" fill="#2a2a2a" textLength="14.6" lengthAdjust="spacingAndGlyphs">150K</text>
<line x1="362.9" y1="553.5" x2="365.7" y2="553.5" stroke="#222" stroke-width="0.8"/>
<text x="362.5" y="555.98" font-size="6.9" text-anchor="end" font-weight="normal" font-style="normal" fill="#2a2a2a" textLength="14.6" lengthAdjust="spacingAndGlyphs">100K</text>
<line x1="362.9" y1="564.5" x2="365.7" y2="564.5" stroke="#222" stroke-width="0.8"/>
<text x="362.5" y="566.98" font-size="6.9" text-anchor="end" font-weight="normal" font-style="normal" fill="#2a2a2a" textLength="11" lengthAdjust="spacingAndGlyphs">50K</text>
<line x1="362.9" y1="575.7" x2="365.7" y2="575.7" stroke="#222" stroke-width="0.8"/>
<text x="362.5" y="578.18" font-size="6.9" text-anchor="end" font-weight="normal" font-style="normal" fill="#2a2a2a">0</text>
<line x1="364.3" y1="521.3" x2="365.7" y2="521.3" stroke="#333" stroke-width="0.5"/>
<line x1="364.3" y1="523.5" x2="365.7" y2="523.5" stroke="#333" stroke-width="0.5"/>
<line x1="364.3" y1="525.7" x2="365.7" y2="525.7" stroke="#333" stroke-width="0.5"/>
<line x1="364.3" y1="527.9" x2="365.7" y2="527.9" stroke="#333" stroke-width="0.5"/>
<line x1="364.3" y1="530.1" x2="365.7" y2="530.1" stroke="#333" stroke-width="0.5"/>
<line x1="364.3" y1="532.3" x2="365.7" y2="532.3" stroke="#333" stroke-width="0.5"/>
<line x1="364.3" y1="534.5" x2="365.7" y2="534.5" stroke="#333" stroke-width="0.5"/>
<line x1="364.3" y1="536.7" x2="365.7" y2="536.7" stroke="#333" stroke-width="0.5"/>
<line x1="364.3" y1="538.9" x2="365.7" y2="538.9" stroke="#333" stroke-width="0.5"/>
<line x1="364.3" y1="541.1" x2="365.7" y2="541.1" stroke="#333" stroke-width="0.5"/>
<line x1="364.3" y1="543.3" x2="365.7" y2="543.3" stroke="#333" stroke-width="0.5"/>
<line x1="364.3" y1="545.5" x2="365.7" y2="545.5" stroke="#333" stroke-width="0.5"/>
<line x1="364.3" y1="547.7" x2="365.7" y2="547.7" stroke="#333" stroke-width="0.5"/>
<line x1="364.3" y1="549.9" x2="365.7" y2="549.9" stroke="#333" stroke-width="0.5"/>
<line x1="364.3" y1="552.1" x2="365.7" y2="552.1" stroke="#333" stroke-width="0.5"/>
<line x1="364.3" y1="554.3" x2="365.7" y2="554.3" stroke="#333" stroke-width="0.5"/>
<line x1="364.3" y1="556.5" x2="365.7" y2="556.5" stroke="#333" stroke-width="0.5"/>
<line x1="364.3" y1="558.7" x2="365.7" y2="558.7" stroke="#333" stroke-width="0.5"/>
<line x1="364.3" y1="560.9" x2="365.7" y2="560.9" stroke="#333" stroke-width="0.5"/>
<line x1="364.3" y1="563.1" x2="365.7" y2="563.1" stroke="#333" stroke-width="0.5"/>
<line x1="364.3" y1="565.3" x2="365.7" y2="565.3" stroke="#333" stroke-width="0.5"/>
<line x1="364.3" y1="567.5" x2="365.7" y2="567.5" stroke="#333" stroke-width="0.5"/>
<line x1="364.3" y1="569.7" x2="365.7" y2="569.7" stroke="#333" stroke-width="0.5"/>
<line x1="364.3" y1="571.9" x2="365.7" y2="571.9" stroke="#333" stroke-width="0.5"/>
<line x1="364.3" y1="574.1" x2="365.7" y2="574.1" stroke="#333" stroke-width="0.5"/>
<line x1="366.2" y1="576.7" x2="366.2" y2="579.3000000000001" stroke="#222" stroke-width="0.8"/>
<line x1="378.8" y1="576.7" x2="378.8" y2="579.3000000000001" stroke="#222" stroke-width="0.8"/>
<line x1="389" y1="576.7" x2="389" y2="579.3000000000001" stroke="#222" stroke-width="0.8"/>
<line x1="405.3" y1="576.7" x2="405.3" y2="579.3000000000001" stroke="#222" stroke-width="0.8"/>
<line x1="418" y1="576.7" x2="418" y2="579.3000000000001" stroke="#222" stroke-width="0.8"/>
<text x="360.50" y="585.8" font-size="7" fill="#2a2a2a" textLength="12.6" lengthAdjust="spacingAndGlyphs">−10<tspan font-size="4.6" dy="-2.6">3</tspan></text>
<text x="378.8" y="585.58" font-size="6.9" text-anchor="middle" font-weight="normal" font-style="normal" fill="#2a2a2a">0</text>
<text x="385.40" y="585.8" font-size="7" fill="#2a2a2a" textLength="8.6" lengthAdjust="spacingAndGlyphs">10<tspan font-size="4.6" dy="-2.6">3</tspan></text>
<text x="401.70" y="585.8" font-size="7" fill="#2a2a2a" textLength="8.6" lengthAdjust="spacingAndGlyphs">10<tspan font-size="4.6" dy="-2.6">4</tspan></text>
<text x="414.40" y="585.8" font-size="7" fill="#2a2a2a" textLength="8.6" lengthAdjust="spacingAndGlyphs">10<tspan font-size="4.6" dy="-2.6">5</tspan></text>
<line x1="367.7" y1="576.7" x2="367.7" y2="578.0" stroke="#333" stroke-width="0.5"/>
<line x1="369.8" y1="576.7" x2="369.8" y2="578.0" stroke="#333" stroke-width="0.5"/>
<line x1="371.9" y1="576.7" x2="371.9" y2="578.0" stroke="#333" stroke-width="0.5"/>
<line x1="374.0" y1="576.7" x2="374.0" y2="578.0" stroke="#333" stroke-width="0.5"/>
<line x1="376.1" y1="576.7" x2="376.1" y2="578.0" stroke="#333" stroke-width="0.5"/>
<line x1="378.2" y1="576.7" x2="378.2" y2="578.0" stroke="#333" stroke-width="0.5"/>
<line x1="380.3" y1="576.7" x2="380.3" y2="578.0" stroke="#333" stroke-width="0.5"/>
<line x1="382.4" y1="576.7" x2="382.4" y2="578.0" stroke="#333" stroke-width="0.5"/>
<line x1="384.5" y1="576.7" x2="384.5" y2="578.0" stroke="#333" stroke-width="0.5"/>
<line x1="386.6" y1="576.7" x2="386.6" y2="578.0" stroke="#333" stroke-width="0.5"/>
<line x1="388.7" y1="576.7" x2="388.7" y2="578.0" stroke="#333" stroke-width="0.5"/>
<line x1="390.8" y1="576.7" x2="390.8" y2="578.0" stroke="#333" stroke-width="0.5"/>
<line x1="392.9" y1="576.7" x2="392.9" y2="578.0" stroke="#333" stroke-width="0.5"/>
<line x1="395.0" y1="576.7" x2="395.0" y2="578.0" stroke="#333" stroke-width="0.5"/>
<line x1="397.1" y1="576.7" x2="397.1" y2="578.0" stroke="#333" stroke-width="0.5"/>
<line x1="399.2" y1="576.7" x2="399.2" y2="578.0" stroke="#333" stroke-width="0.5"/>
<line x1="401.3" y1="576.7" x2="401.3" y2="578.0" stroke="#333" stroke-width="0.5"/>
<line x1="403.4" y1="576.7" x2="403.4" y2="578.0" stroke="#333" stroke-width="0.5"/>
<line x1="405.5" y1="576.7" x2="405.5" y2="578.0" stroke="#333" stroke-width="0.5"/>
<line x1="407.6" y1="576.7" x2="407.6" y2="578.0" stroke="#333" stroke-width="0.5"/>
<line x1="409.7" y1="576.7" x2="409.7" y2="578.0" stroke="#333" stroke-width="0.5"/>
<line x1="411.8" y1="576.7" x2="411.8" y2="578.0" stroke="#333" stroke-width="0.5"/>
<line x1="413.9" y1="576.7" x2="413.9" y2="578.0" stroke="#333" stroke-width="0.5"/>
<line x1="416.0" y1="576.7" x2="416.0" y2="578.0" stroke="#333" stroke-width="0.5"/>
<line x1="418.1" y1="576.7" x2="418.1" y2="578.0" stroke="#333" stroke-width="0.5"/>
<line x1="420.2" y1="576.7" x2="420.2" y2="578.0" stroke="#333" stroke-width="0.5"/>
<line x1="422.3" y1="576.7" x2="422.3" y2="578.0" stroke="#333" stroke-width="0.5"/>
<line x1="424.4" y1="576.7" x2="424.4" y2="578.0" stroke="#333" stroke-width="0.5"/>
<rect x="365.7" y="518.1" width="59.3" height="58.6" fill="none" stroke="#161616" stroke-width="1.5"/>
<path d="M499.3,541.2 H478.8 V574.6 H499.3" fill="none" stroke="#c4c4c4" stroke-width="0.9"/><path d="M499.3,541.2 V574.6" stroke="#7a7a7a" stroke-width="1"/>
<text x="475.90" y="526.4" font-size="8.2" text-anchor="middle" fill="#222" textLength="39.6" lengthAdjust="spacingAndGlyphs">Sdc2<tspan font-size="5" dy="-3.3">+</tspan><tspan dy="3.3"> HSCs</tspan></text>
<text x="494.29999999999995" y="548.35" font-size="8.2" text-anchor="middle" font-weight="normal" font-style="normal" fill="#222" textLength="14.2" lengthAdjust="spacingAndGlyphs">66%</text>
<line x1="443.59999999999997" y1="521.3" x2="446.4" y2="521.3" stroke="#222" stroke-width="0.8"/>
<text x="443.2" y="523.78" font-size="6.9" text-anchor="end" font-weight="normal" font-style="normal" fill="#2a2a2a" textLength="14.6" lengthAdjust="spacingAndGlyphs">250K</text>
<line x1="443.59999999999997" y1="532.3" x2="446.4" y2="532.3" stroke="#222" stroke-width="0.8"/>
<text x="443.2" y="534.78" font-size="6.9" text-anchor="end" font-weight="normal" font-style="normal" fill="#2a2a2a" textLength="14.6" lengthAdjust="spacingAndGlyphs">200K</text>
<line x1="443.59999999999997" y1="542.9" x2="446.4" y2="542.9" stroke="#222" stroke-width="0.8"/>
<text x="443.2" y="545.38" font-size="6.9" text-anchor="end" font-weight="normal" font-style="normal" fill="#2a2a2a" textLength="14.6" lengthAdjust="spacingAndGlyphs">150K</text>
<line x1="443.59999999999997" y1="553.5" x2="446.4" y2="553.5" stroke="#222" stroke-width="0.8"/>
<text x="443.2" y="555.98" font-size="6.9" text-anchor="end" font-weight="normal" font-style="normal" fill="#2a2a2a" textLength="14.6" lengthAdjust="spacingAndGlyphs">100K</text>
<line x1="443.59999999999997" y1="564.5" x2="446.4" y2="564.5" stroke="#222" stroke-width="0.8"/>
<text x="443.2" y="566.98" font-size="6.9" text-anchor="end" font-weight="normal" font-style="normal" fill="#2a2a2a" textLength="11" lengthAdjust="spacingAndGlyphs">50K</text>
<line x1="443.59999999999997" y1="575.7" x2="446.4" y2="575.7" stroke="#222" stroke-width="0.8"/>
<text x="443.2" y="578.18" font-size="6.9" text-anchor="end" font-weight="normal" font-style="normal" fill="#2a2a2a">0</text>
<line x1="445.0" y1="521.3" x2="446.4" y2="521.3" stroke="#333" stroke-width="0.5"/>
<line x1="445.0" y1="523.5" x2="446.4" y2="523.5" stroke="#333" stroke-width="0.5"/>
<line x1="445.0" y1="525.7" x2="446.4" y2="525.7" stroke="#333" stroke-width="0.5"/>
<line x1="445.0" y1="527.9" x2="446.4" y2="527.9" stroke="#333" stroke-width="0.5"/>
<line x1="445.0" y1="530.1" x2="446.4" y2="530.1" stroke="#333" stroke-width="0.5"/>
<line x1="445.0" y1="532.3" x2="446.4" y2="532.3" stroke="#333" stroke-width="0.5"/>
<line x1="445.0" y1="534.5" x2="446.4" y2="534.5" stroke="#333" stroke-width="0.5"/>
<line x1="445.0" y1="536.7" x2="446.4" y2="536.7" stroke="#333" stroke-width="0.5"/>
<line x1="445.0" y1="538.9" x2="446.4" y2="538.9" stroke="#333" stroke-width="0.5"/>
<line x1="445.0" y1="541.1" x2="446.4" y2="541.1" stroke="#333" stroke-width="0.5"/>
<line x1="445.0" y1="543.3" x2="446.4" y2="543.3" stroke="#333" stroke-width="0.5"/>
<line x1="445.0" y1="545.5" x2="446.4" y2="545.5" stroke="#333" stroke-width="0.5"/>
<line x1="445.0" y1="547.7" x2="446.4" y2="547.7" stroke="#333" stroke-width="0.5"/>
<line x1="445.0" y1="549.9" x2="446.4" y2="549.9" stroke="#333" stroke-width="0.5"/>
<line x1="445.0" y1="552.1" x2="446.4" y2="552.1" stroke="#333" stroke-width="0.5"/>
<line x1="445.0" y1="554.3" x2="446.4" y2="554.3" stroke="#333" stroke-width="0.5"/>
<line x1="445.0" y1="556.5" x2="446.4" y2="556.5" stroke="#333" stroke-width="0.5"/>
<line x1="445.0" y1="558.7" x2="446.4" y2="558.7" stroke="#333" stroke-width="0.5"/>
<line x1="445.0" y1="560.9" x2="446.4" y2="560.9" stroke="#333" stroke-width="0.5"/>
<line x1="445.0" y1="563.1" x2="446.4" y2="563.1" stroke="#333" stroke-width="0.5"/>
<line x1="445.0" y1="565.3" x2="446.4" y2="565.3" stroke="#333" stroke-width="0.5"/>
<line x1="445.0" y1="567.5" x2="446.4" y2="567.5" stroke="#333" stroke-width="0.5"/>
<line x1="445.0" y1="569.7" x2="446.4" y2="569.7" stroke="#333" stroke-width="0.5"/>
<line x1="445.0" y1="571.9" x2="446.4" y2="571.9" stroke="#333" stroke-width="0.5"/>
<line x1="445.0" y1="574.1" x2="446.4" y2="574.1" stroke="#333" stroke-width="0.5"/>
<line x1="449.1" y1="576.7" x2="449.1" y2="579.3000000000001" stroke="#222" stroke-width="0.8"/>
<line x1="460.8" y1="576.7" x2="460.8" y2="579.3000000000001" stroke="#222" stroke-width="0.8"/>
<line x1="471.3" y1="576.7" x2="471.3" y2="579.3000000000001" stroke="#222" stroke-width="0.8"/>
<line x1="487.2" y1="576.7" x2="487.2" y2="579.3000000000001" stroke="#222" stroke-width="0.8"/>
<line x1="501" y1="576.7" x2="501" y2="579.3000000000001" stroke="#222" stroke-width="0.8"/>
<text x="443.40" y="585.8" font-size="7" fill="#2a2a2a" textLength="12.6" lengthAdjust="spacingAndGlyphs">−10<tspan font-size="4.6" dy="-2.6">3</tspan></text>
<text x="460.8" y="585.58" font-size="6.9" text-anchor="middle" font-weight="normal" font-style="normal" fill="#2a2a2a">0</text>
<text x="467.70" y="585.8" font-size="7" fill="#2a2a2a" textLength="8.6" lengthAdjust="spacingAndGlyphs">10<tspan font-size="4.6" dy="-2.6">3</tspan></text>
<text x="483.60" y="585.8" font-size="7" fill="#2a2a2a" textLength="8.6" lengthAdjust="spacingAndGlyphs">10<tspan font-size="4.6" dy="-2.6">4</tspan></text>
<text x="497.40" y="585.8" font-size="7" fill="#2a2a2a" textLength="8.6" lengthAdjust="spacingAndGlyphs">10<tspan font-size="4.6" dy="-2.6">5</tspan></text>
<line x1="448.4" y1="576.7" x2="448.4" y2="578.0" stroke="#333" stroke-width="0.5"/>
<line x1="450.5" y1="576.7" x2="450.5" y2="578.0" stroke="#333" stroke-width="0.5"/>
<line x1="452.6" y1="576.7" x2="452.6" y2="578.0" stroke="#333" stroke-width="0.5"/>
<line x1="454.7" y1="576.7" x2="454.7" y2="578.0" stroke="#333" stroke-width="0.5"/>
<line x1="456.8" y1="576.7" x2="456.8" y2="578.0" stroke="#333" stroke-width="0.5"/>
<line x1="458.9" y1="576.7" x2="458.9" y2="578.0" stroke="#333" stroke-width="0.5"/>
<line x1="461.0" y1="576.7" x2="461.0" y2="578.0" stroke="#333" stroke-width="0.5"/>
<line x1="463.1" y1="576.7" x2="463.1" y2="578.0" stroke="#333" stroke-width="0.5"/>
<line x1="465.2" y1="576.7" x2="465.2" y2="578.0" stroke="#333" stroke-width="0.5"/>
<line x1="467.3" y1="576.7" x2="467.3" y2="578.0" stroke="#333" stroke-width="0.5"/>
<line x1="469.4" y1="576.7" x2="469.4" y2="578.0" stroke="#333" stroke-width="0.5"/>
<line x1="471.5" y1="576.7" x2="471.5" y2="578.0" stroke="#333" stroke-width="0.5"/>
<line x1="473.6" y1="576.7" x2="473.6" y2="578.0" stroke="#333" stroke-width="0.5"/>
<line x1="475.7" y1="576.7" x2="475.7" y2="578.0" stroke="#333" stroke-width="0.5"/>
<line x1="477.8" y1="576.7" x2="477.8" y2="578.0" stroke="#333" stroke-width="0.5"/>
<line x1="479.9" y1="576.7" x2="479.9" y2="578.0" stroke="#333" stroke-width="0.5"/>
<line x1="482.0" y1="576.7" x2="482.0" y2="578.0" stroke="#333" stroke-width="0.5"/>
<line x1="484.1" y1="576.7" x2="484.1" y2="578.0" stroke="#333" stroke-width="0.5"/>
<line x1="486.2" y1="576.7" x2="486.2" y2="578.0" stroke="#333" stroke-width="0.5"/>
<line x1="488.3" y1="576.7" x2="488.3" y2="578.0" stroke="#333" stroke-width="0.5"/>
<line x1="490.4" y1="576.7" x2="490.4" y2="578.0" stroke="#333" stroke-width="0.5"/>
<line x1="492.5" y1="576.7" x2="492.5" y2="578.0" stroke="#333" stroke-width="0.5"/>
<line x1="494.6" y1="576.7" x2="494.6" y2="578.0" stroke="#333" stroke-width="0.5"/>
<line x1="496.7" y1="576.7" x2="496.7" y2="578.0" stroke="#333" stroke-width="0.5"/>
<line x1="498.8" y1="576.7" x2="498.8" y2="578.0" stroke="#333" stroke-width="0.5"/>
<line x1="500.9" y1="576.7" x2="500.9" y2="578.0" stroke="#333" stroke-width="0.5"/>
<line x1="503.0" y1="576.7" x2="503.0" y2="578.0" stroke="#333" stroke-width="0.5"/>
<line x1="505.1" y1="576.7" x2="505.1" y2="578.0" stroke="#333" stroke-width="0.5"/>
<rect x="446.4" y="518.1" width="60.5" height="58.6" fill="none" stroke="#161616" stroke-width="1.5"/>
<g filter="url(#bl)"><path d="M65.00,545.80 C66.15,545.00 69.60,543.55 71.40,543.20 C73.20,542.85 74.72,542.98 75.80,543.70 C76.88,544.42 77.47,546.35 77.90,547.50 C78.33,548.65 78.53,549.08 78.40,550.60 C78.27,552.12 77.53,554.58 77.10,556.60 C76.67,558.62 76.23,560.97 75.80,562.70 C75.37,564.43 75.37,565.85 74.50,567.00 C73.63,568.15 71.83,569.10 70.60,569.60 C69.37,570.10 68.40,570.43 67.10,570.00 C65.80,569.57 63.95,568.22 62.80,567.00 C61.65,565.78 60.57,564.43 60.20,562.70 C59.83,560.97 60.02,558.33 60.60,556.60 C61.18,554.87 63.05,553.73 63.70,552.30 C64.35,550.87 64.28,549.08 64.50,548.00 C64.72,546.92 63.85,546.60 65.00,545.80 Z" fill="#1a2f9e"/><path d="M65.63,546.92 C66.62,546.20 69.59,544.89 71.13,544.58 C72.68,544.27 73.99,544.39 74.92,545.03 C75.85,545.68 76.35,547.42 76.72,548.45 C77.10,549.49 77.27,549.88 77.15,551.24 C77.04,552.61 76.41,554.83 76.04,556.64 C75.66,558.45 75.29,560.57 74.92,562.13 C74.55,563.69 74.55,564.97 73.80,566.00 C73.05,567.03 71.51,567.89 70.45,568.34 C69.39,568.79 68.55,569.09 67.44,568.70 C66.32,568.31 64.73,567.10 63.74,566.00 C62.75,564.90 61.82,563.69 61.50,562.13 C61.19,560.57 61.34,558.20 61.85,556.64 C62.35,555.08 63.95,554.06 64.51,552.77 C65.07,551.48 65.01,549.88 65.20,548.90 C65.39,547.92 64.64,547.64 65.63,546.92 Z" fill="#2a6ae0"/><path d="M66.76,547.82 C67.54,547.20 69.89,546.07 71.11,545.80 C72.34,545.52 73.37,545.63 74.10,546.19 C74.84,546.75 75.24,548.25 75.53,549.15 C75.83,550.05 75.96,550.38 75.87,551.57 C75.78,552.75 75.28,554.68 74.99,556.25 C74.69,557.82 74.40,559.65 74.10,561.01 C73.81,562.36 73.81,563.46 73.22,564.36 C72.63,565.26 71.41,566.00 70.57,566.39 C69.73,566.78 69.07,567.04 68.19,566.70 C67.30,566.36 66.05,565.31 65.26,564.36 C64.48,563.41 63.75,562.36 63.50,561.01 C63.25,559.65 63.37,557.60 63.77,556.25 C64.16,554.90 65.43,554.01 65.88,552.89 C66.32,551.78 66.27,550.38 66.42,549.54 C66.57,548.69 65.98,548.45 66.76,547.82 Z" fill="#31c4ee"/><path d="M69.08,548.92 C69.45,548.42 70.55,547.52 71.13,547.30 C71.70,547.09 72.19,547.17 72.54,547.61 C72.88,548.06 73.07,549.26 73.21,549.97 C73.35,550.68 73.41,550.95 73.37,551.89 C73.33,552.83 73.09,554.36 72.95,555.61 C72.81,556.86 72.67,558.32 72.54,559.39 C72.40,560.47 72.40,561.35 72.12,562.06 C71.84,562.77 71.27,563.36 70.87,563.67 C70.48,563.98 70.17,564.19 69.75,563.92 C69.34,563.65 68.74,562.81 68.38,562.06 C68.01,561.31 67.66,560.47 67.54,559.39 C67.43,558.32 67.49,556.69 67.67,555.61 C67.86,554.54 68.46,553.83 68.66,552.95 C68.87,552.06 68.85,550.95 68.92,550.28 C68.99,549.61 68.71,549.41 69.08,548.92 Z" fill="#3cb54a"/><ellipse cx="68.4" cy="559.8" rx="4.03" ry="4.88" fill="#3cb54a"/><ellipse cx="68.4" cy="559.8" rx="3.10" ry="3.90" fill="#e9e52a"/><ellipse cx="68.4" cy="559.8" rx="2.23" ry="2.92" fill="#f28c1c"/><ellipse cx="68.4" cy="559.8" rx="1.61" ry="2.26" fill="#e8141a"/></g>
<g filter="url(#bl)"><path d="M145.63,546.02 C146.64,545.24 149.68,543.82 151.26,543.48 C152.84,543.13 154.18,543.26 155.13,543.97 C156.09,544.67 156.60,546.56 156.98,547.69 C157.36,548.82 157.54,549.24 157.42,550.73 C157.30,552.21 156.66,554.63 156.28,556.61 C155.89,558.58 155.51,560.89 155.13,562.59 C154.75,564.28 154.75,565.67 153.99,566.80 C153.23,567.93 151.64,568.86 150.56,569.35 C149.47,569.84 148.62,570.16 147.48,569.74 C146.33,569.32 144.70,567.99 143.69,566.80 C142.68,565.61 141.73,564.28 141.40,562.59 C141.08,560.89 141.24,558.31 141.76,556.61 C142.27,554.91 143.91,553.80 144.48,552.39 C145.06,550.99 145.00,549.24 145.19,548.18 C145.38,547.12 144.62,546.81 145.63,546.02 Z" fill="#1a2f9e"/><path d="M146.18,547.12 C147.05,546.42 149.67,545.14 151.03,544.83 C152.39,544.52 153.54,544.64 154.36,545.27 C155.18,545.90 155.62,547.61 155.95,548.62 C156.27,549.64 156.43,550.02 156.33,551.36 C156.22,552.69 155.67,554.87 155.34,556.65 C155.01,558.43 154.69,560.50 154.36,562.03 C154.03,563.56 154.03,564.81 153.37,565.82 C152.72,566.83 151.36,567.67 150.42,568.11 C149.49,568.55 148.76,568.85 147.77,568.47 C146.79,568.08 145.39,566.89 144.52,565.82 C143.65,564.75 142.83,563.56 142.55,562.03 C142.27,560.50 142.41,558.18 142.85,556.65 C143.30,555.12 144.71,554.12 145.20,552.85 C145.69,551.59 145.64,550.02 145.81,549.06 C145.97,548.11 145.31,547.83 146.18,547.12 Z" fill="#2a6ae0"/><path d="M147.22,548.00 C147.91,547.39 149.97,546.28 151.05,546.01 C152.13,545.74 153.03,545.85 153.68,546.39 C154.33,546.94 154.68,548.42 154.94,549.30 C155.20,550.18 155.32,550.51 155.24,551.67 C155.16,552.83 154.72,554.71 154.46,556.25 C154.20,557.80 153.94,559.59 153.68,560.92 C153.42,562.24 153.42,563.32 152.90,564.20 C152.39,565.08 151.31,565.81 150.57,566.19 C149.83,566.57 149.25,566.83 148.48,566.50 C147.70,566.17 146.59,565.13 145.90,564.20 C145.21,563.27 144.57,562.24 144.35,560.92 C144.13,559.59 144.24,557.58 144.59,556.25 C144.94,554.93 146.05,554.06 146.44,552.97 C146.83,551.87 146.79,550.51 146.92,549.68 C147.05,548.85 146.53,548.61 147.22,548.00 Z" fill="#31c4ee"/><path d="M149.35,549.05 C149.67,548.57 150.64,547.69 151.15,547.48 C151.66,547.26 152.09,547.34 152.39,547.78 C152.70,548.21 152.86,549.39 152.98,550.09 C153.10,550.79 153.16,551.05 153.12,551.97 C153.08,552.89 152.88,554.39 152.76,555.62 C152.63,556.84 152.51,558.27 152.39,559.32 C152.27,560.38 152.27,561.24 152.02,561.94 C151.78,562.63 151.27,563.21 150.93,563.52 C150.58,563.82 150.31,564.02 149.94,563.76 C149.57,563.50 149.05,562.68 148.73,561.94 C148.41,561.20 148.10,560.38 148.00,559.32 C147.89,558.27 147.95,556.67 148.11,555.62 C148.27,554.56 148.80,553.88 148.98,553.00 C149.17,552.13 149.15,551.05 149.21,550.39 C149.27,549.73 149.03,549.54 149.35,549.05 Z" fill="#3cb54a"/><ellipse cx="148.7" cy="559.8" rx="3.77" ry="4.62" fill="#3cb54a"/><ellipse cx="148.7" cy="559.8" rx="2.90" ry="3.70" fill="#e9e52a"/><ellipse cx="148.7" cy="559.8" rx="2.09" ry="2.78" fill="#f28c1c"/><ellipse cx="148.7" cy="559.8" rx="1.51" ry="2.15" fill="#e8141a"/></g>
<g filter="url(#bl)"><path d="M233.60,543.20 C234.38,542.78 237.10,543.27 237.90,543.70 C238.70,544.13 238.45,545.20 238.40,545.80 C238.35,546.40 237.25,546.50 237.60,547.30 C237.95,548.10 240.30,549.62 240.50,550.60 C240.70,551.58 239.23,552.05 238.80,553.20 C238.37,554.35 238.33,556.07 237.90,557.50 C237.47,558.93 236.98,560.57 236.20,561.80 C235.42,563.03 233.92,563.60 233.20,564.90 C232.48,566.20 232.55,568.60 231.90,569.60 C231.25,570.60 230.10,570.97 229.30,570.90 C228.50,570.83 227.53,570.42 227.10,569.20 C226.67,567.98 226.48,565.40 226.70,563.60 C226.92,561.80 227.83,560.00 228.40,558.40 C228.97,556.80 229.47,555.45 230.10,554.00 C230.73,552.55 231.68,551.00 232.20,549.70 C232.72,548.40 232.97,547.28 233.20,546.20 C233.43,545.12 232.82,543.62 233.60,543.20 Z" fill="#1a2f9e"/><path d="M233.48,544.58 C234.11,544.21 236.28,544.64 236.92,545.03 C237.56,545.42 237.36,546.38 237.32,546.92 C237.28,547.46 236.40,547.55 236.68,548.27 C236.96,548.99 238.84,550.36 239.00,551.24 C239.16,552.12 237.99,552.55 237.64,553.58 C237.29,554.62 237.27,556.16 236.92,557.45 C236.57,558.74 236.19,560.21 235.56,561.32 C234.93,562.43 233.73,562.94 233.16,564.11 C232.59,565.28 232.64,567.44 232.12,568.34 C231.60,569.24 230.68,569.57 230.04,569.51 C229.40,569.45 228.63,569.08 228.28,567.98 C227.93,566.88 227.79,564.56 227.96,562.94 C228.13,561.32 228.87,559.70 229.32,558.26 C229.77,556.82 230.17,555.60 230.68,554.30 C231.19,553.00 231.95,551.60 232.36,550.43 C232.77,549.26 232.97,548.26 233.16,547.28 C233.35,546.31 232.85,544.96 233.48,544.58 Z" fill="#2a6ae0"/><path d="M233.56,545.86 C234.07,545.53 235.80,545.91 236.32,546.26 C236.83,546.61 236.67,547.46 236.64,547.94 C236.60,548.42 235.90,548.50 236.12,549.14 C236.35,549.78 237.85,550.99 237.98,551.78 C238.11,552.57 237.17,552.94 236.89,553.86 C236.61,554.78 236.59,556.15 236.32,557.30 C236.04,558.45 235.73,559.75 235.23,560.74 C234.73,561.73 233.77,562.18 233.31,563.22 C232.85,564.26 232.89,566.18 232.48,566.98 C232.06,567.78 231.32,568.07 230.81,568.02 C230.30,567.97 229.68,567.63 229.40,566.66 C229.13,565.69 229.01,563.62 229.15,562.18 C229.29,560.74 229.87,559.30 230.24,558.02 C230.60,556.74 230.92,555.66 231.32,554.50 C231.73,553.34 232.34,552.10 232.67,551.06 C233.00,550.02 233.16,549.13 233.31,548.26 C233.46,547.39 233.06,546.19 233.56,545.86 Z" fill="#31c4ee"/><path d="M234.19,547.92 C234.46,547.67 235.38,547.96 235.66,548.22 C235.93,548.48 235.84,549.12 235.83,549.48 C235.81,549.84 235.44,549.90 235.55,550.38 C235.67,550.86 236.47,551.77 236.54,552.36 C236.61,552.95 236.11,553.23 235.96,553.92 C235.81,554.61 235.80,555.64 235.66,556.50 C235.51,557.36 235.34,558.34 235.08,559.08 C234.81,559.82 234.30,560.16 234.06,560.94 C233.81,561.72 233.84,563.16 233.62,563.76 C233.40,564.36 233.00,564.58 232.73,564.54 C232.46,564.50 232.13,564.25 231.98,563.52 C231.84,562.79 231.77,561.24 231.85,560.16 C231.92,559.08 232.23,558.00 232.43,557.04 C232.62,556.08 232.79,555.27 233.00,554.40 C233.22,553.53 233.54,552.60 233.72,551.82 C233.89,551.04 233.98,550.37 234.06,549.72 C234.14,549.07 233.93,548.17 234.19,547.92 Z" fill="#3cb54a"/><ellipse cx="229.6" cy="548.4" rx="1.4" ry="3.3" transform="rotate(-35 229.6 548.4)" fill="#1a2f9e"/><ellipse cx="232.3" cy="557.9" rx="2.99" ry="3.50" fill="#3cb54a"/><ellipse cx="232.3" cy="557.9" rx="2.30" ry="2.80" fill="#e9e52a"/><ellipse cx="232.3" cy="557.9" rx="1.66" ry="2.10" fill="#f28c1c"/><ellipse cx="232.3" cy="557.9" rx="1.20" ry="1.62" fill="#e8141a"/></g>
<g filter="url(#bl)"><ellipse cx="237.9" cy="566.2" rx="1.9" ry="1.2" transform="rotate(-20 237.9 566.2)" fill="#1a2f9e"/></g>
<g filter="url(#bl)"><path d="M313.40,544.50 C314.05,543.85 316.20,543.33 317.80,543.20 C319.40,543.07 321.57,543.20 323.00,543.70 C324.43,544.20 325.68,545.27 326.40,546.20 C327.12,547.13 327.43,548.28 327.30,549.30 C327.17,550.32 326.03,551.08 325.60,552.30 C325.17,553.52 325.00,555.02 324.70,556.60 C324.40,558.18 324.38,560.35 323.80,561.80 C323.22,563.25 322.35,564.28 321.20,565.30 C320.05,566.32 318.33,567.68 316.90,567.90 C315.47,568.12 313.97,567.47 312.60,566.60 C311.23,565.73 309.35,564.07 308.70,562.70 C308.05,561.33 308.05,559.63 308.70,558.40 C309.35,557.17 311.73,556.47 312.60,555.30 C313.47,554.13 313.68,552.77 313.90,551.40 C314.12,550.03 313.98,548.25 313.90,547.10 C313.82,545.95 312.75,545.15 313.40,544.50 Z" fill="#1a2f9e"/><path d="M314.13,545.65 C314.69,545.06 316.54,544.60 317.91,544.48 C319.29,544.36 321.15,544.48 322.38,544.93 C323.62,545.38 324.69,546.34 325.31,547.18 C325.92,548.02 326.20,549.05 326.08,549.97 C325.97,550.88 324.99,551.57 324.62,552.67 C324.25,553.76 324.10,555.12 323.85,556.54 C323.59,557.96 323.57,559.91 323.07,561.22 C322.57,562.52 321.83,563.45 320.84,564.37 C319.85,565.29 318.37,566.52 317.14,566.71 C315.91,566.90 314.62,566.32 313.44,565.54 C312.26,564.76 310.65,563.26 310.09,562.03 C309.53,560.80 309.53,559.27 310.09,558.16 C310.65,557.05 312.69,556.42 313.44,555.37 C314.19,554.32 314.37,553.09 314.56,551.86 C314.74,550.63 314.63,549.02 314.56,547.99 C314.49,546.96 313.57,546.24 314.13,545.65 Z" fill="#2a6ae0"/><path d="M315.85,546.30 C316.28,545.81 317.70,545.41 318.75,545.31 C319.81,545.21 321.24,545.31 322.18,545.69 C323.13,546.07 323.95,546.88 324.43,547.59 C324.90,548.30 325.11,549.18 325.02,549.95 C324.93,550.72 324.19,551.30 323.90,552.23 C323.61,553.15 323.50,554.29 323.31,555.50 C323.11,556.70 323.10,558.35 322.71,559.45 C322.33,560.55 321.76,561.34 321.00,562.11 C320.24,562.88 319.10,563.92 318.16,564.08 C317.21,564.25 316.22,563.75 315.32,563.10 C314.42,562.44 313.18,561.17 312.75,560.13 C312.32,559.09 312.32,557.80 312.75,556.86 C313.18,555.93 314.75,555.39 315.32,554.51 C315.89,553.62 316.04,552.58 316.18,551.54 C316.32,550.51 316.23,549.15 316.18,548.28 C316.12,547.40 315.42,546.79 315.85,546.30 Z" fill="#31c4ee"/><path d="M318.09,547.90 C318.29,547.51 318.93,547.20 319.41,547.12 C319.89,547.04 320.54,547.12 320.97,547.42 C321.40,547.72 321.78,548.36 321.99,548.92 C322.20,549.48 322.30,550.17 322.26,550.78 C322.22,551.39 321.88,551.85 321.75,552.58 C321.62,553.31 321.57,554.21 321.48,555.16 C321.39,556.11 321.38,557.41 321.21,558.28 C321.03,559.15 320.77,559.77 320.43,560.38 C320.09,560.99 319.57,561.81 319.14,561.94 C318.71,562.07 318.26,561.68 317.85,561.16 C317.44,560.64 316.88,559.64 316.68,558.82 C316.49,558.00 316.49,556.98 316.68,556.24 C316.88,555.50 317.59,555.08 317.85,554.38 C318.11,553.68 318.18,552.86 318.24,552.04 C318.31,551.22 318.26,550.15 318.24,549.46 C318.22,548.77 317.90,548.29 318.09,547.90 Z" fill="#3cb54a"/><ellipse cx="317.3" cy="560.5" rx="3.77" ry="4.38" fill="#3cb54a"/><ellipse cx="317.3" cy="560.5" rx="2.90" ry="3.50" fill="#e9e52a"/><ellipse cx="317.3" cy="560.5" rx="2.09" ry="2.62" fill="#f28c1c"/><ellipse cx="317.3" cy="560.5" rx="1.51" ry="2.03" fill="#e8141a"/></g>
<g filter="url(#bl)"><path d="M393.80,544.50 C394.45,543.85 396.60,543.33 398.20,543.20 C399.80,543.07 401.97,543.20 403.40,543.70 C404.83,544.20 406.08,545.27 406.80,546.20 C407.52,547.13 407.83,548.28 407.70,549.30 C407.57,550.32 406.43,551.08 406.00,552.30 C405.57,553.52 405.40,555.02 405.10,556.60 C404.80,558.18 404.78,560.35 404.20,561.80 C403.62,563.25 402.75,564.28 401.60,565.30 C400.45,566.32 398.73,567.68 397.30,567.90 C395.87,568.12 394.37,567.47 393.00,566.60 C391.63,565.73 389.75,564.07 389.10,562.70 C388.45,561.33 388.45,559.63 389.10,558.40 C389.75,557.17 392.13,556.47 393.00,555.30 C393.87,554.13 394.08,552.77 394.30,551.40 C394.52,550.03 394.38,548.25 394.30,547.10 C394.22,545.95 393.15,545.15 393.80,544.50 Z" fill="#1a2f9e"/><path d="M394.53,545.65 C395.09,545.06 396.94,544.60 398.31,544.48 C399.69,544.36 401.55,544.48 402.78,544.93 C404.02,545.38 405.09,546.34 405.71,547.18 C406.32,548.02 406.60,549.05 406.48,549.97 C406.37,550.88 405.39,551.57 405.02,552.67 C404.65,553.76 404.50,555.12 404.25,556.54 C403.99,557.96 403.97,559.91 403.47,561.22 C402.97,562.52 402.23,563.45 401.24,564.37 C400.25,565.29 398.77,566.52 397.54,566.71 C396.31,566.90 395.02,566.32 393.84,565.54 C392.66,564.76 391.05,563.26 390.49,562.03 C389.93,560.80 389.93,559.27 390.49,558.16 C391.05,557.05 393.09,556.42 393.84,555.37 C394.59,554.32 394.77,553.09 394.96,551.86 C395.14,550.63 395.03,549.02 394.96,547.99 C394.89,546.96 393.97,546.24 394.53,545.65 Z" fill="#2a6ae0"/><path d="M396.25,546.30 C396.68,545.81 398.10,545.41 399.15,545.31 C400.21,545.21 401.64,545.31 402.58,545.69 C403.53,546.07 404.36,546.88 404.83,547.59 C405.30,548.30 405.51,549.18 405.42,549.95 C405.33,550.72 404.59,551.30 404.30,552.23 C404.01,553.15 403.90,554.29 403.71,555.50 C403.51,556.70 403.50,558.35 403.11,559.45 C402.73,560.55 402.16,561.34 401.40,562.11 C400.64,562.88 399.50,563.92 398.56,564.08 C397.61,564.25 396.62,563.75 395.72,563.10 C394.82,562.44 393.58,561.17 393.15,560.13 C392.72,559.09 392.72,557.80 393.15,556.86 C393.58,555.93 395.15,555.39 395.72,554.51 C396.29,553.62 396.44,552.58 396.58,551.54 C396.72,550.51 396.63,549.15 396.58,548.28 C396.52,547.40 395.82,546.79 396.25,546.30 Z" fill="#31c4ee"/><path d="M398.49,547.90 C398.69,547.51 399.33,547.20 399.81,547.12 C400.29,547.04 400.94,547.12 401.37,547.42 C401.80,547.72 402.18,548.36 402.39,548.92 C402.60,549.48 402.70,550.17 402.66,550.78 C402.62,551.39 402.28,551.85 402.15,552.58 C402.02,553.31 401.97,554.21 401.88,555.16 C401.79,556.11 401.79,557.41 401.61,558.28 C401.44,559.15 401.17,559.77 400.83,560.38 C400.49,560.99 399.97,561.81 399.54,561.94 C399.11,562.07 398.66,561.68 398.25,561.16 C397.84,560.64 397.27,559.64 397.08,558.82 C396.88,558.00 396.88,556.98 397.08,556.24 C397.27,555.50 397.99,555.08 398.25,554.38 C398.51,553.68 398.57,552.86 398.64,552.04 C398.70,551.22 398.66,550.15 398.64,549.46 C398.62,548.77 398.30,548.29 398.49,547.90 Z" fill="#3cb54a"/><ellipse cx="397.7" cy="560.5" rx="3.77" ry="4.38" fill="#3cb54a"/><ellipse cx="397.7" cy="560.5" rx="2.90" ry="3.50" fill="#e9e52a"/><ellipse cx="397.7" cy="560.5" rx="2.09" ry="2.62" fill="#f28c1c"/><ellipse cx="397.7" cy="560.5" rx="1.51" ry="2.03" fill="#e8141a"/></g>
<g filter="url(#bl)"><path d="M480.50,541.90 C480.90,541.45 482.57,541.78 483.20,542.30 C483.83,542.82 483.92,544.03 484.30,545.00 C484.68,545.97 485.37,546.95 485.50,548.10 C485.63,549.25 485.05,550.75 485.10,551.90 C485.15,553.05 485.93,553.85 485.80,555.00 C485.67,556.15 484.93,557.58 484.30,558.80 C483.67,560.02 482.97,561.33 482.00,562.30 C481.03,563.27 479.58,564.40 478.50,564.60 C477.42,564.80 476.33,564.20 475.50,563.50 C474.67,562.80 473.70,561.68 473.50,560.40 C473.30,559.12 474.10,557.15 474.30,555.80 C474.50,554.45 474.70,553.07 474.70,552.30 C474.70,551.53 473.92,551.52 474.30,551.20 C474.68,550.88 476.30,550.98 477.00,550.40 C477.70,549.82 477.87,548.60 478.50,547.70 C479.13,546.80 480.47,545.97 480.80,545.00 C481.13,544.03 480.10,542.35 480.50,541.90 Z" fill="#1a2f9e"/><path d="M480.40,543.11 C480.75,542.71 482.18,543.00 482.72,543.47 C483.27,543.93 483.34,545.03 483.67,545.90 C484.00,546.77 484.59,547.66 484.70,548.69 C484.82,549.73 484.31,551.08 484.36,552.11 C484.40,553.14 485.07,553.87 484.96,554.90 C484.85,555.93 484.21,557.22 483.67,558.32 C483.13,559.41 482.52,560.60 481.69,561.47 C480.86,562.34 479.61,563.36 478.68,563.54 C477.75,563.72 476.82,563.18 476.10,562.55 C475.39,561.92 474.55,560.91 474.38,559.76 C474.21,558.61 474.90,556.84 475.07,555.62 C475.24,554.40 475.41,553.16 475.41,552.47 C475.41,551.78 474.74,551.76 475.07,551.48 C475.40,551.20 476.79,551.28 477.39,550.76 C477.99,550.24 478.14,549.14 478.68,548.33 C479.23,547.52 480.37,546.77 480.66,545.90 C480.95,545.03 480.06,543.51 480.40,543.11 Z" fill="#2a6ae0"/><path d="M480.35,544.17 C480.63,543.80 481.80,544.07 482.24,544.50 C482.68,544.92 482.74,545.92 483.01,546.71 C483.28,547.50 483.76,548.31 483.85,549.25 C483.94,550.20 483.53,551.42 483.57,552.37 C483.61,553.31 484.15,553.97 484.06,554.91 C483.97,555.85 483.45,557.03 483.01,558.03 C482.57,559.02 482.08,560.10 481.40,560.90 C480.72,561.69 479.71,562.62 478.95,562.78 C478.19,562.95 477.43,562.45 476.85,561.88 C476.27,561.31 475.59,560.39 475.45,559.34 C475.31,558.29 475.87,556.67 476.01,555.57 C476.15,554.46 476.29,553.32 476.29,552.70 C476.29,552.07 475.74,552.05 476.01,551.79 C476.28,551.53 477.41,551.62 477.90,551.14 C478.39,550.66 478.51,549.66 478.95,548.92 C479.39,548.19 480.33,547.50 480.56,546.71 C480.79,545.92 480.07,544.54 480.35,544.17 Z" fill="#31c4ee"/><path d="M480.38,546.31 C480.54,546.03 481.21,546.24 481.46,546.56 C481.71,546.88 481.75,547.63 481.90,548.23 C482.05,548.83 482.33,549.44 482.38,550.15 C482.43,550.87 482.20,551.80 482.22,552.51 C482.24,553.22 482.55,553.72 482.50,554.43 C482.45,555.14 482.15,556.03 481.90,556.79 C481.65,557.54 481.37,558.36 480.98,558.96 C480.59,559.56 480.01,560.26 479.58,560.38 C479.15,560.51 478.71,560.13 478.38,559.70 C478.05,559.27 477.66,558.57 477.58,557.78 C477.50,556.98 477.82,555.76 477.90,554.93 C477.98,554.09 478.06,553.23 478.06,552.76 C478.06,552.28 477.75,552.27 477.90,552.07 C478.05,551.88 478.70,551.94 478.98,551.58 C479.26,551.22 479.33,550.46 479.58,549.90 C479.83,549.35 480.37,548.83 480.50,548.23 C480.63,547.63 480.22,546.59 480.38,546.31 Z" fill="#3cb54a"/><ellipse cx="478.4" cy="559.3" rx="2.86" ry="4.12" fill="#3cb54a"/><ellipse cx="478.4" cy="559.3" rx="2.20" ry="3.30" fill="#e9e52a"/><ellipse cx="478.4" cy="559.3" rx="1.58" ry="2.47" fill="#f28c1c"/><ellipse cx="478.4" cy="559.3" rx="1.14" ry="1.91" fill="#e8141a"/></g>
<g filter="url(#bl)"><ellipse cx="477.8" cy="568.8" rx="2.8" ry="1.6" transform="rotate(15 477.8 568.8)" fill="#1a2f9e"/></g>
<rect x="78.0" y="559.5" width="1" height="1" fill="#4a6ad0" fill-opacity="0.7"/>
<rect x="61.0" y="565.5" width="1" height="1" fill="#4a6ad0" fill-opacity="0.7"/>
<rect x="303.0" y="564.0" width="1" height="1" fill="#4a6ad0" fill-opacity="0.7"/>
<rect x="301.0" y="568.5" width="1" height="1" fill="#4a6ad0" fill-opacity="0.7"/>
<rect x="330.0" y="569.0" width="1" height="1" fill="#4a6ad0" fill-opacity="0.7"/>
<rect x="372.0" y="568.0" width="1" height="1" fill="#4a6ad0" fill-opacity="0.7"/>
<rect x="412.0" y="570.5" width="1" height="1" fill="#4a6ad0" fill-opacity="0.7"/>
<rect x="463.0" y="563.0" width="1" height="1" fill="#4a6ad0" fill-opacity="0.7"/>
<rect x="465.0" y="568.0" width="1" height="1" fill="#4a6ad0" fill-opacity="0.7"/>
<rect x="207.0" y="556.0" width="1" height="1" fill="#4a6ad0" fill-opacity="0.7"/>
<rect x="157.5" y="558.5" width="1" height="1" fill="#4a6ad0" fill-opacity="0.7"/>
<text x="16.1" y="547.3" font-size="10.5" text-anchor="middle" fill="#222" transform="rotate(-90 16.1 547.3)" dy="3.78" textLength="19.5" lengthAdjust="spacingAndGlyphs">SSC-A</text>
<text x="70.1" y="596.94" font-size="9" text-anchor="middle" font-weight="normal" font-style="normal" fill="#222" textLength="28.1" lengthAdjust="spacingAndGlyphs">pSMAD3</text>
<path d="M89.9,593.7 H492" stroke="#222" stroke-width="1.3" fill="none" />
<path d="M491.4,590.4 L502,593.7 L491.4,597 Z" stroke="none" stroke-width="0" fill="#111" />
<line x1="60.2" y1="615.2" x2="60.2" y2="669" stroke="#3a3a3a" stroke-width="1.0"/>
<line x1="57.400000000000006" y1="615.2" x2="60.2" y2="615.2" stroke="#3a3a3a" stroke-width="1.0"/>
<text x="54.50000000000001" y="618.08" font-size="8.0" text-anchor="end" font-weight="normal" font-style="normal" fill="#2a2a2a">100</text>
<line x1="57.400000000000006" y1="626" x2="60.2" y2="626" stroke="#3a3a3a" stroke-width="1.0"/>
<text x="54.50000000000001" y="628.88" font-size="8.0" text-anchor="end" font-weight="normal" font-style="normal" fill="#2a2a2a">80</text>
<line x1="57.400000000000006" y1="637" x2="60.2" y2="637" stroke="#3a3a3a" stroke-width="1.0"/>
<text x="54.50000000000001" y="639.88" font-size="8.0" text-anchor="end" font-weight="normal" font-style="normal" fill="#2a2a2a">60</text>
<line x1="57.400000000000006" y1="647.6" x2="60.2" y2="647.6" stroke="#3a3a3a" stroke-width="1.0"/>
<text x="54.50000000000001" y="650.48" font-size="8.0" text-anchor="end" font-weight="normal" font-style="normal" fill="#2a2a2a">40</text>
<line x1="57.400000000000006" y1="658.2" x2="60.2" y2="658.2" stroke="#3a3a3a" stroke-width="1.0"/>
<text x="54.50000000000001" y="661.08" font-size="8.0" text-anchor="end" font-weight="normal" font-style="normal" fill="#2a2a2a">20</text>
<line x1="57.400000000000006" y1="669" x2="60.2" y2="669" stroke="#3a3a3a" stroke-width="1.0"/>
<text x="54.50000000000001" y="671.88" font-size="8.0" text-anchor="end" font-weight="normal" font-style="normal" fill="#2a2a2a">0</text>
<rect x="63.40" y="660.90" width="7.40" height="8.10" fill="#e8847a" stroke="none" stroke-width="0"/>
<rect x="72.50" y="661.30" width="7.20" height="7.70" fill="#8499c4" stroke="none" stroke-width="0"/>
<rect x="81.30" y="649.70" width="7.50" height="19.30" fill="#98d08c" stroke="none" stroke-width="0"/>
<rect x="95.70" y="637.00" width="7.20" height="32.00" fill="#e8847a" stroke="none" stroke-width="0"/>
<rect x="104.60" y="637.00" width="7.40" height="32.00" fill="#8499c4" stroke="none" stroke-width="0"/>
<rect x="113.50" y="638.50" width="7.60" height="30.50" fill="#98d08c" stroke="none" stroke-width="0"/>
<circle cx="67.00" cy="657.50" r="2.05" fill="#c8102e"/>
<circle cx="65.50" cy="659.80" r="2.05" fill="#c8102e"/>
<circle cx="68.70" cy="659.80" r="2.05" fill="#c8102e"/>
<circle cx="67.00" cy="661.50" r="2.05" fill="#c8102e"/>
<circle cx="76.00" cy="658.50" r="2.05" fill="#17548f"/>
<circle cx="74.50" cy="660.70" r="2.05" fill="#17548f"/>
<circle cx="77.50" cy="660.70" r="2.05" fill="#17548f"/>
<circle cx="85.00" cy="646.10" r="2.05" fill="#3ab54a"/>
<circle cx="86.50" cy="649.00" r="2.05" fill="#3ab54a"/>
<circle cx="84.00" cy="650.30" r="2.05" fill="#3ab54a"/>
<circle cx="99.30" cy="636.00" r="2.05" fill="#c8102e"/>
<circle cx="97.80" cy="637.00" r="2.05" fill="#c8102e"/>
<circle cx="100.80" cy="637.50" r="2.05" fill="#c8102e"/>
<circle cx="108.30" cy="636.50" r="2.05" fill="#17548f"/>
<circle cx="106.80" cy="637.50" r="2.05" fill="#17548f"/>
<circle cx="109.80" cy="637.00" r="2.05" fill="#17548f"/>
<circle cx="117.30" cy="633.50" r="2.05" fill="#3ab54a"/>
<circle cx="118.50" cy="635.50" r="2.05" fill="#3ab54a"/>
<circle cx="116.00" cy="640.00" r="2.05" fill="#3ab54a"/>
<circle cx="117.00" cy="644.60" r="2.05" fill="#3ab54a"/>
<line x1="60.2" y1="669" x2="122.6" y2="669" stroke="#3a3a3a" stroke-width="1.0"/>
<line x1="76" y1="669" x2="76" y2="671.6" stroke="#3a3a3a" stroke-width="1.0"/>
<line x1="108.4" y1="669" x2="108.4" y2="671.6" stroke="#3a3a3a" stroke-width="1.0"/>
<path d="M66.5,658.2 V619.5 H84.5 V625.4" stroke="#4a4a4a" stroke-width="1.0" fill="none" />
<text x="75.50" y="621.09" font-size="8.8" text-anchor="middle" fill="#2a2a2a" letter-spacing="0.1">***</text>
<path d="M75.6,657.5 V636 H84.5 V641.3" stroke="#4a4a4a" stroke-width="1.0" fill="none" />
<text x="80.05" y="637.69" font-size="8.8" text-anchor="middle" fill="#2a2a2a" letter-spacing="0.1">***</text>
<path d="M98.7,628.5999999999999 V612.3 H116.9 V616.9" stroke="#4a4a4a" stroke-width="1.0" fill="none" />
<text x="107.80000000000001" y="610.82" font-size="7.0" text-anchor="middle" font-weight="normal" font-style="normal" fill="#333">ns</text>
<path d="M107.8,628.6 V625.4 H116.9 V629.1999999999999" stroke="#4a4a4a" stroke-width="1.0" fill="none" />
<text x="112.35" y="623.92" font-size="7.0" text-anchor="middle" font-weight="normal" font-style="normal" fill="#333">ns</text>
<text x="75.75" y="682.01" font-size="9.2" text-anchor="middle" font-weight="normal" font-style="normal" fill="#2a2a2a" textLength="24.7" lengthAdjust="spacingAndGlyphs">Vehicle</text>
<text x="107.35" y="682.01" font-size="9.2" text-anchor="middle" font-weight="normal" font-style="normal" fill="#2a2a2a" textLength="23.3" lengthAdjust="spacingAndGlyphs">TGF-β</text>
<text x="33.75" y="641" font-size="9.6" text-anchor="middle" fill="#2a2a2a" transform="rotate(-90 33.75 641)" dy="3.3" textLength="67" lengthAdjust="spacingAndGlyphs">% phospho-SMAD3<tspan font-size="5" dy="-3.5">+</tspan></text>
<circle cx="134.20" cy="612.80" r="1.85" fill="#c8102e"/>
<text x="139.1" y="615.46" font-size="8" fill="#2a2a2a" textLength="23.4" lengthAdjust="spacingAndGlyphs">34<tspan font-size="4.5" dy="-3">−</tspan><tspan dy="3">KSL</tspan></text>
<circle cx="134.20" cy="620.60" r="1.85" fill="#17548f"/>
<text x="139.1" y="623.26" font-size="8" fill="#2a2a2a" textLength="39.2" lengthAdjust="spacingAndGlyphs">Sdc2<tspan font-size="4.5" dy="-3">−</tspan><tspan dy="3"> HSCs</tspan></text>
<circle cx="134.20" cy="628.70" r="1.85" fill="#3ab54a"/>
<text x="139.1" y="631.36" font-size="8" fill="#2a2a2a" textLength="39.2" lengthAdjust="spacingAndGlyphs">Sdc2<tspan font-size="4.5" dy="-3">+</tspan><tspan dy="3"> HSCs</tspan></text>
</svg></body></html>
